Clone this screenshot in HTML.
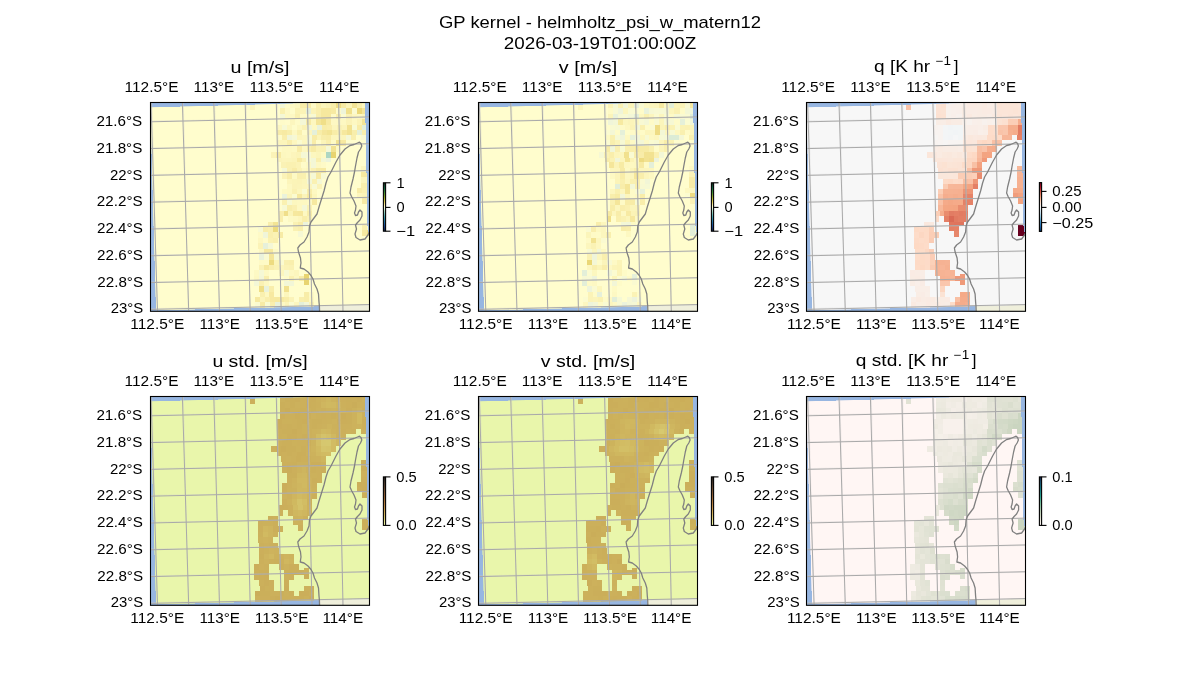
<!DOCTYPE html>
<html><head><meta charset="utf-8"><title>GP kernel - helmholtz_psi_w_matern12</title><style>html,body{margin:0;padding:0;background:#fff;}svg{display:block;will-change:transform;}</style></head><body>
<svg width="1200" height="700" viewBox="0 0 1200 700" font-family="'Liberation Sans', sans-serif" fill="#000">
<rect width="1200" height="700" fill="#fff"/>
<defs>
<clipPath id="axclip"><rect x="150.5" y="396.5" width="219" height="208.8"/></clipPath>
<clipPath id="dataclip"><polygon points="150.2,401.3 372,395.4 372,599 155.9,604.5"/></clipPath>
<path id="grid" d="M151 397L157.5 605M182.4 397L188.7 605M213.8 397L219.5 605M245.2 397L250.2 605M276.3 397L281.2 605M307.4 397L312 605M338.6 397L343 605M369.8 397L374 605M150.8 415.8L369.3 410.9M150.8 442.6L369.3 437.7M150.8 469.4L369.3 464.5M150.8 496.2L369.3 491.3M150.8 523L369.3 518.1M150.8 549.8L369.3 544.9M150.8 576.6L369.3 571.7M150.8 603.4L369.3 598.5" fill="none"/>
<path id="grid2" d="M151.9 397L157.2 605M183.3 397L188.4 605M214.7 397L219.2 605M246.1 397L249.9 605M277.2 397L280.9 605M308.3 397L311.7 605M339.5 397L342.7 605M370.7 397L373.7 605M150.8 415L369.3 411.5M150.8 441.8L369.3 438.3M150.8 468.6L369.3 465.1M150.8 495.4L369.3 491.9M150.8 522.2L369.3 518.7M150.8 549L369.3 545.5M150.8 575.8L369.3 572.3M150.8 602.6L369.3 599.1" fill="none"/>
<path id="coast" d="M319.6 606L319.4 600L319 596L318.5 588L317 583L314.5 578L313 573L311 569.5L308 566L304 563L300.3 562L300.6 559.5L301 557L300.5 552L298.5 546L297.8 542L300 539L304 536L307 531L309 526L309.5 520L311 516L314 512L317 508L319 501L321.5 493L324 485L326 477L328 471L331 466L336 456L340 449L345 443L350 439.5L354 438.5L357.5 437L359.5 436.2L361 437.5L361.8 440L360.5 443L358.5 446L357 452L355.5 460L354.5 466L353 473L351 481L350 487L351.5 490.5L354 495L356 500L355.5 504L354.5 507L355.5 509.5L357.5 509L358.5 506L360 504L362 506L362 510L360 514L357.5 516.5L355.5 519L356.5 523L355 528L356 531.5L360 534L365 533L368 529L370.5 523" fill="none"/>
</defs>
<g transform="translate(0 -294)">
<g clip-path="url(#axclip)">
<rect x="148" y="394" width="226" height="214" fill="#97b6e1"/>
<polygon points="319.6,594 374,594 374,608 319.6,608" fill="#efefdb"/>
<g clip-path="url(#dataclip)" shape-rendering="crispEdges">
<polygon points="150.2,401.3 372,395.4 372,599 155.9,604.5" fill="#fffdcd"/>
<rect x="280" y="396" width="5.16" height="5.8" fill="#f3f7d6"/><rect x="280" y="401.75" width="5.16" height="5.8" fill="#f9f0af"/><rect x="280" y="407.5" width="5.16" height="5.8" fill="#f4f7d5"/><rect x="280" y="413.25" width="5.16" height="5.8" fill="#fefbc9"/><rect x="285.11" y="396" width="5.16" height="5.8" fill="#fefbc8"/><rect x="285.11" y="401.75" width="5.16" height="5.8" fill="#fdf8c3"/><rect x="285.11" y="407.5" width="5.16" height="5.8" fill="#fdf8c1"/><rect x="285.11" y="413.25" width="5.16" height="5.8" fill="#fffccb"/><rect x="290.22" y="396" width="5.16" height="5.8" fill="#fdf9c4"/><rect x="290.22" y="401.75" width="5.16" height="5.8" fill="#fefcca"/><rect x="290.22" y="407.5" width="5.16" height="5.8" fill="#fdf8c3"/><rect x="290.22" y="413.25" width="5.16" height="5.8" fill="#fcf6be"/><rect x="295.33" y="396" width="5.16" height="5.8" fill="#fcf7bf"/><rect x="295.33" y="401.75" width="5.16" height="5.8" fill="#faf2b4"/><rect x="295.33" y="407.5" width="5.16" height="5.8" fill="#f9f0b0"/><rect x="295.33" y="413.25" width="5.16" height="5.8" fill="#fefbc8"/><rect x="300.44" y="396" width="5.16" height="5.8" fill="#f8eda9"/><rect x="300.44" y="401.75" width="5.16" height="5.8" fill="#fbf3b7"/><rect x="300.44" y="407.5" width="5.16" height="5.8" fill="#fefac6"/><rect x="300.44" y="413.25" width="5.16" height="5.8" fill="#f4f7d6"/><rect x="305.56" y="396" width="5.16" height="5.8" fill="#f8eca7"/><rect x="305.56" y="401.75" width="5.16" height="5.8" fill="#e4efd9"/><rect x="305.56" y="407.5" width="5.16" height="5.8" fill="#fefac7"/><rect x="305.56" y="413.25" width="5.16" height="5.8" fill="#f7eba5"/><rect x="310.67" y="396" width="5.16" height="5.8" fill="#fefac7"/><rect x="310.67" y="401.75" width="5.16" height="5.8" fill="#fbf3b7"/><rect x="310.67" y="407.5" width="5.16" height="5.8" fill="#f7f9d3"/><rect x="310.67" y="413.25" width="5.16" height="5.8" fill="#fdf7c0"/><rect x="315.78" y="396" width="5.16" height="5.8" fill="#f9efad"/><rect x="315.78" y="401.75" width="5.16" height="5.8" fill="#f9eeac"/><rect x="315.78" y="407.5" width="5.16" height="5.8" fill="#f8eeab"/><rect x="315.78" y="413.25" width="5.16" height="5.8" fill="#f4e597"/><rect x="320.89" y="396" width="5.16" height="5.8" fill="#fbf5bb"/><rect x="320.89" y="401.75" width="5.16" height="5.8" fill="#f6e89e"/><rect x="320.89" y="407.5" width="5.16" height="5.8" fill="#f6e89e"/><rect x="320.89" y="413.25" width="5.16" height="5.8" fill="#f0df89"/><rect x="326" y="396" width="5.16" height="5.8" fill="#faf2b5"/><rect x="326" y="401.75" width="5.16" height="5.8" fill="#f6e89e"/><rect x="326" y="407.5" width="5.16" height="5.8" fill="#f6e89e"/><rect x="326" y="413.25" width="5.16" height="5.8" fill="#f7eaa3"/><rect x="331.11" y="396" width="5.16" height="5.8" fill="#f8eeaa"/><rect x="331.11" y="401.75" width="5.16" height="5.8" fill="#f7eaa2"/><rect x="331.11" y="407.5" width="5.16" height="5.8" fill="#fefac6"/><rect x="331.11" y="413.25" width="5.16" height="5.8" fill="#fdf8c3"/><rect x="336.22" y="396" width="5.16" height="5.8" fill="#eedc84"/><rect x="336.22" y="401.75" width="5.16" height="5.8" fill="#fefbc9"/><rect x="336.22" y="407.5" width="5.16" height="5.8" fill="#f9eeac"/><rect x="336.22" y="413.25" width="5.16" height="5.8" fill="#fdf8c2"/><rect x="341.33" y="396" width="5.16" height="5.8" fill="#f7eba4"/><rect x="341.33" y="401.75" width="5.16" height="5.8" fill="#eef4da"/><rect x="341.33" y="407.5" width="5.16" height="5.8" fill="#fbfbd0"/><rect x="341.33" y="413.25" width="5.16" height="5.8" fill="#fdf8c2"/><rect x="346.44" y="396" width="5.16" height="5.8" fill="#fbf4b9"/><rect x="346.44" y="401.75" width="5.16" height="5.8" fill="#f0e08b"/><rect x="346.44" y="407.5" width="5.16" height="5.8" fill="#faf1b3"/><rect x="346.44" y="413.25" width="5.16" height="5.8" fill="#fbf3b8"/><rect x="351.56" y="396" width="5.16" height="5.8" fill="#f3e495"/><rect x="351.56" y="401.75" width="5.16" height="5.8" fill="#fafad1"/><rect x="351.56" y="407.5" width="5.16" height="5.8" fill="#fdf7c0"/><rect x="351.56" y="413.25" width="5.16" height="5.8" fill="#fdf8c2"/><rect x="356.67" y="396" width="5.16" height="5.8" fill="#f9efae"/><rect x="356.67" y="401.75" width="5.16" height="5.8" fill="#ebd879"/><rect x="356.67" y="407.5" width="5.16" height="5.8" fill="#fdf8c1"/><rect x="356.67" y="413.25" width="5.16" height="5.8" fill="#fbf3b7"/><rect x="361.78" y="396" width="5.16" height="5.8" fill="#fcf7bf"/><rect x="361.78" y="401.75" width="5.16" height="5.8" fill="#f4e597"/><rect x="361.78" y="407.5" width="5.16" height="5.8" fill="#fbf4ba"/><rect x="361.78" y="413.25" width="5.16" height="5.8" fill="#f3e496"/><rect x="366.89" y="396" width="5.16" height="5.8" fill="#fdf7c0"/><rect x="366.89" y="401.75" width="5.16" height="5.8" fill="#fcf6bd"/><rect x="366.89" y="407.5" width="5.16" height="5.8" fill="#f1e08d"/><rect x="366.89" y="413.25" width="5.16" height="5.8" fill="#f2e392"/><rect x="277" y="419" width="5.05" height="5.05" fill="#fcf7c0"/><rect x="277" y="424" width="5.05" height="5.05" fill="#f8eca7"/><rect x="282" y="419" width="5.05" height="5.05" fill="#f7f9d4"/><rect x="282" y="424" width="5.05" height="5.05" fill="#f7eaa3"/><rect x="287" y="419" width="5.05" height="5.05" fill="#fcf7c0"/><rect x="287" y="424" width="5.05" height="5.05" fill="#f8eeab"/><rect x="292" y="419" width="5.05" height="5.05" fill="#fefcca"/><rect x="292" y="424" width="5.05" height="5.05" fill="#fdf8c2"/><rect x="297" y="419" width="5.05" height="5.05" fill="#fcf7c0"/><rect x="297" y="424" width="5.05" height="5.05" fill="#f9f0af"/><rect x="302" y="419" width="5.05" height="5.05" fill="#faf2b5"/><rect x="302" y="424" width="5.05" height="5.05" fill="#fefbc9"/><rect x="307" y="419" width="5.05" height="5.05" fill="#f2f6d7"/><rect x="307" y="424" width="5.05" height="5.05" fill="#fcf5bc"/><rect x="312" y="419" width="5.05" height="5.05" fill="#fdf9c3"/><rect x="312" y="424" width="5.05" height="5.05" fill="#e5f0d9"/><rect x="317" y="419" width="5.05" height="5.05" fill="#eaf2db"/><rect x="317" y="424" width="5.05" height="5.05" fill="#f8eda9"/><rect x="322" y="419" width="5.05" height="5.05" fill="#f8eda8"/><rect x="322" y="424" width="5.05" height="5.05" fill="#f5e69b"/><rect x="327" y="419" width="5.05" height="5.05" fill="#f9eeac"/><rect x="327" y="424" width="5.05" height="5.05" fill="#f3e494"/><rect x="332" y="419" width="5.05" height="5.05" fill="#fcf6bd"/><rect x="332" y="424" width="5.05" height="5.05" fill="#f8eda8"/><rect x="337" y="419" width="5.05" height="5.05" fill="#faf2b4"/><rect x="337" y="424" width="5.05" height="5.05" fill="#f9f0af"/><rect x="342" y="419" width="5.05" height="5.05" fill="#fbf4ba"/><rect x="342" y="424" width="5.05" height="5.05" fill="#f6e89e"/><rect x="347" y="419" width="5.05" height="5.05" fill="#f2e291"/><rect x="347" y="424" width="5.05" height="5.05" fill="#f2e291"/><rect x="352" y="419" width="5.05" height="5.05" fill="#f8fad2"/><rect x="352" y="424" width="5.05" height="5.05" fill="#f8eeab"/><rect x="357" y="419" width="5.05" height="5.05" fill="#f8eca6"/><rect x="357" y="424" width="5.05" height="5.05" fill="#e4efd9"/><rect x="362" y="419" width="5.05" height="5.05" fill="#e2eed8"/><rect x="362" y="424" width="5.05" height="5.05" fill="#f9efad"/><rect x="367" y="419" width="5.05" height="5.05" fill="#fefac6"/><rect x="367" y="424" width="5.05" height="5.05" fill="#fbf5ba"/><rect x="277" y="429" width="4.99" height="5.05" fill="#fefbc9"/><rect x="281.94" y="429" width="4.99" height="5.05" fill="#f9eeac"/><rect x="286.88" y="429" width="4.99" height="5.05" fill="#f1f5d8"/><rect x="291.81" y="429" width="4.99" height="5.05" fill="#f6f8d4"/><rect x="296.75" y="429" width="4.99" height="5.05" fill="#fcf5bb"/><rect x="301.69" y="429" width="4.99" height="5.05" fill="#fcf6be"/><rect x="306.62" y="429" width="4.99" height="5.05" fill="#f7f9d3"/><rect x="311.56" y="429" width="4.99" height="5.05" fill="#f8eca6"/><rect x="316.5" y="429" width="4.99" height="5.05" fill="#fbf4b8"/><rect x="321.44" y="429" width="4.99" height="5.05" fill="#f8edaa"/><rect x="326.38" y="429" width="4.99" height="5.05" fill="#f8eca7"/><rect x="331.31" y="429" width="4.99" height="5.05" fill="#fcf6bc"/><rect x="336.25" y="429" width="4.99" height="5.05" fill="#fcf6be"/><rect x="341.19" y="429" width="4.99" height="5.05" fill="#fbf5bb"/><rect x="346.12" y="429" width="4.99" height="5.05" fill="#f4f7d6"/><rect x="351.06" y="429" width="4.99" height="5.05" fill="#f9efae"/><rect x="361" y="429" width="5.55" height="5.05" fill="#f8f9d3"/><rect x="366.5" y="429" width="5.55" height="5.05" fill="#e4efd9"/><rect x="277" y="434" width="4.98" height="5.55" fill="#fcf5bb"/><rect x="281.93" y="434" width="4.98" height="5.55" fill="#fcf5bb"/><rect x="286.86" y="434" width="4.98" height="5.55" fill="#f9eeac"/><rect x="291.79" y="434" width="4.98" height="5.55" fill="#fdf7c0"/><rect x="296.71" y="434" width="4.98" height="5.55" fill="#fbfbd0"/><rect x="301.64" y="434" width="4.98" height="5.55" fill="#fdf7c0"/><rect x="306.57" y="434" width="4.98" height="5.55" fill="#f4f7d6"/><rect x="311.5" y="434" width="4.98" height="5.55" fill="#f8eca8"/><rect x="316.43" y="434" width="4.98" height="5.55" fill="#fffcca"/><rect x="321.36" y="434" width="4.98" height="5.55" fill="#fbf4b9"/><rect x="326.29" y="434" width="4.98" height="5.55" fill="#f9eeac"/><rect x="331.21" y="434" width="4.98" height="5.55" fill="#fefac5"/><rect x="336.14" y="434" width="4.98" height="5.55" fill="#f1e18f"/><rect x="341.07" y="434" width="4.98" height="5.55" fill="#f7e9a1"/><rect x="277" y="439.5" width="4.97" height="6.05" fill="#fefac7"/><rect x="281.92" y="439.5" width="4.97" height="6.05" fill="#fdf8c1"/><rect x="286.85" y="439.5" width="4.97" height="6.05" fill="#fdf8c1"/><rect x="291.77" y="439.5" width="4.97" height="6.05" fill="#fdf9c3"/><rect x="296.69" y="439.5" width="4.97" height="6.05" fill="#f8eca8"/><rect x="301.62" y="439.5" width="4.97" height="6.05" fill="#fdf7c0"/><rect x="306.54" y="439.5" width="4.97" height="6.05" fill="#f9f0af"/><rect x="311.46" y="439.5" width="4.97" height="6.05" fill="#f7eba5"/><rect x="316.38" y="439.5" width="4.97" height="6.05" fill="#faf2b4"/><rect x="321.31" y="439.5" width="4.97" height="6.05" fill="#faf1b3"/><rect x="326.23" y="439.5" width="4.97" height="6.05" fill="#f4f7d6"/><rect x="331.15" y="439.5" width="4.97" height="6.05" fill="#f2e291"/><rect x="336.08" y="439.5" width="4.97" height="6.05" fill="#fdf9c5"/><rect x="271" y="445.5" width="5.05" height="6.05" fill="#fbf3b8"/><rect x="276" y="445.5" width="5.05" height="6.05" fill="#f7eaa3"/><rect x="281" y="445.5" width="5.05" height="6.05" fill="#fcf7bf"/><rect x="286" y="445.5" width="5.05" height="6.05" fill="#fdf8c1"/><rect x="291" y="445.5" width="5.05" height="6.05" fill="#fcf5bc"/><rect x="296" y="445.5" width="5.05" height="6.05" fill="#fbf4b8"/><rect x="301" y="445.5" width="5.05" height="6.05" fill="#f5f8d5"/><rect x="306" y="445.5" width="5.05" height="6.05" fill="#f7f9d3"/><rect x="311" y="445.5" width="5.05" height="6.05" fill="#fcf7bf"/><rect x="316" y="445.5" width="5.05" height="6.05" fill="#fbf5ba"/><rect x="321" y="445.5" width="5.05" height="6.05" fill="#fdf9c3"/><rect x="326" y="445.5" width="5.05" height="6.05" fill="#add6c3"/><rect x="331" y="445.5" width="5.05" height="6.05" fill="#e8d470"/><rect x="277" y="451.5" width="4.96" height="4.55" fill="#fbf4b9"/><rect x="281.91" y="451.5" width="4.96" height="4.55" fill="#fcf5bb"/><rect x="286.82" y="451.5" width="4.96" height="4.55" fill="#fbf5bb"/><rect x="291.73" y="451.5" width="4.96" height="4.55" fill="#fbf4b8"/><rect x="296.64" y="451.5" width="4.96" height="4.55" fill="#f7eaa2"/><rect x="301.55" y="451.5" width="4.96" height="4.55" fill="#faf2b5"/><rect x="306.45" y="451.5" width="4.96" height="4.55" fill="#fafad1"/><rect x="311.36" y="451.5" width="4.96" height="4.55" fill="#f3f7d6"/><rect x="316.27" y="451.5" width="4.96" height="4.55" fill="#f9efae"/><rect x="321.18" y="451.5" width="4.96" height="4.55" fill="#f3f7d6"/><rect x="326.09" y="451.5" width="4.96" height="4.55" fill="#ecf3dc"/><rect x="281" y="456" width="5.05" height="6.05" fill="#faf2b5"/><rect x="286" y="456" width="5.05" height="6.05" fill="#faf1b1"/><rect x="291" y="456" width="5.05" height="6.05" fill="#faf1b1"/><rect x="296" y="456" width="5.05" height="6.05" fill="#fbf3b6"/><rect x="301" y="456" width="5.05" height="6.05" fill="#fefbc9"/><rect x="306" y="456" width="5.05" height="6.05" fill="#fdf9c3"/><rect x="311" y="456" width="5.05" height="6.05" fill="#f4f7d6"/><rect x="316" y="456" width="5.05" height="6.05" fill="#fdf8c2"/><rect x="321" y="456" width="5.05" height="6.05" fill="#fefac7"/><rect x="282" y="462" width="4.94" height="5.3" fill="#f5f8d5"/><rect x="282" y="467.25" width="4.94" height="5.3" fill="#fbf3b8"/><rect x="286.89" y="462" width="4.94" height="5.3" fill="#faf1b2"/><rect x="286.89" y="467.25" width="4.94" height="5.3" fill="#f8eda9"/><rect x="291.78" y="462" width="4.94" height="5.3" fill="#f8eca7"/><rect x="291.78" y="467.25" width="4.94" height="5.3" fill="#fdf9c4"/><rect x="296.67" y="462" width="4.94" height="5.3" fill="#fbf3b6"/><rect x="296.67" y="467.25" width="4.94" height="5.3" fill="#f9efaf"/><rect x="301.56" y="462" width="4.94" height="5.3" fill="#fdf8c2"/><rect x="301.56" y="467.25" width="4.94" height="5.3" fill="#f9f0af"/><rect x="306.44" y="462" width="4.94" height="5.3" fill="#fcf6bd"/><rect x="306.44" y="467.25" width="4.94" height="5.3" fill="#fdf9c3"/><rect x="311.33" y="462" width="4.94" height="5.3" fill="#faf0b1"/><rect x="311.33" y="467.25" width="4.94" height="5.3" fill="#f5f8d5"/><rect x="316.22" y="462" width="4.94" height="5.3" fill="#f7eba4"/><rect x="316.22" y="467.25" width="4.94" height="5.3" fill="#f7eaa3"/><rect x="321.11" y="462" width="4.94" height="5.3" fill="#f7eaa2"/><rect x="321.11" y="467.25" width="4.94" height="5.3" fill="#f7f9d4"/><rect x="287" y="472.5" width="5.05" height="5.05" fill="#fcf5bb"/><rect x="287" y="477.5" width="5.05" height="5.05" fill="#fdf8c1"/><rect x="292" y="472.5" width="5.05" height="5.05" fill="#fbf4b8"/><rect x="292" y="477.5" width="5.05" height="5.05" fill="#fbf3b8"/><rect x="297" y="472.5" width="5.05" height="5.05" fill="#fbf3b7"/><rect x="297" y="477.5" width="5.05" height="5.05" fill="#fbf4b9"/><rect x="302" y="472.5" width="5.05" height="5.05" fill="#fbf5bb"/><rect x="302" y="477.5" width="5.05" height="5.05" fill="#fcf5bc"/><rect x="307" y="472.5" width="5.05" height="5.05" fill="#f4f7d6"/><rect x="307" y="477.5" width="5.05" height="5.05" fill="#fcf6bd"/><rect x="312" y="472.5" width="5.05" height="5.05" fill="#faf1b2"/><rect x="312" y="477.5" width="5.05" height="5.05" fill="#f8f9d3"/><rect x="317" y="472.5" width="5.05" height="5.05" fill="#f4f7d6"/><rect x="317" y="477.5" width="5.05" height="5.05" fill="#fbf3b8"/><rect x="282" y="482.5" width="5.05" height="5.38" fill="#fdf9c3"/><rect x="282" y="487.83" width="5.05" height="5.38" fill="#eaf2db"/><rect x="282" y="493.17" width="5.05" height="5.38" fill="#faf1b1"/><rect x="287" y="482.5" width="5.05" height="5.38" fill="#fdf8c1"/><rect x="287" y="487.83" width="5.05" height="5.38" fill="#fbf5bb"/><rect x="287" y="493.17" width="5.05" height="5.38" fill="#f7f9d3"/><rect x="292" y="482.5" width="5.05" height="5.38" fill="#faf1b2"/><rect x="292" y="487.83" width="5.05" height="5.38" fill="#fbfbd0"/><rect x="292" y="493.17" width="5.05" height="5.38" fill="#fcf7bf"/><rect x="297" y="482.5" width="5.05" height="5.38" fill="#fcf6bd"/><rect x="297" y="487.83" width="5.05" height="5.38" fill="#f6e89d"/><rect x="297" y="493.17" width="5.05" height="5.38" fill="#fdf8c1"/><rect x="302" y="482.5" width="5.05" height="5.38" fill="#f9fad2"/><rect x="302" y="487.83" width="5.05" height="5.38" fill="#fbf4b9"/><rect x="302" y="493.17" width="5.05" height="5.38" fill="#fdf8c1"/><rect x="307" y="482.5" width="5.05" height="5.38" fill="#f8edaa"/><rect x="307" y="487.83" width="5.05" height="5.38" fill="#f6e9a0"/><rect x="307" y="493.17" width="5.05" height="5.38" fill="#fdf9c4"/><rect x="312" y="482.5" width="5.05" height="5.38" fill="#fdf8c2"/><rect x="312" y="487.83" width="5.05" height="5.38" fill="#fcf6bc"/><rect x="312" y="493.17" width="5.05" height="5.38" fill="#f6e9a0"/><rect x="282" y="498.5" width="5.05" height="6.55" fill="#f7f9d3"/><rect x="287" y="498.5" width="5.05" height="6.55" fill="#f8eeab"/><rect x="292" y="498.5" width="5.05" height="6.55" fill="#faf0b1"/><rect x="297" y="498.5" width="5.05" height="6.55" fill="#fdf8c2"/><rect x="302" y="498.5" width="5.05" height="6.55" fill="#f4f7d6"/><rect x="307" y="498.5" width="5.05" height="6.55" fill="#faf2b4"/><rect x="279" y="505" width="4.76" height="5.05" fill="#f9eeac"/><rect x="283.71" y="505" width="4.76" height="5.05" fill="#f0df8a"/><rect x="288.43" y="505" width="4.76" height="5.05" fill="#fbf4b8"/><rect x="293.14" y="505" width="4.76" height="5.05" fill="#f6e89d"/><rect x="297.86" y="505" width="4.76" height="5.05" fill="#f6e79c"/><rect x="302.57" y="505" width="4.76" height="5.05" fill="#fdf8c2"/><rect x="307.29" y="505" width="4.76" height="5.05" fill="#f8eda9"/><rect x="279" y="510" width="4.05" height="5.55" fill="#f9eeac"/><rect x="288" y="510" width="4.85" height="5.55" fill="#fdf9c4"/><rect x="292.8" y="510" width="4.85" height="5.55" fill="#fdf8c1"/><rect x="297.6" y="510" width="4.85" height="5.55" fill="#fcf5bc"/><rect x="302.4" y="510" width="4.85" height="5.55" fill="#f9eeab"/><rect x="307.2" y="510" width="4.85" height="5.55" fill="#faf2b4"/><rect x="293" y="515.5" width="5.05" height="4.05" fill="#faf1b3"/><rect x="298" y="515.5" width="5.05" height="4.05" fill="#f8eca8"/><rect x="303" y="515.5" width="5.05" height="4.05" fill="#ecf3dc"/><rect x="293" y="519.5" width="5.05" height="5.55" fill="#faf1b2"/><rect x="298" y="519.5" width="5.05" height="5.55" fill="#f9efad"/><rect x="298" y="525" width="5.05" height="5.55" fill="#f6f8d4"/><rect x="361" y="460" width="5.55" height="5.55" fill="#fcf7bf"/><rect x="361" y="465.5" width="5.55" height="5.55" fill="#f6e9a0"/><rect x="361" y="471" width="5.55" height="5.55" fill="#fbf5bb"/><rect x="361" y="476.5" width="5.55" height="5.55" fill="#f9efad"/><rect x="366.5" y="460" width="5.55" height="5.55" fill="#faf2b4"/><rect x="366.5" y="465.5" width="5.55" height="5.55" fill="#f8eda9"/><rect x="366.5" y="471" width="5.55" height="5.55" fill="#fbf3b6"/><rect x="366.5" y="476.5" width="5.55" height="5.55" fill="#f9f0af"/><rect x="357" y="482" width="5.05" height="5.05" fill="#f8eca8"/><rect x="357" y="487" width="5.05" height="5.05" fill="#fcf5bc"/><rect x="362" y="482" width="5.05" height="5.05" fill="#faf0b0"/><rect x="362" y="487" width="5.05" height="5.05" fill="#fbf3b7"/><rect x="367" y="482" width="5.05" height="5.05" fill="#fafad1"/><rect x="367" y="487" width="5.05" height="5.05" fill="#ebd879"/><rect x="362" y="492" width="5.05" height="5.55" fill="#f7eaa4"/><rect x="367" y="492" width="5.05" height="5.55" fill="#fafad1"/><rect x="362" y="519" width="5.05" height="5.3" fill="#f9f0af"/><rect x="362" y="524.25" width="5.05" height="5.3" fill="#f6e9a0"/><rect x="367" y="519" width="5.05" height="5.3" fill="#fefac6"/><rect x="367" y="524.25" width="5.05" height="5.3" fill="#efde87"/><rect x="268" y="516" width="5.05" height="4.55" fill="#f9eeac"/><rect x="273" y="516" width="5.05" height="4.55" fill="#f3e494"/><rect x="258" y="520.5" width="5.05" height="5.55" fill="#f8f9d3"/><rect x="263" y="520.5" width="5.05" height="5.55" fill="#f8edaa"/><rect x="268" y="520.5" width="5.05" height="5.55" fill="#f9efae"/><rect x="273" y="520.5" width="5.05" height="5.55" fill="#ecda7d"/><rect x="258" y="526" width="5.05" height="5.55" fill="#fefac6"/><rect x="263" y="526" width="5.05" height="5.55" fill="#f0f5d9"/><rect x="268" y="526" width="5.05" height="5.55" fill="#f9efad"/><rect x="273" y="526" width="5.05" height="5.55" fill="#faf2b4"/><rect x="278" y="526" width="5.05" height="5.55" fill="#f7eba5"/><rect x="258" y="531.5" width="5.05" height="5.55" fill="#fdf7c0"/><rect x="263" y="531.5" width="5.05" height="5.55" fill="#fefbc9"/><rect x="268" y="531.5" width="5.05" height="5.55" fill="#faf1b1"/><rect x="273" y="531.5" width="5.05" height="5.55" fill="#f9efad"/><rect x="258" y="537" width="5.05" height="5.55" fill="#fbf3b7"/><rect x="263" y="537" width="5.05" height="5.55" fill="#e6f0da"/><rect x="268" y="537" width="5.05" height="5.55" fill="#f4f7d6"/><rect x="259" y="542.5" width="4.8" height="5.55" fill="#fdf8c2"/><rect x="263.75" y="542.5" width="4.8" height="5.55" fill="#f6e89f"/><rect x="268.5" y="542.5" width="4.8" height="5.55" fill="#f6e89e"/><rect x="273.25" y="542.5" width="4.8" height="5.55" fill="#fdf9c5"/><rect x="259" y="548" width="5.05" height="5.55" fill="#eaf2db"/><rect x="264" y="548" width="5.05" height="5.55" fill="#f9fad2"/><rect x="269" y="548" width="5.05" height="5.55" fill="#f4e598"/><rect x="274" y="548" width="5.05" height="5.55" fill="#f7f9d3"/><rect x="259" y="553.5" width="5.05" height="5.3" fill="#fefac5"/><rect x="259" y="558.75" width="5.05" height="5.3" fill="#faf2b5"/><rect x="264" y="553.5" width="5.05" height="5.3" fill="#fefac6"/><rect x="264" y="558.75" width="5.05" height="5.3" fill="#f6e89e"/><rect x="269" y="553.5" width="5.05" height="5.3" fill="#eddb80"/><rect x="269" y="558.75" width="5.05" height="5.3" fill="#f9eeac"/><rect x="274" y="553.5" width="5.05" height="5.3" fill="#fbf4b8"/><rect x="274" y="558.75" width="5.05" height="5.3" fill="#faf2b4"/><rect x="279" y="553.5" width="5.05" height="5.3" fill="#fbfbd0"/><rect x="279" y="558.75" width="5.05" height="5.3" fill="#fcf6bd"/><rect x="284" y="553.5" width="5.05" height="5.3" fill="#f9f0b0"/><rect x="284" y="558.75" width="5.05" height="5.3" fill="#fbf3b6"/><rect x="289" y="553.5" width="5.05" height="5.3" fill="#f9efad"/><rect x="289" y="558.75" width="5.05" height="5.3" fill="#faf2b4"/><rect x="254" y="564" width="5.05" height="5.55" fill="#fdf9c4"/><rect x="259" y="564" width="5.05" height="5.55" fill="#f5f8d5"/><rect x="264" y="564" width="5.05" height="5.55" fill="#fdf9c4"/><rect x="279" y="564" width="5.05" height="5.55" fill="#fcf6bd"/><rect x="284" y="564" width="5.05" height="5.55" fill="#f7f9d3"/><rect x="289" y="564" width="5.05" height="5.55" fill="#fdf8c2"/><rect x="294" y="564" width="5.05" height="5.55" fill="#fcf6bd"/><rect x="254" y="569.5" width="5.05" height="5.05" fill="#fdf8c1"/><rect x="259" y="569.5" width="5.05" height="5.05" fill="#f3f6d7"/><rect x="264" y="569.5" width="5.05" height="5.05" fill="#f9eeac"/><rect x="284" y="569.5" width="5.05" height="5.05" fill="#fefbc9"/><rect x="289" y="569.5" width="5.05" height="5.05" fill="#faf1b2"/><rect x="294" y="569.5" width="5.05" height="5.05" fill="#fdf8c1"/><rect x="299" y="569.5" width="5.05" height="5.05" fill="#f8eca6"/><rect x="304" y="568" width="5.05" height="5.55" fill="#e8d470"/><rect x="304" y="573.5" width="5.05" height="5.55" fill="#e8d470"/><rect x="254" y="574.5" width="5.05" height="5.55" fill="#f3f7d6"/><rect x="259" y="574.5" width="5.05" height="5.55" fill="#faf1b3"/><rect x="264" y="574.5" width="5.05" height="5.55" fill="#fdf8c1"/><rect x="284" y="574.5" width="5.05" height="5.55" fill="#f2f6d7"/><rect x="289" y="574.5" width="5.05" height="5.55" fill="#f2f6d7"/><rect x="259" y="580" width="5.05" height="5.55" fill="#efde86"/><rect x="264" y="580" width="5.05" height="5.55" fill="#eaf2db"/><rect x="269" y="580" width="5.05" height="5.55" fill="#f9eeab"/><rect x="284" y="580" width="5.05" height="5.55" fill="#f1e18f"/><rect x="260" y="585.5" width="4.72" height="5.05" fill="#f9f0b0"/><rect x="264.67" y="585.5" width="4.72" height="5.05" fill="#fdf8c2"/><rect x="269.33" y="585.5" width="4.72" height="5.05" fill="#f7e9a1"/><rect x="284" y="585.5" width="5.05" height="5.05" fill="#fcf6bd"/><rect x="304" y="585.5" width="5.05" height="5.05" fill="#f8eda8"/><rect x="309" y="585.5" width="5.05" height="5.05" fill="#fdf9c5"/><rect x="255" y="590.5" width="4.92" height="5.55" fill="#f6e9a0"/><rect x="259.88" y="590.5" width="4.92" height="5.55" fill="#fbf4ba"/><rect x="264.75" y="590.5" width="4.92" height="5.55" fill="#f9eeac"/><rect x="269.62" y="590.5" width="4.92" height="5.55" fill="#f7e9a1"/><rect x="274.5" y="590.5" width="4.92" height="5.55" fill="#f6e99f"/><rect x="279.38" y="590.5" width="4.92" height="5.55" fill="#f7eaa2"/><rect x="284.25" y="590.5" width="4.92" height="5.55" fill="#f8eda8"/><rect x="289.12" y="590.5" width="4.92" height="5.55" fill="#fbf3b8"/><rect x="299" y="590.5" width="5.05" height="5.55" fill="#f9efad"/><rect x="304" y="590.5" width="5.05" height="5.55" fill="#f8eda9"/><rect x="309" y="590.5" width="5.05" height="5.55" fill="#fdf8c1"/><rect x="255" y="596" width="4.97" height="7.05" fill="#fafad1"/><rect x="259.92" y="596" width="4.97" height="7.05" fill="#f7eba6"/><rect x="264.83" y="596" width="4.97" height="7.05" fill="#f8fad2"/><rect x="269.75" y="596" width="4.97" height="7.05" fill="#f9efae"/><rect x="274.67" y="596" width="4.97" height="7.05" fill="#e7f1da"/><rect x="279.58" y="596" width="4.97" height="7.05" fill="#fdf8c3"/><rect x="284.5" y="596" width="4.97" height="7.05" fill="#fbf4b9"/><rect x="289.42" y="596" width="4.97" height="7.05" fill="#fbfbd0"/><rect x="294.33" y="596" width="4.97" height="7.05" fill="#fcf6be"/><rect x="299.25" y="596" width="4.97" height="7.05" fill="#e4efd9"/><rect x="304.17" y="596" width="4.97" height="7.05" fill="#f1f5d8"/><rect x="309.08" y="596" width="4.97" height="7.05" fill="#fbf3b7"/><rect x="250" y="399.1" width="4.85" height="4.75" fill="#fcf5bb"/>
</g>
<path d="M365 396H372V526H368V520H367V467H366V417H365Z" fill="#97b6e1" shape-rendering="crispEdges"/>
<g transform="translate(0 0)">
<use href="#grid2" stroke="#d0d0d0" stroke-width="0.9" opacity="0.4"/>
<use href="#grid" stroke="#a9a9a9" stroke-width="1.0"/>
<use href="#coast" stroke="#808080" stroke-width="1.3" stroke-linejoin="round"/>
</g></g>
<rect x="150.5" y="396.5" width="219" height="208.8" fill="none" stroke="#000" stroke-width="1.1"/>
</g>
<g transform="translate(328 -294)">
<g clip-path="url(#axclip)">
<rect x="148" y="394" width="226" height="214" fill="#97b6e1"/>
<polygon points="319.6,594 374,594 374,608 319.6,608" fill="#efefdb"/>
<g clip-path="url(#dataclip)" shape-rendering="crispEdges">
<polygon points="150.2,401.3 372,395.4 372,599 155.9,604.5" fill="#fffdcd"/>
<rect x="280" y="396" width="5.16" height="5.8" fill="#fbf3b7"/><rect x="280" y="401.75" width="5.16" height="5.8" fill="#fefac6"/><rect x="280" y="407.5" width="5.16" height="5.8" fill="#fbf4ba"/><rect x="280" y="413.25" width="5.16" height="5.8" fill="#f0f5d9"/><rect x="285.11" y="396" width="5.16" height="5.8" fill="#f5f8d5"/><rect x="285.11" y="401.75" width="5.16" height="5.8" fill="#f8f9d3"/><rect x="285.11" y="407.5" width="5.16" height="5.8" fill="#e9f2db"/><rect x="285.11" y="413.25" width="5.16" height="5.8" fill="#f3f7d6"/><rect x="290.22" y="396" width="5.16" height="5.8" fill="#faf1b3"/><rect x="290.22" y="401.75" width="5.16" height="5.8" fill="#eff4da"/><rect x="290.22" y="407.5" width="5.16" height="5.8" fill="#f7f9d3"/><rect x="290.22" y="413.25" width="5.16" height="5.8" fill="#f7eaa1"/><rect x="295.33" y="396" width="5.16" height="5.8" fill="#f2f6d7"/><rect x="295.33" y="401.75" width="5.16" height="5.8" fill="#fcf6bd"/><rect x="295.33" y="407.5" width="5.16" height="5.8" fill="#f7f9d4"/><rect x="295.33" y="413.25" width="5.16" height="5.8" fill="#fcf6bd"/><rect x="300.44" y="396" width="5.16" height="5.8" fill="#fbf4b9"/><rect x="300.44" y="401.75" width="5.16" height="5.8" fill="#f9fad2"/><rect x="300.44" y="407.5" width="5.16" height="5.8" fill="#f3f7d7"/><rect x="300.44" y="413.25" width="5.16" height="5.8" fill="#fbf4ba"/><rect x="305.56" y="396" width="5.16" height="5.8" fill="#e8f1da"/><rect x="305.56" y="401.75" width="5.16" height="5.8" fill="#fbfbd0"/><rect x="305.56" y="407.5" width="5.16" height="5.8" fill="#e3efd9"/><rect x="305.56" y="413.25" width="5.16" height="5.8" fill="#fcf7c0"/><rect x="310.67" y="396" width="5.16" height="5.8" fill="#f9fad2"/><rect x="310.67" y="401.75" width="5.16" height="5.8" fill="#fefbc9"/><rect x="310.67" y="407.5" width="5.16" height="5.8" fill="#fcf7bf"/><rect x="310.67" y="413.25" width="5.16" height="5.8" fill="#f8f9d3"/><rect x="315.78" y="396" width="5.16" height="5.8" fill="#fdf8c2"/><rect x="315.78" y="401.75" width="5.16" height="5.8" fill="#e9f2db"/><rect x="315.78" y="407.5" width="5.16" height="5.8" fill="#f9f0af"/><rect x="315.78" y="413.25" width="5.16" height="5.8" fill="#f4f7d6"/><rect x="320.89" y="396" width="5.16" height="5.8" fill="#fcf6be"/><rect x="320.89" y="401.75" width="5.16" height="5.8" fill="#f6f8d4"/><rect x="320.89" y="407.5" width="5.16" height="5.8" fill="#fcf6be"/><rect x="320.89" y="413.25" width="5.16" height="5.8" fill="#fefbc8"/><rect x="326" y="396" width="5.16" height="5.8" fill="#fcf5bc"/><rect x="326" y="401.75" width="5.16" height="5.8" fill="#f8f9d3"/><rect x="326" y="407.5" width="5.16" height="5.8" fill="#fbfbd0"/><rect x="326" y="413.25" width="5.16" height="5.8" fill="#f8f9d2"/><rect x="331.11" y="396" width="5.16" height="5.8" fill="#f7eaa3"/><rect x="331.11" y="401.75" width="5.16" height="5.8" fill="#f7f9d3"/><rect x="331.11" y="407.5" width="5.16" height="5.8" fill="#fcf6be"/><rect x="331.11" y="413.25" width="5.16" height="5.8" fill="#fbf5bb"/><rect x="336.22" y="396" width="5.16" height="5.8" fill="#fdf9c4"/><rect x="336.22" y="401.75" width="5.16" height="5.8" fill="#f6f8d4"/><rect x="336.22" y="407.5" width="5.16" height="5.8" fill="#f8fad2"/><rect x="336.22" y="413.25" width="5.16" height="5.8" fill="#f6f8d4"/><rect x="341.33" y="396" width="5.16" height="5.8" fill="#e3efd8"/><rect x="341.33" y="401.75" width="5.16" height="5.8" fill="#fcf5bb"/><rect x="341.33" y="407.5" width="5.16" height="5.8" fill="#fefac6"/><rect x="341.33" y="413.25" width="5.16" height="5.8" fill="#f6f8d4"/><rect x="346.44" y="396" width="5.16" height="5.8" fill="#fbf3b7"/><rect x="346.44" y="401.75" width="5.16" height="5.8" fill="#faf0b1"/><rect x="346.44" y="407.5" width="5.16" height="5.8" fill="#f5f8d5"/><rect x="346.44" y="413.25" width="5.16" height="5.8" fill="#fefbc9"/><rect x="351.56" y="396" width="5.16" height="5.8" fill="#fbf4b9"/><rect x="351.56" y="401.75" width="5.16" height="5.8" fill="#fefbc8"/><rect x="351.56" y="407.5" width="5.16" height="5.8" fill="#f9fad2"/><rect x="351.56" y="413.25" width="5.16" height="5.8" fill="#e5f0d9"/><rect x="356.67" y="396" width="5.16" height="5.8" fill="#f8f9d3"/><rect x="356.67" y="401.75" width="5.16" height="5.8" fill="#f3f7d6"/><rect x="356.67" y="407.5" width="5.16" height="5.8" fill="#f9fad2"/><rect x="356.67" y="413.25" width="5.16" height="5.8" fill="#fafbd1"/><rect x="361.78" y="396" width="5.16" height="5.8" fill="#f7eba4"/><rect x="361.78" y="401.75" width="5.16" height="5.8" fill="#f1f6d8"/><rect x="361.78" y="407.5" width="5.16" height="5.8" fill="#e2efd8"/><rect x="361.78" y="413.25" width="5.16" height="5.8" fill="#f3f7d7"/><rect x="366.89" y="396" width="5.16" height="5.8" fill="#ebf3dc"/><rect x="366.89" y="401.75" width="5.16" height="5.8" fill="#f2f6d7"/><rect x="366.89" y="407.5" width="5.16" height="5.8" fill="#f5f8d5"/><rect x="366.89" y="413.25" width="5.16" height="5.8" fill="#f9fad1"/><rect x="277" y="419" width="5.05" height="5.05" fill="#fffccb"/><rect x="277" y="424" width="5.05" height="5.05" fill="#fbfbd0"/><rect x="282" y="419" width="5.05" height="5.05" fill="#f9fad1"/><rect x="282" y="424" width="5.05" height="5.05" fill="#f4f7d6"/><rect x="287" y="419" width="5.05" height="5.05" fill="#f7f9d3"/><rect x="287" y="424" width="5.05" height="5.05" fill="#fefbc8"/><rect x="292" y="419" width="5.05" height="5.05" fill="#fefac7"/><rect x="292" y="424" width="5.05" height="5.05" fill="#e5f0d9"/><rect x="297" y="419" width="5.05" height="5.05" fill="#fdf7c0"/><rect x="297" y="424" width="5.05" height="5.05" fill="#fefcca"/><rect x="302" y="419" width="5.05" height="5.05" fill="#fbf3b7"/><rect x="302" y="424" width="5.05" height="5.05" fill="#fefac7"/><rect x="307" y="419" width="5.05" height="5.05" fill="#f2f6d7"/><rect x="307" y="424" width="5.05" height="5.05" fill="#fdf9c5"/><rect x="312" y="419" width="5.05" height="5.05" fill="#faf0b0"/><rect x="312" y="424" width="5.05" height="5.05" fill="#fefbc7"/><rect x="317" y="419" width="5.05" height="5.05" fill="#fefbc9"/><rect x="317" y="424" width="5.05" height="5.05" fill="#fcf5bb"/><rect x="322" y="419" width="5.05" height="5.05" fill="#fafad1"/><rect x="322" y="424" width="5.05" height="5.05" fill="#fcf6bd"/><rect x="327" y="419" width="5.05" height="5.05" fill="#eedc84"/><rect x="327" y="424" width="5.05" height="5.05" fill="#eedc84"/><rect x="332" y="419" width="5.05" height="5.05" fill="#fbf4b8"/><rect x="332" y="424" width="5.05" height="5.05" fill="#f3f7d6"/><rect x="337" y="419" width="5.05" height="5.05" fill="#f9eeac"/><rect x="337" y="424" width="5.05" height="5.05" fill="#fcf5bc"/><rect x="342" y="419" width="5.05" height="5.05" fill="#faf2b4"/><rect x="342" y="424" width="5.05" height="5.05" fill="#f7f9d3"/><rect x="347" y="419" width="5.05" height="5.05" fill="#f9fad2"/><rect x="347" y="424" width="5.05" height="5.05" fill="#fdf7c0"/><rect x="352" y="419" width="5.05" height="5.05" fill="#faf2b4"/><rect x="352" y="424" width="5.05" height="5.05" fill="#f9f0b0"/><rect x="357" y="419" width="5.05" height="5.05" fill="#faf1b3"/><rect x="357" y="424" width="5.05" height="5.05" fill="#fefac6"/><rect x="362" y="419" width="5.05" height="5.05" fill="#fbf5bb"/><rect x="362" y="424" width="5.05" height="5.05" fill="#fcf5bb"/><rect x="367" y="419" width="5.05" height="5.05" fill="#f9efae"/><rect x="367" y="424" width="5.05" height="5.05" fill="#fefbc9"/><rect x="277" y="429" width="4.99" height="5.05" fill="#fdf9c3"/><rect x="281.94" y="429" width="4.99" height="5.05" fill="#f9f0b0"/><rect x="286.88" y="429" width="4.99" height="5.05" fill="#f5f8d5"/><rect x="291.81" y="429" width="4.99" height="5.05" fill="#f0f5d9"/><rect x="296.75" y="429" width="4.99" height="5.05" fill="#fdf8c2"/><rect x="301.69" y="429" width="4.99" height="5.05" fill="#e7f1da"/><rect x="306.62" y="429" width="4.99" height="5.05" fill="#f2f6d7"/><rect x="311.56" y="429" width="4.99" height="5.05" fill="#fcf7bf"/><rect x="316.5" y="429" width="4.99" height="5.05" fill="#f7f9d3"/><rect x="321.44" y="429" width="4.99" height="5.05" fill="#fdf8c1"/><rect x="326.38" y="429" width="4.99" height="5.05" fill="#fcf6be"/><rect x="331.31" y="429" width="4.99" height="5.05" fill="#f7f9d4"/><rect x="336.25" y="429" width="4.99" height="5.05" fill="#f5f8d5"/><rect x="341.19" y="429" width="4.99" height="5.05" fill="#dcecd6"/><rect x="346.12" y="429" width="4.99" height="5.05" fill="#dcecd6"/><rect x="351.06" y="429" width="4.99" height="5.05" fill="#f4f7d6"/><rect x="361" y="429" width="5.55" height="5.05" fill="#f9f0b0"/><rect x="366.5" y="429" width="5.55" height="5.05" fill="#fefac7"/><rect x="277" y="434" width="4.98" height="5.55" fill="#fbfbd0"/><rect x="281.93" y="434" width="4.98" height="5.55" fill="#f9efae"/><rect x="286.86" y="434" width="4.98" height="5.55" fill="#fbf4b9"/><rect x="291.79" y="434" width="4.98" height="5.55" fill="#f6f8d4"/><rect x="296.71" y="434" width="4.98" height="5.55" fill="#fbf3b6"/><rect x="301.64" y="434" width="4.98" height="5.55" fill="#fdf9c5"/><rect x="306.57" y="434" width="4.98" height="5.55" fill="#f4f7d6"/><rect x="311.5" y="434" width="4.98" height="5.55" fill="#f4f7d6"/><rect x="316.43" y="434" width="4.98" height="5.55" fill="#fdf9c5"/><rect x="321.36" y="434" width="4.98" height="5.55" fill="#fafbd1"/><rect x="326.29" y="434" width="4.98" height="5.55" fill="#f7f9d3"/><rect x="331.21" y="434" width="4.98" height="5.55" fill="#fcf5bb"/><rect x="336.14" y="434" width="4.98" height="5.55" fill="#f8eda9"/><rect x="341.07" y="434" width="4.98" height="5.55" fill="#faf2b3"/><rect x="277" y="439.5" width="4.97" height="6.05" fill="#f7eba5"/><rect x="281.92" y="439.5" width="4.97" height="6.05" fill="#f1f6d8"/><rect x="286.85" y="439.5" width="4.97" height="6.05" fill="#f9efaf"/><rect x="291.77" y="439.5" width="4.97" height="6.05" fill="#f8fad2"/><rect x="296.69" y="439.5" width="4.97" height="6.05" fill="#f9eead"/><rect x="301.62" y="439.5" width="4.97" height="6.05" fill="#f9eeab"/><rect x="306.54" y="439.5" width="4.97" height="6.05" fill="#f6e89e"/><rect x="311.46" y="439.5" width="4.97" height="6.05" fill="#f7eba4"/><rect x="316.38" y="439.5" width="4.97" height="6.05" fill="#f7eba4"/><rect x="321.31" y="439.5" width="4.97" height="6.05" fill="#f9f0af"/><rect x="326.23" y="439.5" width="4.97" height="6.05" fill="#fefbc8"/><rect x="331.15" y="439.5" width="4.97" height="6.05" fill="#fbf4b9"/><rect x="336.08" y="439.5" width="4.97" height="6.05" fill="#f9efae"/><rect x="271" y="445.5" width="5.05" height="6.05" fill="#f6f8d4"/><rect x="276" y="445.5" width="5.05" height="6.05" fill="#faf1b2"/><rect x="281" y="445.5" width="5.05" height="6.05" fill="#f9eeab"/><rect x="286" y="445.5" width="5.05" height="6.05" fill="#fcf5bb"/><rect x="291" y="445.5" width="5.05" height="6.05" fill="#fcf6be"/><rect x="296" y="445.5" width="5.05" height="6.05" fill="#f1e18e"/><rect x="301" y="445.5" width="5.05" height="6.05" fill="#f9fad2"/><rect x="306" y="445.5" width="5.05" height="6.05" fill="#f8edaa"/><rect x="311" y="445.5" width="5.05" height="6.05" fill="#f8eca8"/><rect x="316" y="445.5" width="5.05" height="6.05" fill="#f2e291"/><rect x="321" y="445.5" width="5.05" height="6.05" fill="#f2e291"/><rect x="326" y="445.5" width="5.05" height="6.05" fill="#faf0b1"/><rect x="331" y="445.5" width="5.05" height="6.05" fill="#f3f7d6"/><rect x="277" y="451.5" width="4.96" height="4.55" fill="#f8eda9"/><rect x="281.91" y="451.5" width="4.96" height="4.55" fill="#faf2b4"/><rect x="286.82" y="451.5" width="4.96" height="4.55" fill="#f1f5d8"/><rect x="291.73" y="451.5" width="4.96" height="4.55" fill="#fcf5bb"/><rect x="296.64" y="451.5" width="4.96" height="4.55" fill="#f2e392"/><rect x="301.55" y="451.5" width="4.96" height="4.55" fill="#fbf3b6"/><rect x="306.45" y="451.5" width="4.96" height="4.55" fill="#fdf7c0"/><rect x="311.36" y="451.5" width="4.96" height="4.55" fill="#eddb81"/><rect x="316.27" y="451.5" width="4.96" height="4.55" fill="#f2e291"/><rect x="321.18" y="451.5" width="4.96" height="4.55" fill="#f1e08c"/><rect x="326.09" y="451.5" width="4.96" height="4.55" fill="#edf3dc"/><rect x="281" y="456" width="5.05" height="6.05" fill="#f5e69a"/><rect x="286" y="456" width="5.05" height="6.05" fill="#fbf3b7"/><rect x="291" y="456" width="5.05" height="6.05" fill="#f7eba4"/><rect x="296" y="456" width="5.05" height="6.05" fill="#fdf7c0"/><rect x="301" y="456" width="5.05" height="6.05" fill="#fdf8c1"/><rect x="306" y="456" width="5.05" height="6.05" fill="#fcf7bf"/><rect x="311" y="456" width="5.05" height="6.05" fill="#f7eaa2"/><rect x="316" y="456" width="5.05" height="6.05" fill="#fefac6"/><rect x="321" y="456" width="5.05" height="6.05" fill="#e4efd9"/><rect x="282" y="462" width="4.94" height="5.3" fill="#fcf6bd"/><rect x="282" y="467.25" width="4.94" height="5.3" fill="#fdf9c3"/><rect x="286.89" y="462" width="4.94" height="5.3" fill="#fcf5bc"/><rect x="286.89" y="467.25" width="4.94" height="5.3" fill="#fbf4ba"/><rect x="291.78" y="462" width="4.94" height="5.3" fill="#f7eba5"/><rect x="291.78" y="467.25" width="4.94" height="5.3" fill="#f8eda9"/><rect x="296.67" y="462" width="4.94" height="5.3" fill="#fdf9c4"/><rect x="296.67" y="467.25" width="4.94" height="5.3" fill="#fcf7c0"/><rect x="301.56" y="462" width="4.94" height="5.3" fill="#fbf4b9"/><rect x="301.56" y="467.25" width="4.94" height="5.3" fill="#fcf5bc"/><rect x="306.44" y="462" width="4.94" height="5.3" fill="#f8eeaa"/><rect x="306.44" y="467.25" width="4.94" height="5.3" fill="#f5e69a"/><rect x="311.33" y="462" width="4.94" height="5.3" fill="#fcf5bb"/><rect x="311.33" y="467.25" width="4.94" height="5.3" fill="#f9eeab"/><rect x="316.22" y="462" width="4.94" height="5.3" fill="#fcf5bb"/><rect x="316.22" y="467.25" width="4.94" height="5.3" fill="#fcf5bc"/><rect x="321.11" y="462" width="4.94" height="5.3" fill="#fcf6bd"/><rect x="321.11" y="467.25" width="4.94" height="5.3" fill="#fdf8c2"/><rect x="287" y="472.5" width="5.05" height="5.05" fill="#fbf4b8"/><rect x="287" y="477.5" width="5.05" height="5.05" fill="#e2eed8"/><rect x="292" y="472.5" width="5.05" height="5.05" fill="#f9efae"/><rect x="292" y="477.5" width="5.05" height="5.05" fill="#f8edaa"/><rect x="297" y="472.5" width="5.05" height="5.05" fill="#fcf6bd"/><rect x="297" y="477.5" width="5.05" height="5.05" fill="#f4e598"/><rect x="302" y="472.5" width="5.05" height="5.05" fill="#f9f0b0"/><rect x="302" y="477.5" width="5.05" height="5.05" fill="#f3f7d7"/><rect x="307" y="472.5" width="5.05" height="5.05" fill="#f9eeac"/><rect x="307" y="477.5" width="5.05" height="5.05" fill="#f9efaf"/><rect x="312" y="472.5" width="5.05" height="5.05" fill="#fafad1"/><rect x="312" y="477.5" width="5.05" height="5.05" fill="#f8f9d2"/><rect x="317" y="472.5" width="5.05" height="5.05" fill="#f2f6d7"/><rect x="317" y="477.5" width="5.05" height="5.05" fill="#f6f9d4"/><rect x="282" y="482.5" width="5.05" height="5.38" fill="#fcf6be"/><rect x="282" y="487.83" width="5.05" height="5.38" fill="#f8eeab"/><rect x="282" y="493.17" width="5.05" height="5.38" fill="#faf1b2"/><rect x="287" y="482.5" width="5.05" height="5.38" fill="#f9f0af"/><rect x="287" y="487.83" width="5.05" height="5.38" fill="#f7eba4"/><rect x="287" y="493.17" width="5.05" height="5.38" fill="#f5e69a"/><rect x="292" y="482.5" width="5.05" height="5.38" fill="#fcf6bd"/><rect x="292" y="487.83" width="5.05" height="5.38" fill="#f2f6d7"/><rect x="292" y="493.17" width="5.05" height="5.38" fill="#fefac6"/><rect x="297" y="482.5" width="5.05" height="5.38" fill="#f4e699"/><rect x="297" y="487.83" width="5.05" height="5.38" fill="#fcf6bd"/><rect x="297" y="493.17" width="5.05" height="5.38" fill="#f8eca7"/><rect x="302" y="482.5" width="5.05" height="5.38" fill="#fefbc8"/><rect x="302" y="487.83" width="5.05" height="5.38" fill="#fefbc8"/><rect x="302" y="493.17" width="5.05" height="5.38" fill="#f8eca7"/><rect x="307" y="482.5" width="5.05" height="5.38" fill="#f9fad2"/><rect x="307" y="487.83" width="5.05" height="5.38" fill="#fdf8c2"/><rect x="307" y="493.17" width="5.05" height="5.38" fill="#f8fad2"/><rect x="312" y="482.5" width="5.05" height="5.38" fill="#e8f1da"/><rect x="312" y="487.83" width="5.05" height="5.38" fill="#f8eda9"/><rect x="312" y="493.17" width="5.05" height="5.38" fill="#f9eeab"/><rect x="282" y="498.5" width="5.05" height="6.55" fill="#f8eda9"/><rect x="287" y="498.5" width="5.05" height="6.55" fill="#fcf6bd"/><rect x="292" y="498.5" width="5.05" height="6.55" fill="#f9eeac"/><rect x="297" y="498.5" width="5.05" height="6.55" fill="#faf0b0"/><rect x="302" y="498.5" width="5.05" height="6.55" fill="#fbf5ba"/><rect x="307" y="498.5" width="5.05" height="6.55" fill="#fbf4ba"/><rect x="279" y="505" width="4.76" height="5.05" fill="#f7eba4"/><rect x="283.71" y="505" width="4.76" height="5.05" fill="#fcf6be"/><rect x="288.43" y="505" width="4.76" height="5.05" fill="#f8edaa"/><rect x="293.14" y="505" width="4.76" height="5.05" fill="#fdf8c3"/><rect x="297.86" y="505" width="4.76" height="5.05" fill="#f7eaa3"/><rect x="302.57" y="505" width="4.76" height="5.05" fill="#fbf3b6"/><rect x="307.29" y="505" width="4.76" height="5.05" fill="#faf2b5"/><rect x="279" y="510" width="4.05" height="5.55" fill="#f0df89"/><rect x="288" y="510" width="4.85" height="5.55" fill="#f9efad"/><rect x="292.8" y="510" width="4.85" height="5.55" fill="#faf1b2"/><rect x="297.6" y="510" width="4.85" height="5.55" fill="#fbf5ba"/><rect x="302.4" y="510" width="4.85" height="5.55" fill="#f6e89e"/><rect x="307.2" y="510" width="4.85" height="5.55" fill="#fdf8c2"/><rect x="293" y="515.5" width="5.05" height="4.05" fill="#f3f7d6"/><rect x="298" y="515.5" width="5.05" height="4.05" fill="#f2f6d7"/><rect x="303" y="515.5" width="5.05" height="4.05" fill="#fdf9c4"/><rect x="293" y="519.5" width="5.05" height="5.55" fill="#f8eda9"/><rect x="298" y="519.5" width="5.05" height="5.55" fill="#f9eeab"/><rect x="298" y="525" width="5.05" height="5.55" fill="#fdf8c1"/><rect x="361" y="460" width="5.55" height="5.55" fill="#fefac5"/><rect x="361" y="465.5" width="5.55" height="5.55" fill="#fbf3b8"/><rect x="361" y="471" width="5.55" height="5.55" fill="#f8eca7"/><rect x="361" y="476.5" width="5.55" height="5.55" fill="#f8eca7"/><rect x="366.5" y="460" width="5.55" height="5.55" fill="#fdf8c2"/><rect x="366.5" y="465.5" width="5.55" height="5.55" fill="#f3f7d6"/><rect x="366.5" y="471" width="5.55" height="5.55" fill="#f5f8d5"/><rect x="366.5" y="476.5" width="5.55" height="5.55" fill="#f7eba5"/><rect x="357" y="482" width="5.05" height="5.05" fill="#fdf8c1"/><rect x="357" y="487" width="5.05" height="5.05" fill="#fbfbd0"/><rect x="362" y="482" width="5.05" height="5.05" fill="#fcf6be"/><rect x="362" y="487" width="5.05" height="5.05" fill="#eedc83"/><rect x="367" y="482" width="5.05" height="5.05" fill="#fefac6"/><rect x="367" y="487" width="5.05" height="5.05" fill="#f7eba5"/><rect x="362" y="492" width="5.05" height="5.55" fill="#fbf3b7"/><rect x="367" y="492" width="5.05" height="5.55" fill="#f7f9d3"/><rect x="362" y="519" width="5.05" height="5.3" fill="#e2eed8"/><rect x="362" y="524.25" width="5.05" height="5.3" fill="#e2eed8"/><rect x="367" y="519" width="5.05" height="5.3" fill="#fbf4b9"/><rect x="367" y="524.25" width="5.05" height="5.3" fill="#f3f7d6"/><rect x="268" y="516" width="5.05" height="4.55" fill="#f9eeab"/><rect x="273" y="516" width="5.05" height="4.55" fill="#fcf6bc"/><rect x="258" y="520.5" width="5.05" height="5.55" fill="#fafad1"/><rect x="263" y="520.5" width="5.05" height="5.55" fill="#f9eead"/><rect x="268" y="520.5" width="5.05" height="5.55" fill="#fdf8c1"/><rect x="273" y="520.5" width="5.05" height="5.55" fill="#fcf6be"/><rect x="258" y="526" width="5.05" height="5.55" fill="#fbf5ba"/><rect x="263" y="526" width="5.05" height="5.55" fill="#fefac6"/><rect x="268" y="526" width="5.05" height="5.55" fill="#fefbc7"/><rect x="273" y="526" width="5.05" height="5.55" fill="#fcf6be"/><rect x="278" y="526" width="5.05" height="5.55" fill="#f9efae"/><rect x="258" y="531.5" width="5.05" height="5.55" fill="#fefac6"/><rect x="263" y="531.5" width="5.05" height="5.55" fill="#f2e392"/><rect x="268" y="531.5" width="5.05" height="5.55" fill="#fcf6be"/><rect x="273" y="531.5" width="5.05" height="5.55" fill="#fafad1"/><rect x="258" y="537" width="5.05" height="5.55" fill="#fcf6bd"/><rect x="263" y="537" width="5.05" height="5.55" fill="#faf2b5"/><rect x="268" y="537" width="5.05" height="5.55" fill="#fdf7c0"/><rect x="259" y="542.5" width="4.8" height="5.55" fill="#f7f9d4"/><rect x="263.75" y="542.5" width="4.8" height="5.55" fill="#fcf6bc"/><rect x="268.5" y="542.5" width="4.8" height="5.55" fill="#f2f6d7"/><rect x="273.25" y="542.5" width="4.8" height="5.55" fill="#fdf8c1"/><rect x="259" y="548" width="5.05" height="5.55" fill="#faf1b3"/><rect x="264" y="548" width="5.05" height="5.55" fill="#eff4da"/><rect x="269" y="548" width="5.05" height="5.55" fill="#fcf6bd"/><rect x="274" y="548" width="5.05" height="5.55" fill="#f9efae"/><rect x="259" y="553.5" width="5.05" height="5.3" fill="#ead776"/><rect x="259" y="558.75" width="5.05" height="5.3" fill="#fcf6be"/><rect x="264" y="553.5" width="5.05" height="5.3" fill="#f4f7d6"/><rect x="264" y="558.75" width="5.05" height="5.3" fill="#f9efae"/><rect x="269" y="553.5" width="5.05" height="5.3" fill="#fefbc8"/><rect x="269" y="558.75" width="5.05" height="5.3" fill="#fbf4b8"/><rect x="274" y="553.5" width="5.05" height="5.3" fill="#fbf4ba"/><rect x="274" y="558.75" width="5.05" height="5.3" fill="#f9eeac"/><rect x="279" y="553.5" width="5.05" height="5.3" fill="#f8f9d3"/><rect x="279" y="558.75" width="5.05" height="5.3" fill="#fdf8c3"/><rect x="284" y="553.5" width="5.05" height="5.3" fill="#fdf9c5"/><rect x="284" y="558.75" width="5.05" height="5.3" fill="#fbf4b9"/><rect x="289" y="553.5" width="5.05" height="5.3" fill="#fbf4b8"/><rect x="289" y="558.75" width="5.05" height="5.3" fill="#fbf3b6"/><rect x="254" y="564" width="5.05" height="5.55" fill="#e3efd8"/><rect x="259" y="564" width="5.05" height="5.55" fill="#fbfbd0"/><rect x="264" y="564" width="5.05" height="5.55" fill="#fcf7bf"/><rect x="279" y="564" width="5.05" height="5.55" fill="#f2f6d7"/><rect x="284" y="564" width="5.05" height="5.55" fill="#fbfbd0"/><rect x="289" y="564" width="5.05" height="5.55" fill="#fbf3b7"/><rect x="294" y="564" width="5.05" height="5.55" fill="#fefbc7"/><rect x="254" y="569.5" width="5.05" height="5.05" fill="#f6f8d4"/><rect x="259" y="569.5" width="5.05" height="5.05" fill="#f7f9d4"/><rect x="264" y="569.5" width="5.05" height="5.05" fill="#edf3db"/><rect x="284" y="569.5" width="5.05" height="5.05" fill="#fbf5ba"/><rect x="289" y="569.5" width="5.05" height="5.05" fill="#fbfbd0"/><rect x="294" y="569.5" width="5.05" height="5.05" fill="#f5f8d5"/><rect x="299" y="569.5" width="5.05" height="5.05" fill="#fefac6"/><rect x="304" y="568" width="5.05" height="5.55" fill="#e6f0da"/><rect x="304" y="573.5" width="5.05" height="5.55" fill="#fafad1"/><rect x="254" y="574.5" width="5.05" height="5.55" fill="#e3efd8"/><rect x="259" y="574.5" width="5.05" height="5.55" fill="#fefac5"/><rect x="264" y="574.5" width="5.05" height="5.55" fill="#fdf8c3"/><rect x="284" y="574.5" width="5.05" height="5.55" fill="#f2f6d7"/><rect x="289" y="574.5" width="5.05" height="5.55" fill="#fefbc8"/><rect x="259" y="580" width="5.05" height="5.55" fill="#eef4da"/><rect x="264" y="580" width="5.05" height="5.55" fill="#fafad1"/><rect x="269" y="580" width="5.05" height="5.55" fill="#fcf6bd"/><rect x="284" y="580" width="5.05" height="5.55" fill="#fefac5"/><rect x="260" y="585.5" width="4.72" height="5.05" fill="#fbf3b7"/><rect x="264.67" y="585.5" width="4.72" height="5.05" fill="#fefbc8"/><rect x="269.33" y="585.5" width="4.72" height="5.05" fill="#e6f0da"/><rect x="284" y="585.5" width="5.05" height="5.05" fill="#fdf8c3"/><rect x="304" y="585.5" width="5.05" height="5.05" fill="#fbf3b6"/><rect x="309" y="585.5" width="5.05" height="5.05" fill="#fefbc8"/><rect x="255" y="590.5" width="4.92" height="5.55" fill="#fbfbd0"/><rect x="259.88" y="590.5" width="4.92" height="5.55" fill="#fbf3b7"/><rect x="264.75" y="590.5" width="4.92" height="5.55" fill="#fbf4ba"/><rect x="269.62" y="590.5" width="4.92" height="5.55" fill="#faf2b4"/><rect x="274.5" y="590.5" width="4.92" height="5.55" fill="#fefbc8"/><rect x="279.38" y="590.5" width="4.92" height="5.55" fill="#fdf8c3"/><rect x="284.25" y="590.5" width="4.92" height="5.55" fill="#e2eed8"/><rect x="289.12" y="590.5" width="4.92" height="5.55" fill="#f5f8d5"/><rect x="299" y="590.5" width="5.05" height="5.55" fill="#f5f7d5"/><rect x="304" y="590.5" width="5.05" height="5.55" fill="#edf3db"/><rect x="309" y="590.5" width="5.05" height="5.55" fill="#f9fad2"/><rect x="255" y="596" width="4.97" height="7.05" fill="#fcf7c0"/><rect x="259.92" y="596" width="4.97" height="7.05" fill="#edf4db"/><rect x="264.83" y="596" width="4.97" height="7.05" fill="#f2f6d7"/><rect x="269.75" y="596" width="4.97" height="7.05" fill="#fefac6"/><rect x="274.67" y="596" width="4.97" height="7.05" fill="#f9fad2"/><rect x="279.58" y="596" width="4.97" height="7.05" fill="#fcf6be"/><rect x="284.5" y="596" width="4.97" height="7.05" fill="#fdf9c5"/><rect x="289.42" y="596" width="4.97" height="7.05" fill="#f7f9d3"/><rect x="294.33" y="596" width="4.97" height="7.05" fill="#ecf3dc"/><rect x="299.25" y="596" width="4.97" height="7.05" fill="#f3f7d6"/><rect x="304.17" y="596" width="4.97" height="7.05" fill="#f5f8d5"/><rect x="309.08" y="596" width="4.97" height="7.05" fill="#fdf7c0"/><rect x="250" y="399.1" width="4.85" height="4.75" fill="#fcf6bd"/>
</g>
<path d="M365 396H372V526H368V520H367V467H366V417H365Z" fill="#97b6e1" shape-rendering="crispEdges"/>
<g transform="translate(0.3 0)">
<use href="#grid2" stroke="#d0d0d0" stroke-width="0.9" opacity="0.4"/>
<use href="#grid" stroke="#a9a9a9" stroke-width="1.0"/>
<use href="#coast" stroke="#808080" stroke-width="1.3" stroke-linejoin="round"/>
</g></g>
<rect x="150.5" y="396.5" width="219" height="208.8" fill="none" stroke="#000" stroke-width="1.1"/>
</g>
<g transform="translate(656 -294)">
<g clip-path="url(#axclip)">
<rect x="148" y="394" width="226" height="214" fill="#97b6e1"/>
<polygon points="319.6,594 374,594 374,608 319.6,608" fill="#efefdb"/>
<g clip-path="url(#dataclip)" shape-rendering="crispEdges">
<polygon points="150.2,401.3 372,395.4 372,599 155.9,604.5" fill="#f7f7f7"/>
<rect x="280" y="396" width="5.16" height="5.8" fill="#fbe3d5"/><rect x="280" y="401.75" width="5.16" height="5.8" fill="#fce2d3"/><rect x="280" y="407.5" width="5.16" height="5.8" fill="#fce1d1"/><rect x="280" y="413.25" width="5.16" height="5.8" fill="#f9ede5"/><rect x="285.11" y="396" width="5.16" height="5.8" fill="#fce1d1"/><rect x="285.11" y="401.75" width="5.16" height="5.8" fill="#fbe3d4"/><rect x="285.11" y="407.5" width="5.16" height="5.8" fill="#fce2d2"/><rect x="285.11" y="413.25" width="5.16" height="5.8" fill="#f9ede6"/><rect x="290.22" y="396" width="5.16" height="5.8" fill="#f8f0ec"/><rect x="290.22" y="401.75" width="5.16" height="5.8" fill="#f8f1ec"/><rect x="290.22" y="407.5" width="5.16" height="5.8" fill="#f8f1ec"/><rect x="290.22" y="413.25" width="5.16" height="5.8" fill="#faeae1"/><rect x="295.33" y="396" width="5.16" height="5.8" fill="#f9efea"/><rect x="295.33" y="401.75" width="5.16" height="5.8" fill="#f9f0eb"/><rect x="295.33" y="407.5" width="5.16" height="5.8" fill="#f9efea"/><rect x="295.33" y="413.25" width="5.16" height="5.8" fill="#f9ece4"/><rect x="300.44" y="396" width="5.16" height="5.8" fill="#f9f0ea"/><rect x="300.44" y="401.75" width="5.16" height="5.8" fill="#f9efea"/><rect x="300.44" y="407.5" width="5.16" height="5.8" fill="#f8f1ed"/><rect x="300.44" y="413.25" width="5.16" height="5.8" fill="#f9ece4"/><rect x="305.56" y="396" width="5.16" height="5.8" fill="#f9eee7"/><rect x="305.56" y="401.75" width="5.16" height="5.8" fill="#f9ece3"/><rect x="305.56" y="407.5" width="5.16" height="5.8" fill="#f9ece4"/><rect x="305.56" y="413.25" width="5.16" height="5.8" fill="#f9f0ea"/><rect x="310.67" y="396" width="5.16" height="5.8" fill="#faebe3"/><rect x="310.67" y="401.75" width="5.16" height="5.8" fill="#f9ece5"/><rect x="310.67" y="407.5" width="5.16" height="5.8" fill="#faeae1"/><rect x="310.67" y="413.25" width="5.16" height="5.8" fill="#f8f2ee"/><rect x="315.78" y="396" width="5.16" height="5.8" fill="#faebe3"/><rect x="315.78" y="401.75" width="5.16" height="5.8" fill="#f9ece5"/><rect x="315.78" y="407.5" width="5.16" height="5.8" fill="#f9ede5"/><rect x="315.78" y="413.25" width="5.16" height="5.8" fill="#f9efea"/><rect x="320.89" y="396" width="5.16" height="5.8" fill="#f9ece4"/><rect x="320.89" y="401.75" width="5.16" height="5.8" fill="#f9ece4"/><rect x="320.89" y="407.5" width="5.16" height="5.8" fill="#f9ece4"/><rect x="320.89" y="413.25" width="5.16" height="5.8" fill="#f9efe9"/><rect x="326" y="396" width="5.16" height="5.8" fill="#faebe2"/><rect x="326" y="401.75" width="5.16" height="5.8" fill="#faebe3"/><rect x="326" y="407.5" width="5.16" height="5.8" fill="#f9ece4"/><rect x="326" y="413.25" width="5.16" height="5.8" fill="#f8f1ed"/><rect x="331.11" y="396" width="5.16" height="5.8" fill="#f9ede6"/><rect x="331.11" y="401.75" width="5.16" height="5.8" fill="#faebe3"/><rect x="331.11" y="407.5" width="5.16" height="5.8" fill="#f9ede6"/><rect x="331.11" y="413.25" width="5.16" height="5.8" fill="#f9f0ea"/><rect x="336.22" y="396" width="5.16" height="5.8" fill="#f9ede5"/><rect x="336.22" y="401.75" width="5.16" height="5.8" fill="#f9ece5"/><rect x="336.22" y="407.5" width="5.16" height="5.8" fill="#faeae1"/><rect x="336.22" y="413.25" width="5.16" height="5.8" fill="#f8f1ec"/><rect x="341.33" y="396" width="5.16" height="5.8" fill="#fbe4d6"/><rect x="341.33" y="401.75" width="5.16" height="5.8" fill="#fbe5d8"/><rect x="341.33" y="407.5" width="5.16" height="5.8" fill="#fbe4d7"/><rect x="341.33" y="413.25" width="5.16" height="5.8" fill="#fbe3d4"/><rect x="346.44" y="396" width="5.16" height="5.8" fill="#fbe5d8"/><rect x="346.44" y="401.75" width="5.16" height="5.8" fill="#fbe5d8"/><rect x="346.44" y="407.5" width="5.16" height="5.8" fill="#fbe6da"/><rect x="346.44" y="413.25" width="5.16" height="5.8" fill="#fce0d0"/><rect x="351.56" y="396" width="5.16" height="5.8" fill="#fbe5d7"/><rect x="351.56" y="401.75" width="5.16" height="5.8" fill="#fbe5d8"/><rect x="351.56" y="407.5" width="5.16" height="5.8" fill="#fbe4d7"/><rect x="351.56" y="413.25" width="5.16" height="5.8" fill="#fbceb6"/><rect x="356.67" y="396" width="5.16" height="5.8" fill="#fbe5d8"/><rect x="356.67" y="401.75" width="5.16" height="5.8" fill="#fbe4d6"/><rect x="356.67" y="407.5" width="5.16" height="5.8" fill="#fbe6da"/><rect x="356.67" y="413.25" width="5.16" height="5.8" fill="#fbceb7"/><rect x="361.78" y="396" width="5.16" height="5.8" fill="#fbe6da"/><rect x="361.78" y="401.75" width="5.16" height="5.8" fill="#fbe5d8"/><rect x="361.78" y="407.5" width="5.16" height="5.8" fill="#fbe5d7"/><rect x="361.78" y="413.25" width="5.16" height="5.8" fill="#f5ad8d"/><rect x="366.89" y="396" width="5.16" height="5.8" fill="#fbe4d7"/><rect x="366.89" y="401.75" width="5.16" height="5.8" fill="#fbe5d9"/><rect x="366.89" y="407.5" width="5.16" height="5.8" fill="#fbe3d5"/><rect x="366.89" y="413.25" width="5.16" height="5.8" fill="#f6af8f"/><rect x="277" y="419" width="5.05" height="5.05" fill="#f8f2ee"/><rect x="277" y="424" width="5.05" height="5.05" fill="#f8f3f0"/><rect x="282" y="419" width="5.05" height="5.05" fill="#f8f3f0"/><rect x="282" y="424" width="5.05" height="5.05" fill="#f8f3f0"/><rect x="287" y="419" width="5.05" height="5.05" fill="#f3f5f6"/><rect x="287" y="424" width="5.05" height="5.05" fill="#f3f5f6"/><rect x="292" y="419" width="5.05" height="5.05" fill="#f1f4f6"/><rect x="292" y="424" width="5.05" height="5.05" fill="#f2f5f6"/><rect x="297" y="419" width="5.05" height="5.05" fill="#f2f5f6"/><rect x="297" y="424" width="5.05" height="5.05" fill="#f1f4f6"/><rect x="302" y="419" width="5.05" height="5.05" fill="#f2f5f6"/><rect x="302" y="424" width="5.05" height="5.05" fill="#f2f5f6"/><rect x="307" y="419" width="5.05" height="5.05" fill="#f9eee7"/><rect x="307" y="424" width="5.05" height="5.05" fill="#f9ede6"/><rect x="312" y="419" width="5.05" height="5.05" fill="#f9ede7"/><rect x="312" y="424" width="5.05" height="5.05" fill="#f9ede6"/><rect x="317" y="419" width="5.05" height="5.05" fill="#f9ede7"/><rect x="317" y="424" width="5.05" height="5.05" fill="#f9ece5"/><rect x="322" y="419" width="5.05" height="5.05" fill="#f9eee8"/><rect x="322" y="424" width="5.05" height="5.05" fill="#f9efe9"/><rect x="327" y="419" width="5.05" height="5.05" fill="#f9ece4"/><rect x="327" y="424" width="5.05" height="5.05" fill="#f9eee7"/><rect x="332" y="419" width="5.05" height="5.05" fill="#fdddcb"/><rect x="332" y="424" width="5.05" height="5.05" fill="#fdddca"/><rect x="337" y="419" width="5.05" height="5.05" fill="#fcdecc"/><rect x="337" y="424" width="5.05" height="5.05" fill="#fcdecd"/><rect x="342" y="419" width="5.05" height="5.05" fill="#fac6ad"/><rect x="342" y="424" width="5.05" height="5.05" fill="#f9c3a8"/><rect x="347" y="419" width="5.05" height="5.05" fill="#fac6ad"/><rect x="347" y="424" width="5.05" height="5.05" fill="#f9c6ac"/><rect x="352" y="419" width="5.05" height="5.05" fill="#f5ad8c"/><rect x="352" y="424" width="5.05" height="5.05" fill="#f6b090"/><rect x="357" y="419" width="5.05" height="5.05" fill="#f5ad8c"/><rect x="357" y="424" width="5.05" height="5.05" fill="#f5ac8b"/><rect x="362" y="419" width="5.05" height="5.05" fill="#e27b62"/><rect x="362" y="424" width="5.05" height="5.05" fill="#e27d63"/><rect x="367" y="419" width="5.05" height="5.05" fill="#e37e64"/><rect x="367" y="424" width="5.05" height="5.05" fill="#e27c63"/><rect x="277" y="429" width="4.99" height="5.05" fill="#f7f5f3"/><rect x="281.94" y="429" width="4.99" height="5.05" fill="#f8f3f0"/><rect x="286.88" y="429" width="4.99" height="5.05" fill="#f3f5f6"/><rect x="291.81" y="429" width="4.99" height="5.05" fill="#f2f4f6"/><rect x="296.75" y="429" width="4.99" height="5.05" fill="#f5f6f7"/><rect x="301.69" y="429" width="4.99" height="5.05" fill="#f2f5f6"/><rect x="306.62" y="429" width="4.99" height="5.05" fill="#faeae1"/><rect x="311.56" y="429" width="4.99" height="5.05" fill="#fae8dd"/><rect x="316.5" y="429" width="4.99" height="5.05" fill="#fae9e0"/><rect x="321.44" y="429" width="4.99" height="5.05" fill="#fae8de"/><rect x="326.38" y="429" width="4.99" height="5.05" fill="#fae9de"/><rect x="331.31" y="429" width="4.99" height="5.05" fill="#fddcc9"/><rect x="336.25" y="429" width="4.99" height="5.05" fill="#fddbc7"/><rect x="341.19" y="429" width="4.99" height="5.05" fill="#fddbc7"/><rect x="346.12" y="429" width="4.99" height="5.05" fill="#f7b698"/><rect x="351.06" y="429" width="4.99" height="5.05" fill="#f7b698"/><rect x="361" y="429" width="5.55" height="5.05" fill="#e58267"/><rect x="366.5" y="429" width="5.55" height="5.05" fill="#e48166"/><rect x="277" y="434" width="4.98" height="5.55" fill="#f8f3f0"/><rect x="281.93" y="434" width="4.98" height="5.55" fill="#f8f4f2"/><rect x="286.86" y="434" width="4.98" height="5.55" fill="#f7f5f4"/><rect x="291.79" y="434" width="4.98" height="5.55" fill="#f8f4f2"/><rect x="296.71" y="434" width="4.98" height="5.55" fill="#f8f4f2"/><rect x="301.64" y="434" width="4.98" height="5.55" fill="#f8f4f1"/><rect x="306.57" y="434" width="4.98" height="5.55" fill="#fbe6da"/><rect x="311.5" y="434" width="4.98" height="5.55" fill="#fbe6db"/><rect x="316.43" y="434" width="4.98" height="5.55" fill="#fae7dc"/><rect x="321.36" y="434" width="4.98" height="5.55" fill="#fddbc8"/><rect x="326.29" y="434" width="4.98" height="5.55" fill="#fdd8c3"/><rect x="331.21" y="434" width="4.98" height="5.55" fill="#fddbc7"/><rect x="336.14" y="434" width="4.98" height="5.55" fill="#f9c0a5"/><rect x="341.07" y="434" width="4.98" height="5.55" fill="#f8c0a4"/><rect x="277" y="439.5" width="4.97" height="6.05" fill="#f9ece4"/><rect x="281.92" y="439.5" width="4.97" height="6.05" fill="#faebe2"/><rect x="286.85" y="439.5" width="4.97" height="6.05" fill="#f9ece4"/><rect x="291.77" y="439.5" width="4.97" height="6.05" fill="#f9ece4"/><rect x="296.69" y="439.5" width="4.97" height="6.05" fill="#f9ece4"/><rect x="301.62" y="439.5" width="4.97" height="6.05" fill="#f9ede6"/><rect x="306.54" y="439.5" width="4.97" height="6.05" fill="#fce1d0"/><rect x="311.46" y="439.5" width="4.97" height="6.05" fill="#fce2d2"/><rect x="316.38" y="439.5" width="4.97" height="6.05" fill="#fbe3d4"/><rect x="321.31" y="439.5" width="4.97" height="6.05" fill="#f8bfa3"/><rect x="326.23" y="439.5" width="4.97" height="6.05" fill="#f9c3a9"/><rect x="331.15" y="439.5" width="4.97" height="6.05" fill="#f5ad8d"/><rect x="336.08" y="439.5" width="4.97" height="6.05" fill="#f5ac8b"/><rect x="271" y="445.5" width="5.05" height="6.05" fill="#fbe6da"/><rect x="276" y="445.5" width="5.05" height="6.05" fill="#fae8de"/><rect x="281" y="445.5" width="5.05" height="6.05" fill="#faebe2"/><rect x="286" y="445.5" width="5.05" height="6.05" fill="#fae9de"/><rect x="291" y="445.5" width="5.05" height="6.05" fill="#fae8dd"/><rect x="296" y="445.5" width="5.05" height="6.05" fill="#faeae0"/><rect x="301" y="445.5" width="5.05" height="6.05" fill="#fae8dd"/><rect x="306" y="445.5" width="5.05" height="6.05" fill="#faeae1"/><rect x="311" y="445.5" width="5.05" height="6.05" fill="#fddcc9"/><rect x="316" y="445.5" width="5.05" height="6.05" fill="#fdd9c4"/><rect x="321" y="445.5" width="5.05" height="6.05" fill="#f8bca0"/><rect x="326" y="445.5" width="5.05" height="6.05" fill="#f3a481"/><rect x="331" y="445.5" width="5.05" height="6.05" fill="#f4a482"/><rect x="277" y="451.5" width="4.96" height="4.55" fill="#fbe7db"/><rect x="281.91" y="451.5" width="4.96" height="4.55" fill="#fbe6da"/><rect x="286.82" y="451.5" width="4.96" height="4.55" fill="#fbe6db"/><rect x="291.73" y="451.5" width="4.96" height="4.55" fill="#fae7dc"/><rect x="296.64" y="451.5" width="4.96" height="4.55" fill="#fbe6d9"/><rect x="301.55" y="451.5" width="4.96" height="4.55" fill="#fbe6d9"/><rect x="306.45" y="451.5" width="4.96" height="4.55" fill="#fbe6d9"/><rect x="311.36" y="451.5" width="4.96" height="4.55" fill="#fcd7c2"/><rect x="316.27" y="451.5" width="4.96" height="4.55" fill="#fcd6c1"/><rect x="321.18" y="451.5" width="4.96" height="4.55" fill="#f7b799"/><rect x="326.09" y="451.5" width="4.96" height="4.55" fill="#ef9979"/><rect x="281" y="456" width="5.05" height="6.05" fill="#fbe3d5"/><rect x="286" y="456" width="5.05" height="6.05" fill="#fce2d2"/><rect x="291" y="456" width="5.05" height="6.05" fill="#fbe5d7"/><rect x="296" y="456" width="5.05" height="6.05" fill="#fbe4d6"/><rect x="301" y="456" width="5.05" height="6.05" fill="#fbe3d5"/><rect x="306" y="456" width="5.05" height="6.05" fill="#fddcc9"/><rect x="311" y="456" width="5.05" height="6.05" fill="#fcd7c2"/><rect x="316" y="456" width="5.05" height="6.05" fill="#f8c0a4"/><rect x="321" y="456" width="5.05" height="6.05" fill="#f3a280"/><rect x="282" y="462" width="4.94" height="5.3" fill="#fce1d2"/><rect x="282" y="467.25" width="4.94" height="5.3" fill="#fae7db"/><rect x="286.89" y="462" width="4.94" height="5.3" fill="#fbe3d5"/><rect x="286.89" y="467.25" width="4.94" height="5.3" fill="#fae7db"/><rect x="291.78" y="462" width="4.94" height="5.3" fill="#fce1d2"/><rect x="291.78" y="467.25" width="4.94" height="5.3" fill="#fbe7db"/><rect x="296.67" y="462" width="4.94" height="5.3" fill="#fce1d1"/><rect x="296.67" y="467.25" width="4.94" height="5.3" fill="#fbe6da"/><rect x="301.56" y="462" width="4.94" height="5.3" fill="#fbe3d5"/><rect x="301.56" y="467.25" width="4.94" height="5.3" fill="#fbcdb5"/><rect x="306.44" y="462" width="4.94" height="5.3" fill="#fce2d3"/><rect x="306.44" y="467.25" width="4.94" height="5.3" fill="#fbcdb5"/><rect x="311.33" y="462" width="4.94" height="5.3" fill="#f9c1a6"/><rect x="311.33" y="467.25" width="4.94" height="5.3" fill="#fbcdb5"/><rect x="316.22" y="462" width="4.94" height="5.3" fill="#ef9979"/><rect x="316.22" y="467.25" width="4.94" height="5.3" fill="#fbd0ba"/><rect x="321.11" y="462" width="4.94" height="5.3" fill="#ee9777"/><rect x="321.11" y="467.25" width="4.94" height="5.3" fill="#e98c6f"/><rect x="287" y="472.5" width="5.05" height="5.05" fill="#fddbc7"/><rect x="287" y="477.5" width="5.05" height="5.05" fill="#facbb2"/><rect x="292" y="472.5" width="5.05" height="5.05" fill="#fdd9c5"/><rect x="292" y="477.5" width="5.05" height="5.05" fill="#f7b799"/><rect x="297" y="472.5" width="5.05" height="5.05" fill="#fdddca"/><rect x="297" y="477.5" width="5.05" height="5.05" fill="#f7b698"/><rect x="302" y="472.5" width="5.05" height="5.05" fill="#fddbc8"/><rect x="302" y="477.5" width="5.05" height="5.05" fill="#f7b698"/><rect x="307" y="472.5" width="5.05" height="5.05" fill="#f8bea2"/><rect x="307" y="477.5" width="5.05" height="5.05" fill="#f4a784"/><rect x="312" y="472.5" width="5.05" height="5.05" fill="#f9c1a6"/><rect x="312" y="477.5" width="5.05" height="5.05" fill="#f3a481"/><rect x="317" y="472.5" width="5.05" height="5.05" fill="#ee9777"/><rect x="317" y="477.5" width="5.05" height="5.05" fill="#e48066"/><rect x="282" y="482.5" width="5.05" height="5.38" fill="#fbceb6"/><rect x="282" y="487.83" width="5.05" height="5.38" fill="#f9c2a7"/><rect x="282" y="493.17" width="5.05" height="5.38" fill="#f9c1a6"/><rect x="287" y="482.5" width="5.05" height="5.38" fill="#f6b293"/><rect x="287" y="487.83" width="5.05" height="5.38" fill="#f5ad8d"/><rect x="287" y="493.17" width="5.05" height="5.38" fill="#f5aa89"/><rect x="292" y="482.5" width="5.05" height="5.38" fill="#f6b292"/><rect x="292" y="487.83" width="5.05" height="5.38" fill="#f6af8f"/><rect x="292" y="493.17" width="5.05" height="5.38" fill="#f4a886"/><rect x="297" y="482.5" width="5.05" height="5.38" fill="#f6b192"/><rect x="297" y="487.83" width="5.05" height="5.38" fill="#f5ad8c"/><rect x="297" y="493.17" width="5.05" height="5.38" fill="#f5aa89"/><rect x="302" y="482.5" width="5.05" height="5.38" fill="#f6b090"/><rect x="302" y="487.83" width="5.05" height="5.38" fill="#f6af8f"/><rect x="302" y="493.17" width="5.05" height="5.38" fill="#f5ab89"/><rect x="307" y="482.5" width="5.05" height="5.38" fill="#ed9475"/><rect x="307" y="487.83" width="5.05" height="5.38" fill="#e6856a"/><rect x="307" y="493.17" width="5.05" height="5.38" fill="#e58267"/><rect x="312" y="482.5" width="5.05" height="5.38" fill="#ed9576"/><rect x="312" y="487.83" width="5.05" height="5.38" fill="#e58368"/><rect x="312" y="493.17" width="5.05" height="5.38" fill="#e58267"/><rect x="282" y="498.5" width="5.05" height="6.55" fill="#f7b799"/><rect x="287" y="498.5" width="5.05" height="6.55" fill="#f4a683"/><rect x="292" y="498.5" width="5.05" height="6.55" fill="#f4a582"/><rect x="297" y="498.5" width="5.05" height="6.55" fill="#f3a481"/><rect x="302" y="498.5" width="5.05" height="6.55" fill="#e98d6f"/><rect x="307" y="498.5" width="5.05" height="6.55" fill="#e98b6e"/><rect x="279" y="505" width="4.76" height="5.05" fill="#fbceb6"/><rect x="283.71" y="505" width="4.76" height="5.05" fill="#f5ad8c"/><rect x="288.43" y="505" width="4.76" height="5.05" fill="#e98c6e"/><rect x="293.14" y="505" width="4.76" height="5.05" fill="#e27c63"/><rect x="297.86" y="505" width="4.76" height="5.05" fill="#e47f65"/><rect x="302.57" y="505" width="4.76" height="5.05" fill="#e27b62"/><rect x="307.29" y="505" width="4.76" height="5.05" fill="#e37d63"/><rect x="279" y="510" width="4.05" height="5.55" fill="#fdd9c5"/><rect x="288" y="510" width="4.85" height="5.55" fill="#e48066"/><rect x="292.8" y="510" width="4.85" height="5.55" fill="#da6a55"/><rect x="297.6" y="510" width="4.85" height="5.55" fill="#e17a61"/><rect x="302.4" y="510" width="4.85" height="5.55" fill="#e37e64"/><rect x="307.2" y="510" width="4.85" height="5.55" fill="#e37e64"/><rect x="293" y="515.5" width="5.05" height="4.05" fill="#e0765e"/><rect x="298" y="515.5" width="5.05" height="4.05" fill="#df745d"/><rect x="303" y="515.5" width="5.05" height="4.05" fill="#df745c"/><rect x="293" y="519.5" width="5.05" height="5.55" fill="#e48166"/><rect x="298" y="519.5" width="5.05" height="5.55" fill="#e58267"/><rect x="298" y="525" width="5.05" height="5.55" fill="#e7876b"/><rect x="361" y="460" width="5.55" height="5.55" fill="#f7b799"/><rect x="361" y="465.5" width="5.55" height="5.55" fill="#f7b495"/><rect x="361" y="471" width="5.55" height="5.55" fill="#f6b191"/><rect x="361" y="476.5" width="5.55" height="5.55" fill="#f6b191"/><rect x="366.5" y="460" width="5.55" height="5.55" fill="#f7b495"/><rect x="366.5" y="465.5" width="5.55" height="5.55" fill="#f7b597"/><rect x="366.5" y="471" width="5.55" height="5.55" fill="#f6b191"/><rect x="366.5" y="476.5" width="5.55" height="5.55" fill="#f6b293"/><rect x="357" y="482" width="5.05" height="5.05" fill="#f5ab8a"/><rect x="357" y="487" width="5.05" height="5.05" fill="#f19d7c"/><rect x="362" y="482" width="5.05" height="5.05" fill="#f5ac8a"/><rect x="362" y="487" width="5.05" height="5.05" fill="#f3a381"/><rect x="367" y="482" width="5.05" height="5.05" fill="#f5aa89"/><rect x="367" y="487" width="5.05" height="5.05" fill="#f3a481"/><rect x="362" y="492" width="5.05" height="5.55" fill="#f3a481"/><rect x="367" y="492" width="5.05" height="5.55" fill="#f29f7e"/><rect x="362" y="519" width="5.05" height="5.3" fill="#67001f"/><rect x="362" y="524.25" width="5.05" height="5.3" fill="#67001f"/><rect x="367" y="519" width="5.05" height="5.3" fill="#67001f"/><rect x="367" y="524.25" width="5.05" height="5.3" fill="#67001f"/><rect x="268" y="516" width="5.05" height="4.55" fill="#fae8de"/><rect x="273" y="516" width="5.05" height="4.55" fill="#fae9df"/><rect x="258" y="520.5" width="5.05" height="5.55" fill="#fddac5"/><rect x="263" y="520.5" width="5.05" height="5.55" fill="#fddbc8"/><rect x="268" y="520.5" width="5.05" height="5.55" fill="#fddbc6"/><rect x="273" y="520.5" width="5.05" height="5.55" fill="#fbd0b9"/><rect x="258" y="526" width="5.05" height="5.55" fill="#fddcc9"/><rect x="263" y="526" width="5.05" height="5.55" fill="#fcd7c2"/><rect x="268" y="526" width="5.05" height="5.55" fill="#fddbc7"/><rect x="273" y="526" width="5.05" height="5.55" fill="#fbceb6"/><rect x="278" y="526" width="5.05" height="5.55" fill="#fbcdb4"/><rect x="258" y="531.5" width="5.05" height="5.55" fill="#fddac6"/><rect x="263" y="531.5" width="5.05" height="5.55" fill="#fddcc9"/><rect x="268" y="531.5" width="5.05" height="5.55" fill="#fddbc7"/><rect x="273" y="531.5" width="5.05" height="5.55" fill="#faccb4"/><rect x="258" y="537" width="5.05" height="5.55" fill="#fdd9c4"/><rect x="263" y="537" width="5.05" height="5.55" fill="#fddac6"/><rect x="268" y="537" width="5.05" height="5.55" fill="#fddcc9"/><rect x="259" y="542.5" width="4.8" height="5.55" fill="#fddbc7"/><rect x="263.75" y="542.5" width="4.8" height="5.55" fill="#fddcc8"/><rect x="268.5" y="542.5" width="4.8" height="5.55" fill="#fcd7c2"/><rect x="273.25" y="542.5" width="4.8" height="5.55" fill="#fbceb7"/><rect x="259" y="548" width="5.05" height="5.55" fill="#fdddca"/><rect x="264" y="548" width="5.05" height="5.55" fill="#fddac6"/><rect x="269" y="548" width="5.05" height="5.55" fill="#fddbc8"/><rect x="274" y="548" width="5.05" height="5.55" fill="#fbcdb6"/><rect x="259" y="553.5" width="5.05" height="5.3" fill="#fddac6"/><rect x="259" y="558.75" width="5.05" height="5.3" fill="#fddbc7"/><rect x="264" y="553.5" width="5.05" height="5.3" fill="#fddbc6"/><rect x="264" y="558.75" width="5.05" height="5.3" fill="#fdd9c4"/><rect x="269" y="553.5" width="5.05" height="5.3" fill="#fddbc8"/><rect x="269" y="558.75" width="5.05" height="5.3" fill="#fddcc8"/><rect x="274" y="553.5" width="5.05" height="5.3" fill="#fbd0b8"/><rect x="274" y="558.75" width="5.05" height="5.3" fill="#facbb3"/><rect x="279" y="553.5" width="5.05" height="5.3" fill="#f6b293"/><rect x="279" y="558.75" width="5.05" height="5.3" fill="#f7b495"/><rect x="284" y="553.5" width="5.05" height="5.3" fill="#f6b293"/><rect x="284" y="558.75" width="5.05" height="5.3" fill="#f7b597"/><rect x="289" y="553.5" width="5.05" height="5.3" fill="#f6b394"/><rect x="289" y="558.75" width="5.05" height="5.3" fill="#f6b191"/><rect x="254" y="564" width="5.05" height="5.55" fill="#faebe3"/><rect x="259" y="564" width="5.05" height="5.55" fill="#f9ece4"/><rect x="264" y="564" width="5.05" height="5.55" fill="#f9ede6"/><rect x="279" y="564" width="5.05" height="5.55" fill="#f6b394"/><rect x="284" y="564" width="5.05" height="5.55" fill="#f6b394"/><rect x="289" y="564" width="5.05" height="5.55" fill="#f7b496"/><rect x="294" y="564" width="5.05" height="5.55" fill="#f6b495"/><rect x="254" y="569.5" width="5.05" height="5.05" fill="#f9ece3"/><rect x="259" y="569.5" width="5.05" height="5.05" fill="#faebe2"/><rect x="264" y="569.5" width="5.05" height="5.05" fill="#f9ece5"/><rect x="284" y="569.5" width="5.05" height="5.05" fill="#f6b192"/><rect x="289" y="569.5" width="5.05" height="5.05" fill="#f6b293"/><rect x="294" y="569.5" width="5.05" height="5.05" fill="#f7b596"/><rect x="299" y="569.5" width="5.05" height="5.05" fill="#ee9878"/><rect x="304" y="568" width="5.05" height="5.55" fill="#ef9a7a"/><rect x="304" y="573.5" width="5.05" height="5.55" fill="#ef9a79"/><rect x="254" y="574.5" width="5.05" height="5.55" fill="#f9ede5"/><rect x="259" y="574.5" width="5.05" height="5.55" fill="#f9efe9"/><rect x="264" y="574.5" width="5.05" height="5.55" fill="#f9ece5"/><rect x="284" y="574.5" width="5.05" height="5.55" fill="#fac6ac"/><rect x="289" y="574.5" width="5.05" height="5.55" fill="#fac7ad"/><rect x="259" y="580" width="5.05" height="5.55" fill="#f9eee7"/><rect x="264" y="580" width="5.05" height="5.55" fill="#f9eee7"/><rect x="269" y="580" width="5.05" height="5.55" fill="#f9eee7"/><rect x="284" y="580" width="5.05" height="5.55" fill="#fcd6c0"/><rect x="260" y="585.5" width="4.72" height="5.05" fill="#f9ede5"/><rect x="264.67" y="585.5" width="4.72" height="5.05" fill="#f9ece5"/><rect x="269.33" y="585.5" width="4.72" height="5.05" fill="#f9efe8"/><rect x="284" y="585.5" width="5.05" height="5.05" fill="#fbe3d4"/><rect x="304" y="585.5" width="5.05" height="5.05" fill="#f5a987"/><rect x="309" y="585.5" width="5.05" height="5.05" fill="#f5aa88"/><rect x="255" y="590.5" width="4.92" height="5.55" fill="#f9ede6"/><rect x="259.88" y="590.5" width="4.92" height="5.55" fill="#faeae1"/><rect x="264.75" y="590.5" width="4.92" height="5.55" fill="#f9ece4"/><rect x="269.62" y="590.5" width="4.92" height="5.55" fill="#f9ebe3"/><rect x="274.5" y="590.5" width="4.92" height="5.55" fill="#faebe2"/><rect x="279.38" y="590.5" width="4.92" height="5.55" fill="#f9eee7"/><rect x="284.25" y="590.5" width="4.92" height="5.55" fill="#f9ece3"/><rect x="289.12" y="590.5" width="4.92" height="5.55" fill="#faebe3"/><rect x="299" y="590.5" width="5.05" height="5.55" fill="#f8bfa3"/><rect x="304" y="590.5" width="5.05" height="5.55" fill="#f5ab8a"/><rect x="309" y="590.5" width="5.05" height="5.55" fill="#f5ab8a"/><rect x="255" y="596" width="4.97" height="7.05" fill="#faeae1"/><rect x="259.92" y="596" width="4.97" height="7.05" fill="#f9ede6"/><rect x="264.83" y="596" width="4.97" height="7.05" fill="#f9ede5"/><rect x="269.75" y="596" width="4.97" height="7.05" fill="#faebe3"/><rect x="274.67" y="596" width="4.97" height="7.05" fill="#f9ece4"/><rect x="279.58" y="596" width="4.97" height="7.05" fill="#faebe2"/><rect x="284.5" y="596" width="4.97" height="7.05" fill="#f9ece4"/><rect x="289.42" y="596" width="4.97" height="7.05" fill="#f9ede5"/><rect x="294.33" y="596" width="4.97" height="7.05" fill="#fddcc8"/><rect x="299.25" y="596" width="4.97" height="7.05" fill="#f5ad8d"/><rect x="304.17" y="596" width="4.97" height="7.05" fill="#f5ac8b"/><rect x="309.08" y="596" width="4.97" height="7.05" fill="#f6ae8e"/><rect x="250" y="399.1" width="4.85" height="4.75" fill="#f9c2a7"/>
</g>
<path d="M365 396H372V526H368V520H367V467H366V417H365Z" fill="#97b6e1" shape-rendering="crispEdges"/>
<g transform="translate(0.6 0)">
<use href="#grid2" stroke="#d0d0d0" stroke-width="0.9" opacity="0.4"/>
<use href="#grid" stroke="#a9a9a9" stroke-width="1.0"/>
<use href="#coast" stroke="#808080" stroke-width="1.3" stroke-linejoin="round"/>
</g></g>
<rect x="150.5" y="396.5" width="219" height="208.8" fill="none" stroke="#000" stroke-width="1.1"/>
</g>
<g transform="translate(0 0)">
<g clip-path="url(#axclip)">
<rect x="148" y="394" width="226" height="214" fill="#97b6e1"/>
<polygon points="319.6,594 374,594 374,608 319.6,608" fill="#efefdb"/>
<g clip-path="url(#dataclip)" shape-rendering="crispEdges">
<polygon points="150.2,401.3 372,395.4 372,599 155.9,604.5" fill="#e9f6ab"/>
<rect x="280" y="396" width="5.16" height="5.8" fill="#ccb15c"/><rect x="280" y="401.75" width="5.16" height="5.8" fill="#cbaf5a"/><rect x="280" y="407.5" width="5.16" height="5.8" fill="#cbaf5a"/><rect x="280" y="413.25" width="5.16" height="5.8" fill="#cbae5a"/><rect x="285.11" y="396" width="5.16" height="5.8" fill="#cbaf5a"/><rect x="285.11" y="401.75" width="5.16" height="5.8" fill="#ccb05b"/><rect x="285.11" y="407.5" width="5.16" height="5.8" fill="#caad59"/><rect x="285.11" y="413.25" width="5.16" height="5.8" fill="#ccb05b"/><rect x="290.22" y="396" width="5.16" height="5.8" fill="#cbaf5a"/><rect x="290.22" y="401.75" width="5.16" height="5.8" fill="#cbaf5a"/><rect x="290.22" y="407.5" width="5.16" height="5.8" fill="#ccb05b"/><rect x="290.22" y="413.25" width="5.16" height="5.8" fill="#ccb05b"/><rect x="295.33" y="396" width="5.16" height="5.8" fill="#cbae5a"/><rect x="295.33" y="401.75" width="5.16" height="5.8" fill="#ccb15c"/><rect x="295.33" y="407.5" width="5.16" height="5.8" fill="#ccb05b"/><rect x="295.33" y="413.25" width="5.16" height="5.8" fill="#cbae5a"/><rect x="300.44" y="396" width="5.16" height="5.8" fill="#ccb05b"/><rect x="300.44" y="401.75" width="5.16" height="5.8" fill="#ccb05b"/><rect x="300.44" y="407.5" width="5.16" height="5.8" fill="#cbaf5a"/><rect x="300.44" y="413.25" width="5.16" height="5.8" fill="#cbaf5a"/><rect x="305.56" y="396" width="5.16" height="5.8" fill="#cbaf5a"/><rect x="305.56" y="401.75" width="5.16" height="5.8" fill="#cbae5a"/><rect x="305.56" y="407.5" width="5.16" height="5.8" fill="#ccb05b"/><rect x="305.56" y="413.25" width="5.16" height="5.8" fill="#cbae5a"/><rect x="310.67" y="396" width="5.16" height="5.8" fill="#cbae5a"/><rect x="310.67" y="401.75" width="5.16" height="5.8" fill="#cbaf5a"/><rect x="310.67" y="407.5" width="5.16" height="5.8" fill="#cbaf5a"/><rect x="310.67" y="413.25" width="5.16" height="5.8" fill="#cdb15c"/><rect x="315.78" y="396" width="5.16" height="5.8" fill="#ccb15b"/><rect x="315.78" y="401.75" width="5.16" height="5.8" fill="#ccb05b"/><rect x="315.78" y="407.5" width="5.16" height="5.8" fill="#ccb15c"/><rect x="315.78" y="413.25" width="5.16" height="5.8" fill="#ccb05b"/><rect x="320.89" y="396" width="5.16" height="5.8" fill="#ceb35d"/><rect x="320.89" y="401.75" width="5.16" height="5.8" fill="#cfb65f"/><rect x="320.89" y="407.5" width="5.16" height="5.8" fill="#ccb05b"/><rect x="320.89" y="413.25" width="5.16" height="5.8" fill="#ccaf5b"/><rect x="326" y="396" width="5.16" height="5.8" fill="#cfb75f"/><rect x="326" y="401.75" width="5.16" height="5.8" fill="#d0b960"/><rect x="326" y="407.5" width="5.16" height="5.8" fill="#cdb25c"/><rect x="326" y="413.25" width="5.16" height="5.8" fill="#ccb05b"/><rect x="331.11" y="396" width="5.16" height="5.8" fill="#cdb35d"/><rect x="331.11" y="401.75" width="5.16" height="5.8" fill="#d0b860"/><rect x="331.11" y="407.5" width="5.16" height="5.8" fill="#cdb35d"/><rect x="331.11" y="413.25" width="5.16" height="5.8" fill="#cbaf5a"/><rect x="336.22" y="396" width="5.16" height="5.8" fill="#ccb05b"/><rect x="336.22" y="401.75" width="5.16" height="5.8" fill="#ceb45d"/><rect x="336.22" y="407.5" width="5.16" height="5.8" fill="#ccb15c"/><rect x="336.22" y="413.25" width="5.16" height="5.8" fill="#ccb05b"/><rect x="341.33" y="396" width="5.16" height="5.8" fill="#ccaf5b"/><rect x="341.33" y="401.75" width="5.16" height="5.8" fill="#ccb05b"/><rect x="341.33" y="407.5" width="5.16" height="5.8" fill="#ccb15c"/><rect x="341.33" y="413.25" width="5.16" height="5.8" fill="#caad59"/><rect x="346.44" y="396" width="5.16" height="5.8" fill="#cbaf5a"/><rect x="346.44" y="401.75" width="5.16" height="5.8" fill="#ccaf5a"/><rect x="346.44" y="407.5" width="5.16" height="5.8" fill="#cbae5a"/><rect x="346.44" y="413.25" width="5.16" height="5.8" fill="#cbaf5a"/><rect x="351.56" y="396" width="5.16" height="5.8" fill="#ccaf5b"/><rect x="351.56" y="401.75" width="5.16" height="5.8" fill="#caad59"/><rect x="351.56" y="407.5" width="5.16" height="5.8" fill="#ccb15b"/><rect x="351.56" y="413.25" width="5.16" height="5.8" fill="#cdb25c"/><rect x="356.67" y="396" width="5.16" height="5.8" fill="#cbae5a"/><rect x="356.67" y="401.75" width="5.16" height="5.8" fill="#ccb05b"/><rect x="356.67" y="407.5" width="5.16" height="5.8" fill="#ceb35d"/><rect x="356.67" y="413.25" width="5.16" height="5.8" fill="#d1ba61"/><rect x="361.78" y="396" width="5.16" height="5.8" fill="#cdb15c"/><rect x="361.78" y="401.75" width="5.16" height="5.8" fill="#ccb05b"/><rect x="361.78" y="407.5" width="5.16" height="5.8" fill="#cbaf5a"/><rect x="361.78" y="413.25" width="5.16" height="5.8" fill="#ccb05b"/><rect x="366.89" y="396" width="5.16" height="5.8" fill="#ccb05b"/><rect x="366.89" y="401.75" width="5.16" height="5.8" fill="#ccb05b"/><rect x="366.89" y="407.5" width="5.16" height="5.8" fill="#cbae5a"/><rect x="366.89" y="413.25" width="5.16" height="5.8" fill="#cbae59"/><rect x="277" y="419" width="5.05" height="5.05" fill="#cbae59"/><rect x="277" y="424" width="5.05" height="5.05" fill="#cbae5a"/><rect x="282" y="419" width="5.05" height="5.05" fill="#ccb15b"/><rect x="282" y="424" width="5.05" height="5.05" fill="#ccaf5b"/><rect x="287" y="419" width="5.05" height="5.05" fill="#ccb15b"/><rect x="287" y="424" width="5.05" height="5.05" fill="#cbaf5a"/><rect x="292" y="419" width="5.05" height="5.05" fill="#ccb05b"/><rect x="292" y="424" width="5.05" height="5.05" fill="#ccb05b"/><rect x="297" y="419" width="5.05" height="5.05" fill="#cbaf5a"/><rect x="297" y="424" width="5.05" height="5.05" fill="#cbaf5a"/><rect x="302" y="419" width="5.05" height="5.05" fill="#cbae59"/><rect x="302" y="424" width="5.05" height="5.05" fill="#ccb15b"/><rect x="307" y="419" width="5.05" height="5.05" fill="#ccb05b"/><rect x="307" y="424" width="5.05" height="5.05" fill="#ccb05b"/><rect x="312" y="419" width="5.05" height="5.05" fill="#cbaf5a"/><rect x="312" y="424" width="5.05" height="5.05" fill="#cbaf5a"/><rect x="317" y="419" width="5.05" height="5.05" fill="#cbaf5a"/><rect x="317" y="424" width="5.05" height="5.05" fill="#ccb05b"/><rect x="322" y="419" width="5.05" height="5.05" fill="#ccb05b"/><rect x="322" y="424" width="5.05" height="5.05" fill="#ccb15c"/><rect x="327" y="419" width="5.05" height="5.05" fill="#ccb15b"/><rect x="327" y="424" width="5.05" height="5.05" fill="#ceb45d"/><rect x="332" y="419" width="5.05" height="5.05" fill="#cdb25c"/><rect x="332" y="424" width="5.05" height="5.05" fill="#ccb15b"/><rect x="337" y="419" width="5.05" height="5.05" fill="#cbae5a"/><rect x="337" y="424" width="5.05" height="5.05" fill="#ccb05b"/><rect x="342" y="419" width="5.05" height="5.05" fill="#cbae5a"/><rect x="342" y="424" width="5.05" height="5.05" fill="#ccb05b"/><rect x="347" y="419" width="5.05" height="5.05" fill="#cbaf5a"/><rect x="347" y="424" width="5.05" height="5.05" fill="#ccb05b"/><rect x="352" y="419" width="5.05" height="5.05" fill="#cdb25c"/><rect x="352" y="424" width="5.05" height="5.05" fill="#cdb25c"/><rect x="357" y="419" width="5.05" height="5.05" fill="#d1ba61"/><rect x="357" y="424" width="5.05" height="5.05" fill="#cdb35d"/><rect x="362" y="419" width="5.05" height="5.05" fill="#cbae5a"/><rect x="362" y="424" width="5.05" height="5.05" fill="#cbaf5a"/><rect x="367" y="419" width="5.05" height="5.05" fill="#ccb15b"/><rect x="367" y="424" width="5.05" height="5.05" fill="#ccb05b"/><rect x="277" y="429" width="4.99" height="5.05" fill="#ccb05b"/><rect x="281.94" y="429" width="4.99" height="5.05" fill="#cbaf5a"/><rect x="286.88" y="429" width="4.99" height="5.05" fill="#cbaf5a"/><rect x="291.81" y="429" width="4.99" height="5.05" fill="#caad59"/><rect x="296.75" y="429" width="4.99" height="5.05" fill="#ccaf5b"/><rect x="301.69" y="429" width="4.99" height="5.05" fill="#ccb15b"/><rect x="306.62" y="429" width="4.99" height="5.05" fill="#ccb05b"/><rect x="311.56" y="429" width="4.99" height="5.05" fill="#cdb25c"/><rect x="316.5" y="429" width="4.99" height="5.05" fill="#cdb35d"/><rect x="321.44" y="429" width="4.99" height="5.05" fill="#d0b960"/><rect x="326.38" y="429" width="4.99" height="5.05" fill="#d0b75f"/><rect x="331.31" y="429" width="4.99" height="5.05" fill="#cdb25c"/><rect x="336.25" y="429" width="4.99" height="5.05" fill="#ccb05b"/><rect x="341.19" y="429" width="4.99" height="5.05" fill="#ccaf5b"/><rect x="346.12" y="429" width="4.99" height="5.05" fill="#cdb15c"/><rect x="351.06" y="429" width="4.99" height="5.05" fill="#ccb05b"/><rect x="361" y="429" width="5.55" height="5.05" fill="#ccb05b"/><rect x="366.5" y="429" width="5.55" height="5.05" fill="#cbaf5a"/><rect x="277" y="434" width="4.98" height="5.55" fill="#ccb05b"/><rect x="281.93" y="434" width="4.98" height="5.55" fill="#ccb15b"/><rect x="286.86" y="434" width="4.98" height="5.55" fill="#cbae5a"/><rect x="291.79" y="434" width="4.98" height="5.55" fill="#cbae5a"/><rect x="296.71" y="434" width="4.98" height="5.55" fill="#ccb05b"/><rect x="301.64" y="434" width="4.98" height="5.55" fill="#cbae5a"/><rect x="306.57" y="434" width="4.98" height="5.55" fill="#ccb05b"/><rect x="311.5" y="434" width="4.98" height="5.55" fill="#cdb15c"/><rect x="316.43" y="434" width="4.98" height="5.55" fill="#d1bb62"/><rect x="321.36" y="434" width="4.98" height="5.55" fill="#d4c26a"/><rect x="326.29" y="434" width="4.98" height="5.55" fill="#d3bf67"/><rect x="331.21" y="434" width="4.98" height="5.55" fill="#d0b860"/><rect x="336.14" y="434" width="4.98" height="5.55" fill="#ccb05b"/><rect x="341.07" y="434" width="4.98" height="5.55" fill="#ccb05b"/><rect x="277" y="439.5" width="4.97" height="6.05" fill="#ccb05b"/><rect x="281.92" y="439.5" width="4.97" height="6.05" fill="#cbaf5a"/><rect x="286.85" y="439.5" width="4.97" height="6.05" fill="#cbaf5a"/><rect x="291.77" y="439.5" width="4.97" height="6.05" fill="#ccb15b"/><rect x="296.69" y="439.5" width="4.97" height="6.05" fill="#ccb05b"/><rect x="301.62" y="439.5" width="4.97" height="6.05" fill="#ccb05b"/><rect x="306.54" y="439.5" width="4.97" height="6.05" fill="#cbae5a"/><rect x="311.46" y="439.5" width="4.97" height="6.05" fill="#cdb35d"/><rect x="316.38" y="439.5" width="4.97" height="6.05" fill="#d3be65"/><rect x="321.31" y="439.5" width="4.97" height="6.05" fill="#d6c76f"/><rect x="326.23" y="439.5" width="4.97" height="6.05" fill="#d6c86f"/><rect x="331.15" y="439.5" width="4.97" height="6.05" fill="#d2bc63"/><rect x="336.08" y="439.5" width="4.97" height="6.05" fill="#ceb55e"/><rect x="271" y="445.5" width="5.05" height="6.05" fill="#ccb15b"/><rect x="276" y="445.5" width="5.05" height="6.05" fill="#cbaf5a"/><rect x="281" y="445.5" width="5.05" height="6.05" fill="#caad59"/><rect x="286" y="445.5" width="5.05" height="6.05" fill="#cbaf5a"/><rect x="291" y="445.5" width="5.05" height="6.05" fill="#cbaf5a"/><rect x="296" y="445.5" width="5.05" height="6.05" fill="#ccb15b"/><rect x="301" y="445.5" width="5.05" height="6.05" fill="#cbaf5a"/><rect x="306" y="445.5" width="5.05" height="6.05" fill="#ccb05b"/><rect x="311" y="445.5" width="5.05" height="6.05" fill="#ceb45d"/><rect x="316" y="445.5" width="5.05" height="6.05" fill="#d1ba61"/><rect x="321" y="445.5" width="5.05" height="6.05" fill="#d5c46b"/><rect x="326" y="445.5" width="5.05" height="6.05" fill="#d4c36a"/><rect x="331" y="445.5" width="5.05" height="6.05" fill="#d2bb62"/><rect x="277" y="451.5" width="4.96" height="4.55" fill="#cbaf5a"/><rect x="281.91" y="451.5" width="4.96" height="4.55" fill="#ccb05b"/><rect x="286.82" y="451.5" width="4.96" height="4.55" fill="#cbaf5a"/><rect x="291.73" y="451.5" width="4.96" height="4.55" fill="#ccb05b"/><rect x="296.64" y="451.5" width="4.96" height="4.55" fill="#cbae59"/><rect x="301.55" y="451.5" width="4.96" height="4.55" fill="#cbae5a"/><rect x="306.45" y="451.5" width="4.96" height="4.55" fill="#ccb15c"/><rect x="311.36" y="451.5" width="4.96" height="4.55" fill="#cdb25c"/><rect x="316.27" y="451.5" width="4.96" height="4.55" fill="#d0b860"/><rect x="321.18" y="451.5" width="4.96" height="4.55" fill="#d1bb62"/><rect x="326.09" y="451.5" width="4.96" height="4.55" fill="#d2bc63"/><rect x="281" y="456" width="5.05" height="6.05" fill="#ccb05b"/><rect x="286" y="456" width="5.05" height="6.05" fill="#ccb15c"/><rect x="291" y="456" width="5.05" height="6.05" fill="#ccb05b"/><rect x="296" y="456" width="5.05" height="6.05" fill="#cbae59"/><rect x="301" y="456" width="5.05" height="6.05" fill="#ccaf5a"/><rect x="306" y="456" width="5.05" height="6.05" fill="#cbaf5a"/><rect x="311" y="456" width="5.05" height="6.05" fill="#ccb15b"/><rect x="316" y="456" width="5.05" height="6.05" fill="#cdb15c"/><rect x="321" y="456" width="5.05" height="6.05" fill="#ceb55e"/><rect x="282" y="462" width="4.94" height="5.3" fill="#ccb05b"/><rect x="282" y="467.25" width="4.94" height="5.3" fill="#cbaf5a"/><rect x="286.89" y="462" width="4.94" height="5.3" fill="#ccaf5b"/><rect x="286.89" y="467.25" width="4.94" height="5.3" fill="#caad59"/><rect x="291.78" y="462" width="4.94" height="5.3" fill="#cbaf5a"/><rect x="291.78" y="467.25" width="4.94" height="5.3" fill="#ccaf5b"/><rect x="296.67" y="462" width="4.94" height="5.3" fill="#ccb15c"/><rect x="296.67" y="467.25" width="4.94" height="5.3" fill="#cdb25c"/><rect x="301.56" y="462" width="4.94" height="5.3" fill="#ccb15b"/><rect x="301.56" y="467.25" width="4.94" height="5.3" fill="#ceb55e"/><rect x="306.44" y="462" width="4.94" height="5.3" fill="#ccb15b"/><rect x="306.44" y="467.25" width="4.94" height="5.3" fill="#ccb15c"/><rect x="311.33" y="462" width="4.94" height="5.3" fill="#cbae5a"/><rect x="311.33" y="467.25" width="4.94" height="5.3" fill="#cbaf5a"/><rect x="316.22" y="462" width="4.94" height="5.3" fill="#cbae5a"/><rect x="316.22" y="467.25" width="4.94" height="5.3" fill="#ccb05b"/><rect x="321.11" y="462" width="4.94" height="5.3" fill="#ccb15c"/><rect x="321.11" y="467.25" width="4.94" height="5.3" fill="#cbaf5a"/><rect x="287" y="472.5" width="5.05" height="5.05" fill="#cbaf5a"/><rect x="287" y="477.5" width="5.05" height="5.05" fill="#ccaf5b"/><rect x="292" y="472.5" width="5.05" height="5.05" fill="#cbaf5a"/><rect x="292" y="477.5" width="5.05" height="5.05" fill="#cdb25c"/><rect x="297" y="472.5" width="5.05" height="5.05" fill="#cfb65e"/><rect x="297" y="477.5" width="5.05" height="5.05" fill="#d0b860"/><rect x="302" y="472.5" width="5.05" height="5.05" fill="#cfb75f"/><rect x="302" y="477.5" width="5.05" height="5.05" fill="#d0b860"/><rect x="307" y="472.5" width="5.05" height="5.05" fill="#ccb15b"/><rect x="307" y="477.5" width="5.05" height="5.05" fill="#cdb25c"/><rect x="312" y="472.5" width="5.05" height="5.05" fill="#ccb15b"/><rect x="312" y="477.5" width="5.05" height="5.05" fill="#cbaf5a"/><rect x="317" y="472.5" width="5.05" height="5.05" fill="#ccb05b"/><rect x="317" y="477.5" width="5.05" height="5.05" fill="#ccb05b"/><rect x="282" y="482.5" width="5.05" height="5.38" fill="#cbae5a"/><rect x="282" y="487.83" width="5.05" height="5.38" fill="#cbae5a"/><rect x="282" y="493.17" width="5.05" height="5.38" fill="#cdb25c"/><rect x="287" y="482.5" width="5.05" height="5.38" fill="#ccb05b"/><rect x="287" y="487.83" width="5.05" height="5.38" fill="#ccb15b"/><rect x="287" y="493.17" width="5.05" height="5.38" fill="#ccb05b"/><rect x="292" y="482.5" width="5.05" height="5.38" fill="#cdb35d"/><rect x="292" y="487.83" width="5.05" height="5.38" fill="#ccb15c"/><rect x="292" y="493.17" width="5.05" height="5.38" fill="#cfb55e"/><rect x="297" y="482.5" width="5.05" height="5.38" fill="#cfb65f"/><rect x="297" y="487.83" width="5.05" height="5.38" fill="#cfb75f"/><rect x="297" y="493.17" width="5.05" height="5.38" fill="#d1ba61"/><rect x="302" y="482.5" width="5.05" height="5.38" fill="#d0b960"/><rect x="302" y="487.83" width="5.05" height="5.38" fill="#cfb65f"/><rect x="302" y="493.17" width="5.05" height="5.38" fill="#d0b75f"/><rect x="307" y="482.5" width="5.05" height="5.38" fill="#cdb25c"/><rect x="307" y="487.83" width="5.05" height="5.38" fill="#cdb35c"/><rect x="307" y="493.17" width="5.05" height="5.38" fill="#cdb25c"/><rect x="312" y="482.5" width="5.05" height="5.38" fill="#ccb05b"/><rect x="312" y="487.83" width="5.05" height="5.38" fill="#ccb15b"/><rect x="312" y="493.17" width="5.05" height="5.38" fill="#cbaf5a"/><rect x="282" y="498.5" width="5.05" height="6.55" fill="#ccaf5b"/><rect x="287" y="498.5" width="5.05" height="6.55" fill="#cdb25c"/><rect x="292" y="498.5" width="5.05" height="6.55" fill="#d0b960"/><rect x="297" y="498.5" width="5.05" height="6.55" fill="#d4c269"/><rect x="302" y="498.5" width="5.05" height="6.55" fill="#d2bd64"/><rect x="307" y="498.5" width="5.05" height="6.55" fill="#ccb15b"/><rect x="279" y="505" width="4.76" height="5.05" fill="#cbae5a"/><rect x="283.71" y="505" width="4.76" height="5.05" fill="#cbaf5a"/><rect x="288.43" y="505" width="4.76" height="5.05" fill="#ccb05b"/><rect x="293.14" y="505" width="4.76" height="5.05" fill="#d1bb62"/><rect x="297.86" y="505" width="4.76" height="5.05" fill="#d4c269"/><rect x="302.57" y="505" width="4.76" height="5.05" fill="#d1ba61"/><rect x="307.29" y="505" width="4.76" height="5.05" fill="#cdb25c"/><rect x="279" y="510" width="4.05" height="5.55" fill="#ccb15b"/><rect x="288" y="510" width="4.85" height="5.55" fill="#ccb05b"/><rect x="292.8" y="510" width="4.85" height="5.55" fill="#cfb75f"/><rect x="297.6" y="510" width="4.85" height="5.55" fill="#d1b961"/><rect x="302.4" y="510" width="4.85" height="5.55" fill="#cfb65f"/><rect x="307.2" y="510" width="4.85" height="5.55" fill="#ccb15b"/><rect x="293" y="515.5" width="5.05" height="4.05" fill="#cdb35d"/><rect x="298" y="515.5" width="5.05" height="4.05" fill="#ceb45d"/><rect x="303" y="515.5" width="5.05" height="4.05" fill="#ccb05b"/><rect x="293" y="519.5" width="5.05" height="5.55" fill="#cdb25c"/><rect x="298" y="519.5" width="5.05" height="5.55" fill="#cdb15c"/><rect x="298" y="525" width="5.05" height="5.55" fill="#cbaf5a"/><rect x="361" y="460" width="5.55" height="5.55" fill="#cbaf5a"/><rect x="361" y="465.5" width="5.55" height="5.55" fill="#cbae5a"/><rect x="361" y="471" width="5.55" height="5.55" fill="#cdb15c"/><rect x="361" y="476.5" width="5.55" height="5.55" fill="#ccb05b"/><rect x="366.5" y="460" width="5.55" height="5.55" fill="#ccb05b"/><rect x="366.5" y="465.5" width="5.55" height="5.55" fill="#ccb05b"/><rect x="366.5" y="471" width="5.55" height="5.55" fill="#cbae5a"/><rect x="366.5" y="476.5" width="5.55" height="5.55" fill="#ccb05b"/><rect x="357" y="482" width="5.05" height="5.05" fill="#cbae5a"/><rect x="357" y="487" width="5.05" height="5.05" fill="#ccaf5b"/><rect x="362" y="482" width="5.05" height="5.05" fill="#cbaf5a"/><rect x="362" y="487" width="5.05" height="5.05" fill="#cbae5a"/><rect x="367" y="482" width="5.05" height="5.05" fill="#cbae5a"/><rect x="367" y="487" width="5.05" height="5.05" fill="#cbae59"/><rect x="362" y="492" width="5.05" height="5.55" fill="#cbaf5a"/><rect x="367" y="492" width="5.05" height="5.55" fill="#ccb15b"/><rect x="362" y="519" width="5.05" height="5.3" fill="#cbae59"/><rect x="362" y="524.25" width="5.05" height="5.3" fill="#cbae5a"/><rect x="367" y="519" width="5.05" height="5.3" fill="#ccb05b"/><rect x="367" y="524.25" width="5.05" height="5.3" fill="#cbaf5a"/><rect x="268" y="516" width="5.05" height="4.55" fill="#cbaf5a"/><rect x="273" y="516" width="5.05" height="4.55" fill="#ccb05b"/><rect x="258" y="520.5" width="5.05" height="5.55" fill="#ccb05b"/><rect x="263" y="520.5" width="5.05" height="5.55" fill="#ccb15b"/><rect x="268" y="520.5" width="5.05" height="5.55" fill="#ccb15b"/><rect x="273" y="520.5" width="5.05" height="5.55" fill="#cbaf5a"/><rect x="258" y="526" width="5.05" height="5.55" fill="#ccb05b"/><rect x="263" y="526" width="5.05" height="5.55" fill="#d0b75f"/><rect x="268" y="526" width="5.05" height="5.55" fill="#ceb55e"/><rect x="273" y="526" width="5.05" height="5.55" fill="#cbae5a"/><rect x="278" y="526" width="5.05" height="5.55" fill="#ccb05b"/><rect x="258" y="531.5" width="5.05" height="5.55" fill="#ccb15b"/><rect x="263" y="531.5" width="5.05" height="5.55" fill="#d1ba61"/><rect x="268" y="531.5" width="5.05" height="5.55" fill="#ceb55e"/><rect x="273" y="531.5" width="5.05" height="5.55" fill="#ccb15b"/><rect x="258" y="537" width="5.05" height="5.55" fill="#cdb25c"/><rect x="263" y="537" width="5.05" height="5.55" fill="#ceb35d"/><rect x="268" y="537" width="5.05" height="5.55" fill="#cdb25c"/><rect x="259" y="542.5" width="4.8" height="5.55" fill="#ccb05b"/><rect x="263.75" y="542.5" width="4.8" height="5.55" fill="#cdb15c"/><rect x="268.5" y="542.5" width="4.8" height="5.55" fill="#ccb05b"/><rect x="273.25" y="542.5" width="4.8" height="5.55" fill="#ccb05b"/><rect x="259" y="548" width="5.05" height="5.55" fill="#ccaf5b"/><rect x="264" y="548" width="5.05" height="5.55" fill="#ccb15b"/><rect x="269" y="548" width="5.05" height="5.55" fill="#ceb35d"/><rect x="274" y="548" width="5.05" height="5.55" fill="#cdb25c"/><rect x="259" y="553.5" width="5.05" height="5.3" fill="#cbaf5a"/><rect x="259" y="558.75" width="5.05" height="5.3" fill="#ccb05b"/><rect x="264" y="553.5" width="5.05" height="5.3" fill="#ceb45e"/><rect x="264" y="558.75" width="5.05" height="5.3" fill="#cdb25c"/><rect x="269" y="553.5" width="5.05" height="5.3" fill="#d0b860"/><rect x="269" y="558.75" width="5.05" height="5.3" fill="#ccb05b"/><rect x="274" y="553.5" width="5.05" height="5.3" fill="#ccb15b"/><rect x="274" y="558.75" width="5.05" height="5.3" fill="#cbaf5a"/><rect x="279" y="553.5" width="5.05" height="5.3" fill="#cdb15c"/><rect x="279" y="558.75" width="5.05" height="5.3" fill="#ccb05b"/><rect x="284" y="553.5" width="5.05" height="5.3" fill="#ceb45d"/><rect x="284" y="558.75" width="5.05" height="5.3" fill="#d0b75f"/><rect x="289" y="553.5" width="5.05" height="5.3" fill="#cdb35c"/><rect x="289" y="558.75" width="5.05" height="5.3" fill="#ceb45d"/><rect x="254" y="564" width="5.05" height="5.55" fill="#cbae5a"/><rect x="259" y="564" width="5.05" height="5.55" fill="#cdb15c"/><rect x="264" y="564" width="5.05" height="5.55" fill="#ccb05b"/><rect x="279" y="564" width="5.05" height="5.55" fill="#cbaf5a"/><rect x="284" y="564" width="5.05" height="5.55" fill="#ccb15c"/><rect x="289" y="564" width="5.05" height="5.55" fill="#cbae5a"/><rect x="294" y="564" width="5.05" height="5.55" fill="#cbaf5a"/><rect x="254" y="569.5" width="5.05" height="5.05" fill="#ccb05b"/><rect x="259" y="569.5" width="5.05" height="5.05" fill="#cbaf5a"/><rect x="264" y="569.5" width="5.05" height="5.05" fill="#cbaf5a"/><rect x="284" y="569.5" width="5.05" height="5.05" fill="#cbaf5a"/><rect x="289" y="569.5" width="5.05" height="5.05" fill="#cbaf5a"/><rect x="294" y="569.5" width="5.05" height="5.05" fill="#cbae5a"/><rect x="299" y="569.5" width="5.05" height="5.05" fill="#cbaf5a"/><rect x="304" y="568" width="5.05" height="5.55" fill="#ccb15b"/><rect x="304" y="573.5" width="5.05" height="5.55" fill="#cbae59"/><rect x="254" y="574.5" width="5.05" height="5.55" fill="#ccb05b"/><rect x="259" y="574.5" width="5.05" height="5.55" fill="#cbaf5a"/><rect x="264" y="574.5" width="5.05" height="5.55" fill="#cbae5a"/><rect x="284" y="574.5" width="5.05" height="5.55" fill="#ccb05b"/><rect x="289" y="574.5" width="5.05" height="5.55" fill="#ccaf5b"/><rect x="259" y="580" width="5.05" height="5.55" fill="#ccb05b"/><rect x="264" y="580" width="5.05" height="5.55" fill="#cbae5a"/><rect x="269" y="580" width="5.05" height="5.55" fill="#ccb05b"/><rect x="284" y="580" width="5.05" height="5.55" fill="#cbae5a"/><rect x="260" y="585.5" width="4.72" height="5.05" fill="#cbae5a"/><rect x="264.67" y="585.5" width="4.72" height="5.05" fill="#ccb15b"/><rect x="269.33" y="585.5" width="4.72" height="5.05" fill="#ccb05b"/><rect x="284" y="585.5" width="5.05" height="5.05" fill="#cbad59"/><rect x="304" y="585.5" width="5.05" height="5.05" fill="#ccb05b"/><rect x="309" y="585.5" width="5.05" height="5.05" fill="#ccb05b"/><rect x="255" y="590.5" width="4.92" height="5.55" fill="#caad59"/><rect x="259.88" y="590.5" width="4.92" height="5.55" fill="#cbaf5a"/><rect x="264.75" y="590.5" width="4.92" height="5.55" fill="#cbaf5a"/><rect x="269.62" y="590.5" width="4.92" height="5.55" fill="#ccb05b"/><rect x="274.5" y="590.5" width="4.92" height="5.55" fill="#ccb05b"/><rect x="279.38" y="590.5" width="4.92" height="5.55" fill="#cbaf5a"/><rect x="284.25" y="590.5" width="4.92" height="5.55" fill="#ccb15b"/><rect x="289.12" y="590.5" width="4.92" height="5.55" fill="#ccaf5b"/><rect x="299" y="590.5" width="5.05" height="5.55" fill="#cbae5a"/><rect x="304" y="590.5" width="5.05" height="5.55" fill="#cbae5a"/><rect x="309" y="590.5" width="5.05" height="5.55" fill="#ccb15b"/><rect x="255" y="596" width="4.97" height="7.05" fill="#ccb05b"/><rect x="259.92" y="596" width="4.97" height="7.05" fill="#ccaf5b"/><rect x="264.83" y="596" width="4.97" height="7.05" fill="#ccaf5b"/><rect x="269.75" y="596" width="4.97" height="7.05" fill="#cbae5a"/><rect x="274.67" y="596" width="4.97" height="7.05" fill="#caad59"/><rect x="279.58" y="596" width="4.97" height="7.05" fill="#ccb05b"/><rect x="284.5" y="596" width="4.97" height="7.05" fill="#ccb05b"/><rect x="289.42" y="596" width="4.97" height="7.05" fill="#ccb05b"/><rect x="294.33" y="596" width="4.97" height="7.05" fill="#ccaf5a"/><rect x="299.25" y="596" width="4.97" height="7.05" fill="#cbaf5a"/><rect x="304.17" y="596" width="4.97" height="7.05" fill="#ccb15b"/><rect x="309.08" y="596" width="4.97" height="7.05" fill="#cbae5a"/><rect x="250" y="399.1" width="4.85" height="4.75" fill="#ccb05b"/>
</g>
<path d="M365 396H372V526H368V520H367V467H366V417H365Z" fill="#97b6e1" shape-rendering="crispEdges"/>
<g transform="translate(0 0)">
<use href="#grid2" stroke="#d0d0d0" stroke-width="0.9" opacity="0.4"/>
<use href="#grid" stroke="#a9a9a9" stroke-width="1.0"/>
<use href="#coast" stroke="#808080" stroke-width="1.3" stroke-linejoin="round"/>
</g></g>
<rect x="150.5" y="396.5" width="219" height="208.8" fill="none" stroke="#000" stroke-width="1.1"/>
</g>
<g transform="translate(328 0)">
<g clip-path="url(#axclip)">
<rect x="148" y="394" width="226" height="214" fill="#97b6e1"/>
<polygon points="319.6,594 374,594 374,608 319.6,608" fill="#efefdb"/>
<g clip-path="url(#dataclip)" shape-rendering="crispEdges">
<polygon points="150.2,401.3 372,395.4 372,599 155.9,604.5" fill="#e9f6ab"/>
<rect x="280" y="396" width="5.16" height="5.8" fill="#cbae59"/><rect x="280" y="401.75" width="5.16" height="5.8" fill="#cbae5a"/><rect x="280" y="407.5" width="5.16" height="5.8" fill="#cbaf5a"/><rect x="280" y="413.25" width="5.16" height="5.8" fill="#ccb05b"/><rect x="285.11" y="396" width="5.16" height="5.8" fill="#ccb05b"/><rect x="285.11" y="401.75" width="5.16" height="5.8" fill="#cbae5a"/><rect x="285.11" y="407.5" width="5.16" height="5.8" fill="#ccb05b"/><rect x="285.11" y="413.25" width="5.16" height="5.8" fill="#cdb25c"/><rect x="290.22" y="396" width="5.16" height="5.8" fill="#ccb05b"/><rect x="290.22" y="401.75" width="5.16" height="5.8" fill="#ccb05b"/><rect x="290.22" y="407.5" width="5.16" height="5.8" fill="#ccb05b"/><rect x="290.22" y="413.25" width="5.16" height="5.8" fill="#ccb15b"/><rect x="295.33" y="396" width="5.16" height="5.8" fill="#ccb15b"/><rect x="295.33" y="401.75" width="5.16" height="5.8" fill="#ccb05b"/><rect x="295.33" y="407.5" width="5.16" height="5.8" fill="#cbae5a"/><rect x="295.33" y="413.25" width="5.16" height="5.8" fill="#cdb35d"/><rect x="300.44" y="396" width="5.16" height="5.8" fill="#cbaf5a"/><rect x="300.44" y="401.75" width="5.16" height="5.8" fill="#cbaf5a"/><rect x="300.44" y="407.5" width="5.16" height="5.8" fill="#ccb05b"/><rect x="300.44" y="413.25" width="5.16" height="5.8" fill="#cdb25c"/><rect x="305.56" y="396" width="5.16" height="5.8" fill="#cbae59"/><rect x="305.56" y="401.75" width="5.16" height="5.8" fill="#ccb15b"/><rect x="305.56" y="407.5" width="5.16" height="5.8" fill="#ccb05b"/><rect x="305.56" y="413.25" width="5.16" height="5.8" fill="#cdb25c"/><rect x="310.67" y="396" width="5.16" height="5.8" fill="#ccaf5b"/><rect x="310.67" y="401.75" width="5.16" height="5.8" fill="#ccb05b"/><rect x="310.67" y="407.5" width="5.16" height="5.8" fill="#ccb15c"/><rect x="310.67" y="413.25" width="5.16" height="5.8" fill="#cbaf5a"/><rect x="315.78" y="396" width="5.16" height="5.8" fill="#cbaf5a"/><rect x="315.78" y="401.75" width="5.16" height="5.8" fill="#ccb05b"/><rect x="315.78" y="407.5" width="5.16" height="5.8" fill="#ccaf5b"/><rect x="315.78" y="413.25" width="5.16" height="5.8" fill="#cbae5a"/><rect x="320.89" y="396" width="5.16" height="5.8" fill="#ccb05b"/><rect x="320.89" y="401.75" width="5.16" height="5.8" fill="#cbae59"/><rect x="320.89" y="407.5" width="5.16" height="5.8" fill="#cbaf5a"/><rect x="320.89" y="413.25" width="5.16" height="5.8" fill="#ccb15b"/><rect x="326" y="396" width="5.16" height="5.8" fill="#cbae5a"/><rect x="326" y="401.75" width="5.16" height="5.8" fill="#cbae5a"/><rect x="326" y="407.5" width="5.16" height="5.8" fill="#ccb05b"/><rect x="326" y="413.25" width="5.16" height="5.8" fill="#ccb05b"/><rect x="331.11" y="396" width="5.16" height="5.8" fill="#ccb05b"/><rect x="331.11" y="401.75" width="5.16" height="5.8" fill="#ccb05b"/><rect x="331.11" y="407.5" width="5.16" height="5.8" fill="#cbaf5a"/><rect x="331.11" y="413.25" width="5.16" height="5.8" fill="#ccb15c"/><rect x="336.22" y="396" width="5.16" height="5.8" fill="#ccb15c"/><rect x="336.22" y="401.75" width="5.16" height="5.8" fill="#cbaf5a"/><rect x="336.22" y="407.5" width="5.16" height="5.8" fill="#cbaf5a"/><rect x="336.22" y="413.25" width="5.16" height="5.8" fill="#cbaf5a"/><rect x="341.33" y="396" width="5.16" height="5.8" fill="#cbaf5a"/><rect x="341.33" y="401.75" width="5.16" height="5.8" fill="#ccb05b"/><rect x="341.33" y="407.5" width="5.16" height="5.8" fill="#caad59"/><rect x="341.33" y="413.25" width="5.16" height="5.8" fill="#cbaf5a"/><rect x="346.44" y="396" width="5.16" height="5.8" fill="#cbaf5a"/><rect x="346.44" y="401.75" width="5.16" height="5.8" fill="#cbaf5a"/><rect x="346.44" y="407.5" width="5.16" height="5.8" fill="#ccb05b"/><rect x="346.44" y="413.25" width="5.16" height="5.8" fill="#ccb05b"/><rect x="351.56" y="396" width="5.16" height="5.8" fill="#cbae59"/><rect x="351.56" y="401.75" width="5.16" height="5.8" fill="#ccb15b"/><rect x="351.56" y="407.5" width="5.16" height="5.8" fill="#ccb15b"/><rect x="351.56" y="413.25" width="5.16" height="5.8" fill="#cbae5a"/><rect x="356.67" y="396" width="5.16" height="5.8" fill="#ccb05b"/><rect x="356.67" y="401.75" width="5.16" height="5.8" fill="#ccb05b"/><rect x="356.67" y="407.5" width="5.16" height="5.8" fill="#ccaf5b"/><rect x="356.67" y="413.25" width="5.16" height="5.8" fill="#cbaf5a"/><rect x="361.78" y="396" width="5.16" height="5.8" fill="#cbaf5a"/><rect x="361.78" y="401.75" width="5.16" height="5.8" fill="#cbae59"/><rect x="361.78" y="407.5" width="5.16" height="5.8" fill="#ccb05b"/><rect x="361.78" y="413.25" width="5.16" height="5.8" fill="#cbaf5a"/><rect x="366.89" y="396" width="5.16" height="5.8" fill="#cbaf5a"/><rect x="366.89" y="401.75" width="5.16" height="5.8" fill="#cbae5a"/><rect x="366.89" y="407.5" width="5.16" height="5.8" fill="#cbaf5a"/><rect x="366.89" y="413.25" width="5.16" height="5.8" fill="#cdb15c"/><rect x="277" y="419" width="5.05" height="5.05" fill="#ccb05b"/><rect x="277" y="424" width="5.05" height="5.05" fill="#ccb15b"/><rect x="282" y="419" width="5.05" height="5.05" fill="#ccb05b"/><rect x="282" y="424" width="5.05" height="5.05" fill="#cbaf5a"/><rect x="287" y="419" width="5.05" height="5.05" fill="#ccb15b"/><rect x="287" y="424" width="5.05" height="5.05" fill="#ccb15c"/><rect x="292" y="419" width="5.05" height="5.05" fill="#ceb55e"/><rect x="292" y="424" width="5.05" height="5.05" fill="#ceb35d"/><rect x="297" y="419" width="5.05" height="5.05" fill="#cfb75f"/><rect x="297" y="424" width="5.05" height="5.05" fill="#d0b860"/><rect x="302" y="419" width="5.05" height="5.05" fill="#d0b75f"/><rect x="302" y="424" width="5.05" height="5.05" fill="#cfb65f"/><rect x="307" y="419" width="5.05" height="5.05" fill="#cdb25c"/><rect x="307" y="424" width="5.05" height="5.05" fill="#cdb25c"/><rect x="312" y="419" width="5.05" height="5.05" fill="#cbaf5a"/><rect x="312" y="424" width="5.05" height="5.05" fill="#cdb25c"/><rect x="317" y="419" width="5.05" height="5.05" fill="#ccb05b"/><rect x="317" y="424" width="5.05" height="5.05" fill="#cdb25c"/><rect x="322" y="419" width="5.05" height="5.05" fill="#ccb15c"/><rect x="322" y="424" width="5.05" height="5.05" fill="#d0b960"/><rect x="327" y="419" width="5.05" height="5.05" fill="#ceb55e"/><rect x="327" y="424" width="5.05" height="5.05" fill="#d3bf66"/><rect x="332" y="419" width="5.05" height="5.05" fill="#ceb45e"/><rect x="332" y="424" width="5.05" height="5.05" fill="#d4c26a"/><rect x="337" y="419" width="5.05" height="5.05" fill="#ceb45e"/><rect x="337" y="424" width="5.05" height="5.05" fill="#d3bf66"/><rect x="342" y="419" width="5.05" height="5.05" fill="#cdb35d"/><rect x="342" y="424" width="5.05" height="5.05" fill="#cfb65f"/><rect x="347" y="419" width="5.05" height="5.05" fill="#ccb05b"/><rect x="347" y="424" width="5.05" height="5.05" fill="#cdb25c"/><rect x="352" y="419" width="5.05" height="5.05" fill="#cbaf5a"/><rect x="352" y="424" width="5.05" height="5.05" fill="#cbaf5a"/><rect x="357" y="419" width="5.05" height="5.05" fill="#caad59"/><rect x="357" y="424" width="5.05" height="5.05" fill="#ccb05b"/><rect x="362" y="419" width="5.05" height="5.05" fill="#ccaf5b"/><rect x="362" y="424" width="5.05" height="5.05" fill="#ccb05b"/><rect x="367" y="419" width="5.05" height="5.05" fill="#ccb05b"/><rect x="367" y="424" width="5.05" height="5.05" fill="#cbae5a"/><rect x="277" y="429" width="4.99" height="5.05" fill="#ccb05b"/><rect x="281.94" y="429" width="4.99" height="5.05" fill="#ccb15b"/><rect x="286.88" y="429" width="4.99" height="5.05" fill="#ccb05b"/><rect x="291.81" y="429" width="4.99" height="5.05" fill="#ceb45d"/><rect x="296.75" y="429" width="4.99" height="5.05" fill="#cfb55e"/><rect x="301.69" y="429" width="4.99" height="5.05" fill="#cdb25c"/><rect x="306.62" y="429" width="4.99" height="5.05" fill="#cdb15c"/><rect x="311.56" y="429" width="4.99" height="5.05" fill="#ccb05b"/><rect x="316.5" y="429" width="4.99" height="5.05" fill="#ceb45d"/><rect x="321.44" y="429" width="4.99" height="5.05" fill="#d1ba61"/><rect x="326.38" y="429" width="4.99" height="5.05" fill="#d4c269"/><rect x="331.31" y="429" width="4.99" height="5.05" fill="#d7c970"/><rect x="336.25" y="429" width="4.99" height="5.05" fill="#d5c36a"/><rect x="341.19" y="429" width="4.99" height="5.05" fill="#d1b961"/><rect x="346.12" y="429" width="4.99" height="5.05" fill="#ccb15c"/><rect x="351.06" y="429" width="4.99" height="5.05" fill="#cbaf5a"/><rect x="361" y="429" width="5.55" height="5.05" fill="#ccb05b"/><rect x="366.5" y="429" width="5.55" height="5.05" fill="#ccb05b"/><rect x="277" y="434" width="4.98" height="5.55" fill="#ccb05b"/><rect x="281.93" y="434" width="4.98" height="5.55" fill="#ccb05b"/><rect x="286.86" y="434" width="4.98" height="5.55" fill="#cdb35d"/><rect x="291.79" y="434" width="4.98" height="5.55" fill="#cfb65f"/><rect x="296.71" y="434" width="4.98" height="5.55" fill="#ceb45e"/><rect x="301.64" y="434" width="4.98" height="5.55" fill="#ceb35d"/><rect x="306.57" y="434" width="4.98" height="5.55" fill="#ccb05b"/><rect x="311.5" y="434" width="4.98" height="5.55" fill="#ccb05b"/><rect x="316.43" y="434" width="4.98" height="5.55" fill="#ccb15b"/><rect x="321.36" y="434" width="4.98" height="5.55" fill="#cdb25c"/><rect x="326.29" y="434" width="4.98" height="5.55" fill="#d0b860"/><rect x="331.21" y="434" width="4.98" height="5.55" fill="#d1bb62"/><rect x="336.14" y="434" width="4.98" height="5.55" fill="#d1b960"/><rect x="341.07" y="434" width="4.98" height="5.55" fill="#ceb45d"/><rect x="277" y="439.5" width="4.97" height="6.05" fill="#cbaf5a"/><rect x="281.92" y="439.5" width="4.97" height="6.05" fill="#cdb35c"/><rect x="286.85" y="439.5" width="4.97" height="6.05" fill="#d1b961"/><rect x="291.77" y="439.5" width="4.97" height="6.05" fill="#d2bc63"/><rect x="296.69" y="439.5" width="4.97" height="6.05" fill="#d2bd65"/><rect x="301.62" y="439.5" width="4.97" height="6.05" fill="#d1b960"/><rect x="306.54" y="439.5" width="4.97" height="6.05" fill="#cfb55e"/><rect x="311.46" y="439.5" width="4.97" height="6.05" fill="#cdb35c"/><rect x="316.38" y="439.5" width="4.97" height="6.05" fill="#cbae5a"/><rect x="321.31" y="439.5" width="4.97" height="6.05" fill="#cbaf5a"/><rect x="326.23" y="439.5" width="4.97" height="6.05" fill="#cbaf5a"/><rect x="331.15" y="439.5" width="4.97" height="6.05" fill="#ccb15c"/><rect x="336.08" y="439.5" width="4.97" height="6.05" fill="#ccb15c"/><rect x="271" y="445.5" width="5.05" height="6.05" fill="#ccb05b"/><rect x="276" y="445.5" width="5.05" height="6.05" fill="#ccb05b"/><rect x="281" y="445.5" width="5.05" height="6.05" fill="#cfb65f"/><rect x="286" y="445.5" width="5.05" height="6.05" fill="#d1ba61"/><rect x="291" y="445.5" width="5.05" height="6.05" fill="#d3bf66"/><rect x="296" y="445.5" width="5.05" height="6.05" fill="#d3bf66"/><rect x="301" y="445.5" width="5.05" height="6.05" fill="#d2bc63"/><rect x="306" y="445.5" width="5.05" height="6.05" fill="#d0b860"/><rect x="311" y="445.5" width="5.05" height="6.05" fill="#cdb25c"/><rect x="316" y="445.5" width="5.05" height="6.05" fill="#ccb15b"/><rect x="321" y="445.5" width="5.05" height="6.05" fill="#cbaf5a"/><rect x="326" y="445.5" width="5.05" height="6.05" fill="#ccb05b"/><rect x="331" y="445.5" width="5.05" height="6.05" fill="#ccaf5a"/><rect x="277" y="451.5" width="4.96" height="4.55" fill="#cdb25c"/><rect x="281.91" y="451.5" width="4.96" height="4.55" fill="#cdb35d"/><rect x="286.82" y="451.5" width="4.96" height="4.55" fill="#cfb75f"/><rect x="291.73" y="451.5" width="4.96" height="4.55" fill="#d0b75f"/><rect x="296.64" y="451.5" width="4.96" height="4.55" fill="#d0b85f"/><rect x="301.55" y="451.5" width="4.96" height="4.55" fill="#cfb75f"/><rect x="306.45" y="451.5" width="4.96" height="4.55" fill="#cdb25c"/><rect x="311.36" y="451.5" width="4.96" height="4.55" fill="#ccb05b"/><rect x="316.27" y="451.5" width="4.96" height="4.55" fill="#cbaf5a"/><rect x="321.18" y="451.5" width="4.96" height="4.55" fill="#ccb15b"/><rect x="326.09" y="451.5" width="4.96" height="4.55" fill="#cdb25c"/><rect x="281" y="456" width="5.05" height="6.05" fill="#ccb05b"/><rect x="286" y="456" width="5.05" height="6.05" fill="#ccb05b"/><rect x="291" y="456" width="5.05" height="6.05" fill="#ccb05b"/><rect x="296" y="456" width="5.05" height="6.05" fill="#ceb35d"/><rect x="301" y="456" width="5.05" height="6.05" fill="#cdb25c"/><rect x="306" y="456" width="5.05" height="6.05" fill="#ccb15b"/><rect x="311" y="456" width="5.05" height="6.05" fill="#ccb05b"/><rect x="316" y="456" width="5.05" height="6.05" fill="#ccb15b"/><rect x="321" y="456" width="5.05" height="6.05" fill="#cdb35c"/><rect x="282" y="462" width="4.94" height="5.3" fill="#cbae5a"/><rect x="282" y="467.25" width="4.94" height="5.3" fill="#cbae5a"/><rect x="286.89" y="462" width="4.94" height="5.3" fill="#caad59"/><rect x="286.89" y="467.25" width="4.94" height="5.3" fill="#ccb05b"/><rect x="291.78" y="462" width="4.94" height="5.3" fill="#ccb05b"/><rect x="291.78" y="467.25" width="4.94" height="5.3" fill="#cbaf5a"/><rect x="296.67" y="462" width="4.94" height="5.3" fill="#ccb05b"/><rect x="296.67" y="467.25" width="4.94" height="5.3" fill="#cbaf5a"/><rect x="301.56" y="462" width="4.94" height="5.3" fill="#ccb15c"/><rect x="301.56" y="467.25" width="4.94" height="5.3" fill="#ccaf5b"/><rect x="306.44" y="462" width="4.94" height="5.3" fill="#cdb35d"/><rect x="306.44" y="467.25" width="4.94" height="5.3" fill="#cdb35d"/><rect x="311.33" y="462" width="4.94" height="5.3" fill="#cfb75f"/><rect x="311.33" y="467.25" width="4.94" height="5.3" fill="#d1bb62"/><rect x="316.22" y="462" width="4.94" height="5.3" fill="#d1bb62"/><rect x="316.22" y="467.25" width="4.94" height="5.3" fill="#d2bd64"/><rect x="321.11" y="462" width="4.94" height="5.3" fill="#cfb65f"/><rect x="321.11" y="467.25" width="4.94" height="5.3" fill="#d1bb62"/><rect x="287" y="472.5" width="5.05" height="5.05" fill="#ccb05b"/><rect x="287" y="477.5" width="5.05" height="5.05" fill="#ccb05b"/><rect x="292" y="472.5" width="5.05" height="5.05" fill="#ccb15b"/><rect x="292" y="477.5" width="5.05" height="5.05" fill="#ccb05b"/><rect x="297" y="472.5" width="5.05" height="5.05" fill="#ccaf5a"/><rect x="297" y="477.5" width="5.05" height="5.05" fill="#cbae5a"/><rect x="302" y="472.5" width="5.05" height="5.05" fill="#cbae5a"/><rect x="302" y="477.5" width="5.05" height="5.05" fill="#ccb15b"/><rect x="307" y="472.5" width="5.05" height="5.05" fill="#cdb35d"/><rect x="307" y="477.5" width="5.05" height="5.05" fill="#ccb15b"/><rect x="312" y="472.5" width="5.05" height="5.05" fill="#ceb55e"/><rect x="312" y="477.5" width="5.05" height="5.05" fill="#ccb15b"/><rect x="317" y="472.5" width="5.05" height="5.05" fill="#cfb75f"/><rect x="317" y="477.5" width="5.05" height="5.05" fill="#ccb05b"/><rect x="282" y="482.5" width="5.05" height="5.38" fill="#cbaf5a"/><rect x="282" y="487.83" width="5.05" height="5.38" fill="#cdb15c"/><rect x="282" y="493.17" width="5.05" height="5.38" fill="#cbaf5a"/><rect x="287" y="482.5" width="5.05" height="5.38" fill="#ccb05b"/><rect x="287" y="487.83" width="5.05" height="5.38" fill="#cbae5a"/><rect x="287" y="493.17" width="5.05" height="5.38" fill="#ccaf5a"/><rect x="292" y="482.5" width="5.05" height="5.38" fill="#caad59"/><rect x="292" y="487.83" width="5.05" height="5.38" fill="#cbaf5a"/><rect x="292" y="493.17" width="5.05" height="5.38" fill="#ccb05b"/><rect x="297" y="482.5" width="5.05" height="5.38" fill="#cbaf5a"/><rect x="297" y="487.83" width="5.05" height="5.38" fill="#ccb05b"/><rect x="297" y="493.17" width="5.05" height="5.38" fill="#cdb35c"/><rect x="302" y="482.5" width="5.05" height="5.38" fill="#ccb05b"/><rect x="302" y="487.83" width="5.05" height="5.38" fill="#ccb15b"/><rect x="302" y="493.17" width="5.05" height="5.38" fill="#cfb65f"/><rect x="307" y="482.5" width="5.05" height="5.38" fill="#ccb15b"/><rect x="307" y="487.83" width="5.05" height="5.38" fill="#ccb15b"/><rect x="307" y="493.17" width="5.05" height="5.38" fill="#ccb15b"/><rect x="312" y="482.5" width="5.05" height="5.38" fill="#ccb05b"/><rect x="312" y="487.83" width="5.05" height="5.38" fill="#cbae5a"/><rect x="312" y="493.17" width="5.05" height="5.38" fill="#cbaf5a"/><rect x="282" y="498.5" width="5.05" height="6.55" fill="#cbae5a"/><rect x="287" y="498.5" width="5.05" height="6.55" fill="#cbae5a"/><rect x="292" y="498.5" width="5.05" height="6.55" fill="#ccb05b"/><rect x="297" y="498.5" width="5.05" height="6.55" fill="#ceb45e"/><rect x="302" y="498.5" width="5.05" height="6.55" fill="#cfb65f"/><rect x="307" y="498.5" width="5.05" height="6.55" fill="#ceb45d"/><rect x="279" y="505" width="4.76" height="5.05" fill="#ccb05b"/><rect x="283.71" y="505" width="4.76" height="5.05" fill="#cbaf5a"/><rect x="288.43" y="505" width="4.76" height="5.05" fill="#cbaf5a"/><rect x="293.14" y="505" width="4.76" height="5.05" fill="#ccb05b"/><rect x="297.86" y="505" width="4.76" height="5.05" fill="#cbaf5a"/><rect x="302.57" y="505" width="4.76" height="5.05" fill="#cdb25c"/><rect x="307.29" y="505" width="4.76" height="5.05" fill="#cdb15c"/><rect x="279" y="510" width="4.05" height="5.55" fill="#cbaf5a"/><rect x="288" y="510" width="4.85" height="5.55" fill="#cdb25c"/><rect x="292.8" y="510" width="4.85" height="5.55" fill="#cbaf5a"/><rect x="297.6" y="510" width="4.85" height="5.55" fill="#cbaf5a"/><rect x="302.4" y="510" width="4.85" height="5.55" fill="#cbaf5a"/><rect x="307.2" y="510" width="4.85" height="5.55" fill="#cbaf5a"/><rect x="293" y="515.5" width="5.05" height="4.05" fill="#ccb05b"/><rect x="298" y="515.5" width="5.05" height="4.05" fill="#ccb05b"/><rect x="303" y="515.5" width="5.05" height="4.05" fill="#ccb05b"/><rect x="293" y="519.5" width="5.05" height="5.55" fill="#cbaf5a"/><rect x="298" y="519.5" width="5.05" height="5.55" fill="#cbaf5a"/><rect x="298" y="525" width="5.05" height="5.55" fill="#ccb05b"/><rect x="361" y="460" width="5.55" height="5.55" fill="#cbaf5a"/><rect x="361" y="465.5" width="5.55" height="5.55" fill="#ccb15b"/><rect x="361" y="471" width="5.55" height="5.55" fill="#cbaf5a"/><rect x="361" y="476.5" width="5.55" height="5.55" fill="#cbae5a"/><rect x="366.5" y="460" width="5.55" height="5.55" fill="#cbaf5a"/><rect x="366.5" y="465.5" width="5.55" height="5.55" fill="#cbae59"/><rect x="366.5" y="471" width="5.55" height="5.55" fill="#ccb05b"/><rect x="366.5" y="476.5" width="5.55" height="5.55" fill="#cbaf5a"/><rect x="357" y="482" width="5.05" height="5.05" fill="#cbaf5a"/><rect x="357" y="487" width="5.05" height="5.05" fill="#ccb05b"/><rect x="362" y="482" width="5.05" height="5.05" fill="#cbaf5a"/><rect x="362" y="487" width="5.05" height="5.05" fill="#ccb05b"/><rect x="367" y="482" width="5.05" height="5.05" fill="#cbaf5a"/><rect x="367" y="487" width="5.05" height="5.05" fill="#ccb15c"/><rect x="362" y="492" width="5.05" height="5.55" fill="#ccb15b"/><rect x="367" y="492" width="5.05" height="5.55" fill="#ccb05b"/><rect x="362" y="519" width="5.05" height="5.3" fill="#cbaf5a"/><rect x="362" y="524.25" width="5.05" height="5.3" fill="#ccb15b"/><rect x="367" y="519" width="5.05" height="5.3" fill="#ccb05b"/><rect x="367" y="524.25" width="5.05" height="5.3" fill="#cbaf5a"/><rect x="268" y="516" width="5.05" height="4.55" fill="#cbaf5a"/><rect x="273" y="516" width="5.05" height="4.55" fill="#cbae5a"/><rect x="258" y="520.5" width="5.05" height="5.55" fill="#ccb05b"/><rect x="263" y="520.5" width="5.05" height="5.55" fill="#ccb05b"/><rect x="268" y="520.5" width="5.05" height="5.55" fill="#ccb05b"/><rect x="273" y="520.5" width="5.05" height="5.55" fill="#cbae5a"/><rect x="258" y="526" width="5.05" height="5.55" fill="#cbaf5a"/><rect x="263" y="526" width="5.05" height="5.55" fill="#cbaf5a"/><rect x="268" y="526" width="5.05" height="5.55" fill="#cbae59"/><rect x="273" y="526" width="5.05" height="5.55" fill="#ccb15b"/><rect x="278" y="526" width="5.05" height="5.55" fill="#ccb05b"/><rect x="258" y="531.5" width="5.05" height="5.55" fill="#ccb05b"/><rect x="263" y="531.5" width="5.05" height="5.55" fill="#caad59"/><rect x="268" y="531.5" width="5.05" height="5.55" fill="#cbaf5a"/><rect x="273" y="531.5" width="5.05" height="5.55" fill="#cbaf5a"/><rect x="258" y="537" width="5.05" height="5.55" fill="#cbaf5a"/><rect x="263" y="537" width="5.05" height="5.55" fill="#ccb05b"/><rect x="268" y="537" width="5.05" height="5.55" fill="#ccb05b"/><rect x="259" y="542.5" width="4.8" height="5.55" fill="#ccaf5a"/><rect x="263.75" y="542.5" width="4.8" height="5.55" fill="#ccb05b"/><rect x="268.5" y="542.5" width="4.8" height="5.55" fill="#ccb15b"/><rect x="273.25" y="542.5" width="4.8" height="5.55" fill="#ccb15b"/><rect x="259" y="548" width="5.05" height="5.55" fill="#ccb15c"/><rect x="264" y="548" width="5.05" height="5.55" fill="#cdb35d"/><rect x="269" y="548" width="5.05" height="5.55" fill="#ccb05b"/><rect x="274" y="548" width="5.05" height="5.55" fill="#cbae59"/><rect x="259" y="553.5" width="5.05" height="5.3" fill="#d0b75f"/><rect x="259" y="558.75" width="5.05" height="5.3" fill="#d1bb62"/><rect x="264" y="553.5" width="5.05" height="5.3" fill="#d2bb62"/><rect x="264" y="558.75" width="5.05" height="5.3" fill="#d2be65"/><rect x="269" y="553.5" width="5.05" height="5.3" fill="#ccaf5b"/><rect x="269" y="558.75" width="5.05" height="5.3" fill="#cdb35c"/><rect x="274" y="553.5" width="5.05" height="5.3" fill="#cbaf5a"/><rect x="274" y="558.75" width="5.05" height="5.3" fill="#ccb05b"/><rect x="279" y="553.5" width="5.05" height="5.3" fill="#cbaf5a"/><rect x="279" y="558.75" width="5.05" height="5.3" fill="#cbaf5a"/><rect x="284" y="553.5" width="5.05" height="5.3" fill="#ccb05b"/><rect x="284" y="558.75" width="5.05" height="5.3" fill="#ccb05b"/><rect x="289" y="553.5" width="5.05" height="5.3" fill="#ccb05b"/><rect x="289" y="558.75" width="5.05" height="5.3" fill="#caad59"/><rect x="254" y="564" width="5.05" height="5.55" fill="#ccb15b"/><rect x="259" y="564" width="5.05" height="5.55" fill="#ceb55e"/><rect x="264" y="564" width="5.05" height="5.55" fill="#d0b860"/><rect x="279" y="564" width="5.05" height="5.55" fill="#cdb25c"/><rect x="284" y="564" width="5.05" height="5.55" fill="#ccb15c"/><rect x="289" y="564" width="5.05" height="5.55" fill="#ccb15c"/><rect x="294" y="564" width="5.05" height="5.55" fill="#cbaf5a"/><rect x="254" y="569.5" width="5.05" height="5.05" fill="#ccb05b"/><rect x="259" y="569.5" width="5.05" height="5.05" fill="#ccb15b"/><rect x="264" y="569.5" width="5.05" height="5.05" fill="#cdb25c"/><rect x="284" y="569.5" width="5.05" height="5.05" fill="#cfb65f"/><rect x="289" y="569.5" width="5.05" height="5.05" fill="#ceb55e"/><rect x="294" y="569.5" width="5.05" height="5.05" fill="#ccb05b"/><rect x="299" y="569.5" width="5.05" height="5.05" fill="#ccb05b"/><rect x="304" y="568" width="5.05" height="5.55" fill="#caad59"/><rect x="304" y="573.5" width="5.05" height="5.55" fill="#cbaf5a"/><rect x="254" y="574.5" width="5.05" height="5.55" fill="#ccaf5b"/><rect x="259" y="574.5" width="5.05" height="5.55" fill="#ccb05b"/><rect x="264" y="574.5" width="5.05" height="5.55" fill="#ccb05b"/><rect x="284" y="574.5" width="5.05" height="5.55" fill="#cfb55e"/><rect x="289" y="574.5" width="5.05" height="5.55" fill="#ceb45d"/><rect x="259" y="580" width="5.05" height="5.55" fill="#cbae5a"/><rect x="264" y="580" width="5.05" height="5.55" fill="#cdb15c"/><rect x="269" y="580" width="5.05" height="5.55" fill="#ccb05b"/><rect x="284" y="580" width="5.05" height="5.55" fill="#ccb15b"/><rect x="260" y="585.5" width="4.72" height="5.05" fill="#ccb05b"/><rect x="264.67" y="585.5" width="4.72" height="5.05" fill="#cbaf5a"/><rect x="269.33" y="585.5" width="4.72" height="5.05" fill="#cbaf5a"/><rect x="284" y="585.5" width="5.05" height="5.05" fill="#cdb25c"/><rect x="304" y="585.5" width="5.05" height="5.05" fill="#cbaf5a"/><rect x="309" y="585.5" width="5.05" height="5.05" fill="#ccb05b"/><rect x="255" y="590.5" width="4.92" height="5.55" fill="#ccb15b"/><rect x="259.88" y="590.5" width="4.92" height="5.55" fill="#ccb05b"/><rect x="264.75" y="590.5" width="4.92" height="5.55" fill="#cbae5a"/><rect x="269.62" y="590.5" width="4.92" height="5.55" fill="#cbae5a"/><rect x="274.5" y="590.5" width="4.92" height="5.55" fill="#cbae59"/><rect x="279.38" y="590.5" width="4.92" height="5.55" fill="#ccb15b"/><rect x="284.25" y="590.5" width="4.92" height="5.55" fill="#ccb05b"/><rect x="289.12" y="590.5" width="4.92" height="5.55" fill="#cbaf5a"/><rect x="299" y="590.5" width="5.05" height="5.55" fill="#cbaf5a"/><rect x="304" y="590.5" width="5.05" height="5.55" fill="#ccb05b"/><rect x="309" y="590.5" width="5.05" height="5.55" fill="#cbae59"/><rect x="255" y="596" width="4.97" height="7.05" fill="#ccb05b"/><rect x="259.92" y="596" width="4.97" height="7.05" fill="#ccb05b"/><rect x="264.83" y="596" width="4.97" height="7.05" fill="#ccb05b"/><rect x="269.75" y="596" width="4.97" height="7.05" fill="#cbaf5a"/><rect x="274.67" y="596" width="4.97" height="7.05" fill="#ccb15b"/><rect x="279.58" y="596" width="4.97" height="7.05" fill="#cbaf5a"/><rect x="284.5" y="596" width="4.97" height="7.05" fill="#cbae5a"/><rect x="289.42" y="596" width="4.97" height="7.05" fill="#cbaf5a"/><rect x="294.33" y="596" width="4.97" height="7.05" fill="#cbaf5a"/><rect x="299.25" y="596" width="4.97" height="7.05" fill="#cdb15c"/><rect x="304.17" y="596" width="4.97" height="7.05" fill="#cbaf5a"/><rect x="309.08" y="596" width="4.97" height="7.05" fill="#cbaf5a"/><rect x="250" y="399.1" width="4.85" height="4.75" fill="#ccb15b"/>
</g>
<path d="M365 396H372V526H368V520H367V467H366V417H365Z" fill="#97b6e1" shape-rendering="crispEdges"/>
<g transform="translate(0.3 0)">
<use href="#grid2" stroke="#d0d0d0" stroke-width="0.9" opacity="0.4"/>
<use href="#grid" stroke="#a9a9a9" stroke-width="1.0"/>
<use href="#coast" stroke="#808080" stroke-width="1.3" stroke-linejoin="round"/>
</g></g>
<rect x="150.5" y="396.5" width="219" height="208.8" fill="none" stroke="#000" stroke-width="1.1"/>
</g>
<g transform="translate(656 0)">
<g clip-path="url(#axclip)">
<rect x="148" y="394" width="226" height="214" fill="#97b6e1"/>
<polygon points="319.6,594 374,594 374,608 319.6,608" fill="#efefdb"/>
<g clip-path="url(#dataclip)" shape-rendering="crispEdges">
<polygon points="150.2,401.3 372,395.4 372,599 155.9,604.5" fill="#fff6f4"/>
<rect x="280" y="396" width="5.16" height="5.8" fill="#eeebe1"/><rect x="280" y="401.75" width="5.16" height="5.8" fill="#eceae0"/><rect x="280" y="407.5" width="5.16" height="5.8" fill="#e9e8dc"/><rect x="280" y="413.25" width="5.16" height="5.8" fill="#f1ede5"/><rect x="285.11" y="396" width="5.16" height="5.8" fill="#edeae0"/><rect x="285.11" y="401.75" width="5.16" height="5.8" fill="#ece9df"/><rect x="285.11" y="407.5" width="5.16" height="5.8" fill="#eae8dd"/><rect x="285.11" y="413.25" width="5.16" height="5.8" fill="#edeae0"/><rect x="290.22" y="396" width="5.16" height="5.8" fill="#f0ece3"/><rect x="290.22" y="401.75" width="5.16" height="5.8" fill="#f2ede6"/><rect x="290.22" y="407.5" width="5.16" height="5.8" fill="#eeebe2"/><rect x="290.22" y="413.25" width="5.16" height="5.8" fill="#f0ece3"/><rect x="295.33" y="396" width="5.16" height="5.8" fill="#efebe2"/><rect x="295.33" y="401.75" width="5.16" height="5.8" fill="#f0ece4"/><rect x="295.33" y="407.5" width="5.16" height="5.8" fill="#f4eee8"/><rect x="295.33" y="413.25" width="5.16" height="5.8" fill="#eeeae1"/><rect x="300.44" y="396" width="5.16" height="5.8" fill="#efebe2"/><rect x="300.44" y="401.75" width="5.16" height="5.8" fill="#f3eee7"/><rect x="300.44" y="407.5" width="5.16" height="5.8" fill="#f2ede6"/><rect x="300.44" y="413.25" width="5.16" height="5.8" fill="#eeebe2"/><rect x="305.56" y="396" width="5.16" height="5.8" fill="#f2ede6"/><rect x="305.56" y="401.75" width="5.16" height="5.8" fill="#eceae0"/><rect x="305.56" y="407.5" width="5.16" height="5.8" fill="#f0ece4"/><rect x="305.56" y="413.25" width="5.16" height="5.8" fill="#efebe2"/><rect x="310.67" y="396" width="5.16" height="5.8" fill="#eeeae1"/><rect x="310.67" y="401.75" width="5.16" height="5.8" fill="#eeebe1"/><rect x="310.67" y="407.5" width="5.16" height="5.8" fill="#edeae1"/><rect x="310.67" y="413.25" width="5.16" height="5.8" fill="#f4efe8"/><rect x="315.78" y="396" width="5.16" height="5.8" fill="#f0ece4"/><rect x="315.78" y="401.75" width="5.16" height="5.8" fill="#eeeae1"/><rect x="315.78" y="407.5" width="5.16" height="5.8" fill="#f1ece4"/><rect x="315.78" y="413.25" width="5.16" height="5.8" fill="#f3eee7"/><rect x="320.89" y="396" width="5.16" height="5.8" fill="#f0ece3"/><rect x="320.89" y="401.75" width="5.16" height="5.8" fill="#f2ede6"/><rect x="320.89" y="407.5" width="5.16" height="5.8" fill="#eeebe1"/><rect x="320.89" y="413.25" width="5.16" height="5.8" fill="#efece3"/><rect x="326" y="396" width="5.16" height="5.8" fill="#f1ede5"/><rect x="326" y="401.75" width="5.16" height="5.8" fill="#efece3"/><rect x="326" y="407.5" width="5.16" height="5.8" fill="#eceae0"/><rect x="326" y="413.25" width="5.16" height="5.8" fill="#f1ece4"/><rect x="331.11" y="396" width="5.16" height="5.8" fill="#e0e2d4"/><rect x="331.11" y="401.75" width="5.16" height="5.8" fill="#e2e3d6"/><rect x="331.11" y="407.5" width="5.16" height="5.8" fill="#e4e4d7"/><rect x="331.11" y="413.25" width="5.16" height="5.8" fill="#e3e4d6"/><rect x="336.22" y="396" width="5.16" height="5.8" fill="#e0e2d4"/><rect x="336.22" y="401.75" width="5.16" height="5.8" fill="#e5e5d8"/><rect x="336.22" y="407.5" width="5.16" height="5.8" fill="#e4e4d7"/><rect x="336.22" y="413.25" width="5.16" height="5.8" fill="#e7e6da"/><rect x="341.33" y="396" width="5.16" height="5.8" fill="#dfe1d3"/><rect x="341.33" y="401.75" width="5.16" height="5.8" fill="#dfe1d3"/><rect x="341.33" y="407.5" width="5.16" height="5.8" fill="#e3e4d6"/><rect x="341.33" y="413.25" width="5.16" height="5.8" fill="#dadece"/><rect x="346.44" y="396" width="5.16" height="5.8" fill="#e0e2d4"/><rect x="346.44" y="401.75" width="5.16" height="5.8" fill="#dee1d2"/><rect x="346.44" y="407.5" width="5.16" height="5.8" fill="#dde0d1"/><rect x="346.44" y="413.25" width="5.16" height="5.8" fill="#dfe1d2"/><rect x="351.56" y="396" width="5.16" height="5.8" fill="#e1e2d4"/><rect x="351.56" y="401.75" width="5.16" height="5.8" fill="#dadece"/><rect x="351.56" y="407.5" width="5.16" height="5.8" fill="#e0e2d4"/><rect x="351.56" y="413.25" width="5.16" height="5.8" fill="#d8ddcd"/><rect x="356.67" y="396" width="5.16" height="5.8" fill="#dee1d2"/><rect x="356.67" y="401.75" width="5.16" height="5.8" fill="#e1e3d5"/><rect x="356.67" y="407.5" width="5.16" height="5.8" fill="#dee1d2"/><rect x="356.67" y="413.25" width="5.16" height="5.8" fill="#dadece"/><rect x="361.78" y="396" width="5.16" height="5.8" fill="#e4e4d7"/><rect x="361.78" y="401.75" width="5.16" height="5.8" fill="#e0e2d4"/><rect x="361.78" y="407.5" width="5.16" height="5.8" fill="#dfe1d2"/><rect x="361.78" y="413.25" width="5.16" height="5.8" fill="#ccd6c1"/><rect x="366.89" y="396" width="5.16" height="5.8" fill="#dde0d1"/><rect x="366.89" y="401.75" width="5.16" height="5.8" fill="#e2e3d6"/><rect x="366.89" y="407.5" width="5.16" height="5.8" fill="#dbdfcf"/><rect x="366.89" y="413.25" width="5.16" height="5.8" fill="#ccd6c2"/><rect x="277" y="419" width="5.05" height="5.05" fill="#f1ece4"/><rect x="277" y="424" width="5.05" height="5.05" fill="#eeebe1"/><rect x="282" y="419" width="5.05" height="5.05" fill="#f1ece4"/><rect x="282" y="424" width="5.05" height="5.05" fill="#f2ede6"/><rect x="287" y="419" width="5.05" height="5.05" fill="#f8f1ec"/><rect x="287" y="424" width="5.05" height="5.05" fill="#f8f1ec"/><rect x="292" y="419" width="5.05" height="5.05" fill="#f8f1ec"/><rect x="292" y="424" width="5.05" height="5.05" fill="#f8f1ec"/><rect x="297" y="419" width="5.05" height="5.05" fill="#f8f1ec"/><rect x="297" y="424" width="5.05" height="5.05" fill="#f8f1ec"/><rect x="302" y="419" width="5.05" height="5.05" fill="#f8f1ec"/><rect x="302" y="424" width="5.05" height="5.05" fill="#f8f1ec"/><rect x="307" y="419" width="5.05" height="5.05" fill="#f0ece4"/><rect x="307" y="424" width="5.05" height="5.05" fill="#f1ede5"/><rect x="312" y="419" width="5.05" height="5.05" fill="#efece3"/><rect x="312" y="424" width="5.05" height="5.05" fill="#eeebe1"/><rect x="317" y="419" width="5.05" height="5.05" fill="#efebe2"/><rect x="317" y="424" width="5.05" height="5.05" fill="#eeeae1"/><rect x="322" y="419" width="5.05" height="5.05" fill="#f0ece4"/><rect x="322" y="424" width="5.05" height="5.05" fill="#eeebe1"/><rect x="327" y="419" width="5.05" height="5.05" fill="#f0ece4"/><rect x="327" y="424" width="5.05" height="5.05" fill="#f3eee6"/><rect x="332" y="419" width="5.05" height="5.05" fill="#dfe2d3"/><rect x="332" y="424" width="5.05" height="5.05" fill="#dbdfcf"/><rect x="337" y="419" width="5.05" height="5.05" fill="#d8ddcc"/><rect x="337" y="424" width="5.05" height="5.05" fill="#dde0d1"/><rect x="342" y="419" width="5.05" height="5.05" fill="#d3dac8"/><rect x="342" y="424" width="5.05" height="5.05" fill="#d4dbc9"/><rect x="347" y="419" width="5.05" height="5.05" fill="#d2dac7"/><rect x="347" y="424" width="5.05" height="5.05" fill="#d6dcca"/><rect x="352" y="419" width="5.05" height="5.05" fill="#cfd8c4"/><rect x="352" y="424" width="5.05" height="5.05" fill="#cdd7c2"/><rect x="357" y="419" width="5.05" height="5.05" fill="#cdd7c2"/><rect x="357" y="424" width="5.05" height="5.05" fill="#cad5c0"/><rect x="362" y="419" width="5.05" height="5.05" fill="#cad5c0"/><rect x="362" y="424" width="5.05" height="5.05" fill="#cad5c0"/><rect x="367" y="419" width="5.05" height="5.05" fill="#cad5c0"/><rect x="367" y="424" width="5.05" height="5.05" fill="#cad5c0"/><rect x="277" y="429" width="4.99" height="5.05" fill="#f4efe8"/><rect x="281.94" y="429" width="4.99" height="5.05" fill="#f1ede5"/><rect x="286.88" y="429" width="4.99" height="5.05" fill="#f8f1ec"/><rect x="291.81" y="429" width="4.99" height="5.05" fill="#f8f1ec"/><rect x="296.75" y="429" width="4.99" height="5.05" fill="#f8f1ec"/><rect x="301.69" y="429" width="4.99" height="5.05" fill="#f8f1ec"/><rect x="306.62" y="429" width="4.99" height="5.05" fill="#efece3"/><rect x="311.56" y="429" width="4.99" height="5.05" fill="#efebe3"/><rect x="316.5" y="429" width="4.99" height="5.05" fill="#eceae0"/><rect x="321.44" y="429" width="4.99" height="5.05" fill="#efebe2"/><rect x="326.38" y="429" width="4.99" height="5.05" fill="#edeae0"/><rect x="331.31" y="429" width="4.99" height="5.05" fill="#d8ddcc"/><rect x="336.25" y="429" width="4.99" height="5.05" fill="#d9decd"/><rect x="341.19" y="429" width="4.99" height="5.05" fill="#dbdfcf"/><rect x="346.12" y="429" width="4.99" height="5.05" fill="#d5dbca"/><rect x="351.06" y="429" width="4.99" height="5.05" fill="#cfd7c3"/><rect x="361" y="429" width="5.55" height="5.05" fill="#cad5c0"/><rect x="366.5" y="429" width="5.55" height="5.05" fill="#cad5c0"/><rect x="277" y="434" width="4.98" height="5.55" fill="#f3eee7"/><rect x="281.93" y="434" width="4.98" height="5.55" fill="#f5f0e9"/><rect x="286.86" y="434" width="4.98" height="5.55" fill="#f4eee8"/><rect x="291.79" y="434" width="4.98" height="5.55" fill="#f0ece4"/><rect x="296.71" y="434" width="4.98" height="5.55" fill="#f3eee7"/><rect x="301.64" y="434" width="4.98" height="5.55" fill="#f1ece4"/><rect x="306.57" y="434" width="4.98" height="5.55" fill="#edeae0"/><rect x="311.5" y="434" width="4.98" height="5.55" fill="#ebe9de"/><rect x="316.43" y="434" width="4.98" height="5.55" fill="#efece3"/><rect x="321.36" y="434" width="4.98" height="5.55" fill="#ebe9de"/><rect x="326.29" y="434" width="4.98" height="5.55" fill="#e7e6da"/><rect x="331.21" y="434" width="4.98" height="5.55" fill="#d9decd"/><rect x="336.14" y="434" width="4.98" height="5.55" fill="#d0d8c5"/><rect x="341.07" y="434" width="4.98" height="5.55" fill="#d5dbc9"/><rect x="277" y="439.5" width="4.97" height="6.05" fill="#efece3"/><rect x="281.92" y="439.5" width="4.97" height="6.05" fill="#efebe2"/><rect x="286.85" y="439.5" width="4.97" height="6.05" fill="#edeae1"/><rect x="291.77" y="439.5" width="4.97" height="6.05" fill="#f2ede5"/><rect x="296.69" y="439.5" width="4.97" height="6.05" fill="#f0ece4"/><rect x="301.62" y="439.5" width="4.97" height="6.05" fill="#f1ede5"/><rect x="306.54" y="439.5" width="4.97" height="6.05" fill="#e7e6da"/><rect x="311.46" y="439.5" width="4.97" height="6.05" fill="#eae8dd"/><rect x="316.38" y="439.5" width="4.97" height="6.05" fill="#ece9df"/><rect x="321.31" y="439.5" width="4.97" height="6.05" fill="#e0e2d3"/><rect x="326.23" y="439.5" width="4.97" height="6.05" fill="#e2e3d6"/><rect x="331.15" y="439.5" width="4.97" height="6.05" fill="#dbdfcf"/><rect x="336.08" y="439.5" width="4.97" height="6.05" fill="#e0e2d4"/><rect x="271" y="445.5" width="5.05" height="6.05" fill="#efebe2"/><rect x="276" y="445.5" width="5.05" height="6.05" fill="#f0ece4"/><rect x="281" y="445.5" width="5.05" height="6.05" fill="#ece9df"/><rect x="286" y="445.5" width="5.05" height="6.05" fill="#edeae0"/><rect x="291" y="445.5" width="5.05" height="6.05" fill="#ece9df"/><rect x="296" y="445.5" width="5.05" height="6.05" fill="#f0ece4"/><rect x="301" y="445.5" width="5.05" height="6.05" fill="#edeae0"/><rect x="306" y="445.5" width="5.05" height="6.05" fill="#efebe3"/><rect x="311" y="445.5" width="5.05" height="6.05" fill="#ebe9de"/><rect x="316" y="445.5" width="5.05" height="6.05" fill="#e8e6db"/><rect x="321" y="445.5" width="5.05" height="6.05" fill="#dee1d2"/><rect x="326" y="445.5" width="5.05" height="6.05" fill="#d4dbc9"/><rect x="331" y="445.5" width="5.05" height="6.05" fill="#dcdfd0"/><rect x="277" y="451.5" width="4.96" height="4.55" fill="#eceae0"/><rect x="281.91" y="451.5" width="4.96" height="4.55" fill="#eeebe2"/><rect x="286.82" y="451.5" width="4.96" height="4.55" fill="#edeae0"/><rect x="291.73" y="451.5" width="4.96" height="4.55" fill="#efebe2"/><rect x="296.64" y="451.5" width="4.96" height="4.55" fill="#eae8dd"/><rect x="301.55" y="451.5" width="4.96" height="4.55" fill="#eae8dd"/><rect x="306.45" y="451.5" width="4.96" height="4.55" fill="#edeae1"/><rect x="311.36" y="451.5" width="4.96" height="4.55" fill="#e8e7dc"/><rect x="316.27" y="451.5" width="4.96" height="4.55" fill="#eae8dd"/><rect x="321.18" y="451.5" width="4.96" height="4.55" fill="#dce0d0"/><rect x="326.09" y="451.5" width="4.96" height="4.55" fill="#d9dece"/><rect x="281" y="456" width="5.05" height="6.05" fill="#ebe8de"/><rect x="286" y="456" width="5.05" height="6.05" fill="#eeebe1"/><rect x="291" y="456" width="5.05" height="6.05" fill="#eeebe2"/><rect x="296" y="456" width="5.05" height="6.05" fill="#ebe8de"/><rect x="301" y="456" width="5.05" height="6.05" fill="#ece9df"/><rect x="306" y="456" width="5.05" height="6.05" fill="#e7e6da"/><rect x="311" y="456" width="5.05" height="6.05" fill="#e8e7db"/><rect x="316" y="456" width="5.05" height="6.05" fill="#dce0d0"/><rect x="321" y="456" width="5.05" height="6.05" fill="#dadfcf"/><rect x="282" y="462" width="4.94" height="5.3" fill="#ece9df"/><rect x="282" y="467.25" width="4.94" height="5.3" fill="#efebe2"/><rect x="286.89" y="462" width="4.94" height="5.3" fill="#ebe9de"/><rect x="286.89" y="467.25" width="4.94" height="5.3" fill="#ebe9de"/><rect x="291.78" y="462" width="4.94" height="5.3" fill="#e9e7dc"/><rect x="291.78" y="467.25" width="4.94" height="5.3" fill="#ece9df"/><rect x="296.67" y="462" width="4.94" height="5.3" fill="#ece9df"/><rect x="296.67" y="467.25" width="4.94" height="5.3" fill="#ebe9de"/><rect x="301.56" y="462" width="4.94" height="5.3" fill="#edeae0"/><rect x="301.56" y="467.25" width="4.94" height="5.3" fill="#e7e6da"/><rect x="306.44" y="462" width="4.94" height="5.3" fill="#eeebe2"/><rect x="306.44" y="467.25" width="4.94" height="5.3" fill="#e3e4d6"/><rect x="311.33" y="462" width="4.94" height="5.3" fill="#dee1d2"/><rect x="311.33" y="467.25" width="4.94" height="5.3" fill="#e5e5d9"/><rect x="316.22" y="462" width="4.94" height="5.3" fill="#d6dcca"/><rect x="316.22" y="467.25" width="4.94" height="5.3" fill="#e7e6db"/><rect x="321.11" y="462" width="4.94" height="5.3" fill="#d5dcca"/><rect x="321.11" y="467.25" width="4.94" height="5.3" fill="#d6dcca"/><rect x="287" y="472.5" width="5.05" height="5.05" fill="#eae8dd"/><rect x="287" y="477.5" width="5.05" height="5.05" fill="#e1e3d5"/><rect x="292" y="472.5" width="5.05" height="5.05" fill="#e7e6da"/><rect x="292" y="477.5" width="5.05" height="5.05" fill="#e3e4d6"/><rect x="297" y="472.5" width="5.05" height="5.05" fill="#ebe9de"/><rect x="297" y="477.5" width="5.05" height="5.05" fill="#e0e2d4"/><rect x="302" y="472.5" width="5.05" height="5.05" fill="#e5e5d8"/><rect x="302" y="477.5" width="5.05" height="5.05" fill="#dee0d1"/><rect x="307" y="472.5" width="5.05" height="5.05" fill="#dee0d1"/><rect x="307" y="477.5" width="5.05" height="5.05" fill="#d9decd"/><rect x="312" y="472.5" width="5.05" height="5.05" fill="#e0e2d4"/><rect x="312" y="477.5" width="5.05" height="5.05" fill="#d8ddcc"/><rect x="317" y="472.5" width="5.05" height="5.05" fill="#d9decd"/><rect x="317" y="477.5" width="5.05" height="5.05" fill="#d3dac7"/><rect x="282" y="482.5" width="5.05" height="5.38" fill="#e0e2d4"/><rect x="282" y="487.83" width="5.05" height="5.38" fill="#e3e4d6"/><rect x="282" y="493.17" width="5.05" height="5.38" fill="#e4e4d7"/><rect x="287" y="482.5" width="5.05" height="5.38" fill="#dde0d1"/><rect x="287" y="487.83" width="5.05" height="5.38" fill="#dfe1d3"/><rect x="287" y="493.17" width="5.05" height="5.38" fill="#dcdfd0"/><rect x="292" y="482.5" width="5.05" height="5.38" fill="#dde0d1"/><rect x="292" y="487.83" width="5.05" height="5.38" fill="#dadfcf"/><rect x="292" y="493.17" width="5.05" height="5.38" fill="#dce0d0"/><rect x="297" y="482.5" width="5.05" height="5.38" fill="#dbdfcf"/><rect x="297" y="487.83" width="5.05" height="5.38" fill="#dadece"/><rect x="297" y="493.17" width="5.05" height="5.38" fill="#d9decd"/><rect x="302" y="482.5" width="5.05" height="5.38" fill="#dde0d1"/><rect x="302" y="487.83" width="5.05" height="5.38" fill="#d9ddcd"/><rect x="302" y="493.17" width="5.05" height="5.38" fill="#dee1d2"/><rect x="307" y="482.5" width="5.05" height="5.38" fill="#d7dccb"/><rect x="307" y="487.83" width="5.05" height="5.38" fill="#d6dcca"/><rect x="307" y="493.17" width="5.05" height="5.38" fill="#d0d8c5"/><rect x="312" y="482.5" width="5.05" height="5.38" fill="#dbdfcf"/><rect x="312" y="487.83" width="5.05" height="5.38" fill="#d2d9c7"/><rect x="312" y="493.17" width="5.05" height="5.38" fill="#cfd8c4"/><rect x="282" y="498.5" width="5.05" height="6.55" fill="#dde0d1"/><rect x="287" y="498.5" width="5.05" height="6.55" fill="#d9decd"/><rect x="292" y="498.5" width="5.05" height="6.55" fill="#d5dcca"/><rect x="297" y="498.5" width="5.05" height="6.55" fill="#dde0d1"/><rect x="302" y="498.5" width="5.05" height="6.55" fill="#d7dccb"/><rect x="307" y="498.5" width="5.05" height="6.55" fill="#d5dbca"/><rect x="279" y="505" width="4.76" height="5.05" fill="#e8e7db"/><rect x="283.71" y="505" width="4.76" height="5.05" fill="#dde0d1"/><rect x="288.43" y="505" width="4.76" height="5.05" fill="#d0d8c5"/><rect x="293.14" y="505" width="4.76" height="5.05" fill="#d2d9c7"/><rect x="297.86" y="505" width="4.76" height="5.05" fill="#d0d8c5"/><rect x="302.57" y="505" width="4.76" height="5.05" fill="#d0d8c5"/><rect x="307.29" y="505" width="4.76" height="5.05" fill="#d0d8c5"/><rect x="279" y="510" width="4.05" height="5.55" fill="#e9e7dc"/><rect x="288" y="510" width="4.85" height="5.55" fill="#d5dbc9"/><rect x="292.8" y="510" width="4.85" height="5.55" fill="#cfd8c4"/><rect x="297.6" y="510" width="4.85" height="5.55" fill="#d1d9c6"/><rect x="302.4" y="510" width="4.85" height="5.55" fill="#cfd7c4"/><rect x="307.2" y="510" width="4.85" height="5.55" fill="#cdd7c3"/><rect x="293" y="515.5" width="5.05" height="4.05" fill="#d2d9c7"/><rect x="298" y="515.5" width="5.05" height="4.05" fill="#d1d9c5"/><rect x="303" y="515.5" width="5.05" height="4.05" fill="#ced7c3"/><rect x="293" y="519.5" width="5.05" height="5.55" fill="#d2d9c6"/><rect x="298" y="519.5" width="5.05" height="5.55" fill="#ced7c3"/><rect x="298" y="525" width="5.05" height="5.55" fill="#d2dac7"/><rect x="361" y="460" width="5.55" height="5.55" fill="#dee1d2"/><rect x="361" y="465.5" width="5.55" height="5.55" fill="#e0e2d3"/><rect x="361" y="471" width="5.55" height="5.55" fill="#dde0d1"/><rect x="361" y="476.5" width="5.55" height="5.55" fill="#dde0d1"/><rect x="366.5" y="460" width="5.55" height="5.55" fill="#e0e2d4"/><rect x="366.5" y="465.5" width="5.55" height="5.55" fill="#dadece"/><rect x="366.5" y="471" width="5.55" height="5.55" fill="#dde0d1"/><rect x="366.5" y="476.5" width="5.55" height="5.55" fill="#dcdfd0"/><rect x="357" y="482" width="5.05" height="5.05" fill="#dbdfcf"/><rect x="357" y="487" width="5.05" height="5.05" fill="#d7dccb"/><rect x="362" y="482" width="5.05" height="5.05" fill="#d6dccb"/><rect x="362" y="487" width="5.05" height="5.05" fill="#d9decd"/><rect x="367" y="482" width="5.05" height="5.05" fill="#dbdfcf"/><rect x="367" y="487" width="5.05" height="5.05" fill="#dbdfcf"/><rect x="362" y="492" width="5.05" height="5.55" fill="#dde0d1"/><rect x="367" y="492" width="5.05" height="5.55" fill="#dadece"/><rect x="362" y="519" width="5.05" height="5.3" fill="#cad5c0"/><rect x="362" y="524.25" width="5.05" height="5.3" fill="#cad5c0"/><rect x="367" y="519" width="5.05" height="5.3" fill="#cad5c0"/><rect x="367" y="524.25" width="5.05" height="5.3" fill="#cad5c0"/><rect x="268" y="516" width="5.05" height="4.55" fill="#e4e4d7"/><rect x="273" y="516" width="5.05" height="4.55" fill="#e3e4d7"/><rect x="258" y="520.5" width="5.05" height="5.55" fill="#e4e5d8"/><rect x="263" y="520.5" width="5.05" height="5.55" fill="#e3e4d7"/><rect x="268" y="520.5" width="5.05" height="5.55" fill="#e8e7db"/><rect x="273" y="520.5" width="5.05" height="5.55" fill="#e1e2d5"/><rect x="258" y="526" width="5.05" height="5.55" fill="#e3e4d6"/><rect x="263" y="526" width="5.05" height="5.55" fill="#e6e6d9"/><rect x="268" y="526" width="5.05" height="5.55" fill="#e0e2d4"/><rect x="273" y="526" width="5.05" height="5.55" fill="#dfe2d3"/><rect x="278" y="526" width="5.05" height="5.55" fill="#e0e2d4"/><rect x="258" y="531.5" width="5.05" height="5.55" fill="#eae8dd"/><rect x="263" y="531.5" width="5.05" height="5.55" fill="#e6e6d9"/><rect x="268" y="531.5" width="5.05" height="5.55" fill="#e1e3d5"/><rect x="273" y="531.5" width="5.05" height="5.55" fill="#dfe1d3"/><rect x="258" y="537" width="5.05" height="5.55" fill="#e7e6da"/><rect x="263" y="537" width="5.05" height="5.55" fill="#e5e5d8"/><rect x="268" y="537" width="5.05" height="5.55" fill="#e4e4d7"/><rect x="259" y="542.5" width="4.8" height="5.55" fill="#e4e4d7"/><rect x="263.75" y="542.5" width="4.8" height="5.55" fill="#e2e3d5"/><rect x="268.5" y="542.5" width="4.8" height="5.55" fill="#e1e2d4"/><rect x="273.25" y="542.5" width="4.8" height="5.55" fill="#e6e5d9"/><rect x="259" y="548" width="5.05" height="5.55" fill="#e6e5d9"/><rect x="264" y="548" width="5.05" height="5.55" fill="#e2e3d6"/><rect x="269" y="548" width="5.05" height="5.55" fill="#e4e5d8"/><rect x="274" y="548" width="5.05" height="5.55" fill="#dee0d1"/><rect x="259" y="553.5" width="5.05" height="5.3" fill="#e4e4d7"/><rect x="259" y="558.75" width="5.05" height="5.3" fill="#e6e6da"/><rect x="264" y="553.5" width="5.05" height="5.3" fill="#e9e8dc"/><rect x="264" y="558.75" width="5.05" height="5.3" fill="#e4e4d7"/><rect x="269" y="553.5" width="5.05" height="5.3" fill="#e3e4d7"/><rect x="269" y="558.75" width="5.05" height="5.3" fill="#e4e4d8"/><rect x="274" y="553.5" width="5.05" height="5.3" fill="#e1e3d5"/><rect x="274" y="558.75" width="5.05" height="5.3" fill="#e0e2d4"/><rect x="279" y="553.5" width="5.05" height="5.3" fill="#dbdfcf"/><rect x="279" y="558.75" width="5.05" height="5.3" fill="#e1e2d5"/><rect x="284" y="553.5" width="5.05" height="5.3" fill="#dde0d1"/><rect x="284" y="558.75" width="5.05" height="5.3" fill="#e0e2d4"/><rect x="289" y="553.5" width="5.05" height="5.3" fill="#dcdfd0"/><rect x="289" y="558.75" width="5.05" height="5.3" fill="#d9ddcd"/><rect x="254" y="564" width="5.05" height="5.55" fill="#efebe2"/><rect x="259" y="564" width="5.05" height="5.55" fill="#edeae1"/><rect x="264" y="564" width="5.05" height="5.55" fill="#e4e4d7"/><rect x="279" y="564" width="5.05" height="5.55" fill="#e2e3d6"/><rect x="284" y="564" width="5.05" height="5.55" fill="#dee1d2"/><rect x="289" y="564" width="5.05" height="5.55" fill="#dde0d1"/><rect x="294" y="564" width="5.05" height="5.55" fill="#d8ddcc"/><rect x="254" y="569.5" width="5.05" height="5.05" fill="#eeebe2"/><rect x="259" y="569.5" width="5.05" height="5.05" fill="#f0ece3"/><rect x="264" y="569.5" width="5.05" height="5.05" fill="#e5e5d8"/><rect x="284" y="569.5" width="5.05" height="5.05" fill="#dde0d1"/><rect x="289" y="569.5" width="5.05" height="5.05" fill="#d9decd"/><rect x="294" y="569.5" width="5.05" height="5.05" fill="#dee0d1"/><rect x="299" y="569.5" width="5.05" height="5.05" fill="#dbdfcf"/><rect x="304" y="568" width="5.05" height="5.55" fill="#d6dcca"/><rect x="304" y="573.5" width="5.05" height="5.55" fill="#d9dece"/><rect x="254" y="574.5" width="5.05" height="5.55" fill="#edeae0"/><rect x="259" y="574.5" width="5.05" height="5.55" fill="#edeae1"/><rect x="264" y="574.5" width="5.05" height="5.55" fill="#e2e3d5"/><rect x="284" y="574.5" width="5.05" height="5.55" fill="#d9decd"/><rect x="289" y="574.5" width="5.05" height="5.55" fill="#dbdfcf"/><rect x="259" y="580" width="5.05" height="5.55" fill="#e9e8dc"/><rect x="264" y="580" width="5.05" height="5.55" fill="#e4e4d7"/><rect x="269" y="580" width="5.05" height="5.55" fill="#e1e3d5"/><rect x="284" y="580" width="5.05" height="5.55" fill="#dfe1d2"/><rect x="260" y="585.5" width="4.72" height="5.05" fill="#e8e7db"/><rect x="264.67" y="585.5" width="4.72" height="5.05" fill="#e4e4d7"/><rect x="269.33" y="585.5" width="4.72" height="5.05" fill="#e4e4d7"/><rect x="284" y="585.5" width="5.05" height="5.05" fill="#e0e2d3"/><rect x="304" y="585.5" width="5.05" height="5.05" fill="#dadece"/><rect x="309" y="585.5" width="5.05" height="5.05" fill="#d6dccb"/><rect x="255" y="590.5" width="4.92" height="5.55" fill="#edeae0"/><rect x="259.88" y="590.5" width="4.92" height="5.55" fill="#e6e5d9"/><rect x="264.75" y="590.5" width="4.92" height="5.55" fill="#e9e7dc"/><rect x="269.62" y="590.5" width="4.92" height="5.55" fill="#e3e4d7"/><rect x="274.5" y="590.5" width="4.92" height="5.55" fill="#dfe1d2"/><rect x="279.38" y="590.5" width="4.92" height="5.55" fill="#e0e2d3"/><rect x="284.25" y="590.5" width="4.92" height="5.55" fill="#dbdfcf"/><rect x="289.12" y="590.5" width="4.92" height="5.55" fill="#dbdfd0"/><rect x="299" y="590.5" width="5.05" height="5.55" fill="#dbdfcf"/><rect x="304" y="590.5" width="5.05" height="5.55" fill="#dbdfcf"/><rect x="309" y="590.5" width="5.05" height="5.55" fill="#d9decd"/><rect x="255" y="596" width="4.97" height="7.05" fill="#ebe9de"/><rect x="259.92" y="596" width="4.97" height="7.05" fill="#e7e6da"/><rect x="264.83" y="596" width="4.97" height="7.05" fill="#e2e3d5"/><rect x="269.75" y="596" width="4.97" height="7.05" fill="#e0e2d4"/><rect x="274.67" y="596" width="4.97" height="7.05" fill="#e3e4d6"/><rect x="279.58" y="596" width="4.97" height="7.05" fill="#e1e3d5"/><rect x="284.5" y="596" width="4.97" height="7.05" fill="#e0e2d4"/><rect x="289.42" y="596" width="4.97" height="7.05" fill="#d7ddcc"/><rect x="294.33" y="596" width="4.97" height="7.05" fill="#dadece"/><rect x="299.25" y="596" width="4.97" height="7.05" fill="#d7dccb"/><rect x="304.17" y="596" width="4.97" height="7.05" fill="#d7ddcc"/><rect x="309.08" y="596" width="4.97" height="7.05" fill="#d7dccb"/><rect x="250" y="399.1" width="4.85" height="4.75" fill="#e1e2d4"/>
</g>
<path d="M365 396H372V526H368V520H367V467H366V417H365Z" fill="#97b6e1" shape-rendering="crispEdges"/>
<g transform="translate(0.6 0)">
<use href="#grid2" stroke="#d0d0d0" stroke-width="0.9" opacity="0.4"/>
<use href="#grid" stroke="#a9a9a9" stroke-width="1.0"/>
<use href="#coast" stroke="#808080" stroke-width="1.3" stroke-linejoin="round"/>
</g></g>
<rect x="150.5" y="396.5" width="219" height="208.8" fill="none" stroke="#000" stroke-width="1.1"/>
</g>
<text x="600" y="27.6" font-size="17" text-anchor="middle" textLength="322" lengthAdjust="spacingAndGlyphs">GP kernel - helmholtz_psi_w_matern12</text>
<text x="600" y="48.9" font-size="17" text-anchor="middle" textLength="192.5" lengthAdjust="spacingAndGlyphs">2026-03-19T01:00:00Z</text>
<text x="260" y="72.8" font-size="17" text-anchor="middle" textLength="59" lengthAdjust="spacingAndGlyphs">u [m/s]</text>
<text x="588" y="72.8" font-size="17" text-anchor="middle" textLength="58.3" lengthAdjust="spacingAndGlyphs">v [m/s]</text>
<text x="260" y="366.8" font-size="17" text-anchor="middle" textLength="95.2" lengthAdjust="spacingAndGlyphs">u std. [m/s]</text>
<text x="588" y="366.8" font-size="17" text-anchor="middle" textLength="94.6" lengthAdjust="spacingAndGlyphs">v std. [m/s]</text>
<text x="874.05" y="71.6" font-size="17" text-anchor="start" textLength="56" lengthAdjust="spacingAndGlyphs">q [K hr</text>
<text x="935.65" y="64.9" font-size="11.9" text-anchor="start" textLength="15.4" lengthAdjust="spacingAndGlyphs">−1</text>
<text x="953.65" y="71.6" font-size="17" text-anchor="start">]</text>
<text x="855.85" y="365.6" font-size="17" text-anchor="start" textLength="92.4" lengthAdjust="spacingAndGlyphs">q std. [K hr</text>
<text x="953.85" y="358.9" font-size="11.9" text-anchor="start" textLength="15.4" lengthAdjust="spacingAndGlyphs">−1</text>
<text x="971.85" y="365.6" font-size="17" text-anchor="start">]</text>
<text x="151.5" y="91.7" font-size="14.1" text-anchor="middle" textLength="53.9" lengthAdjust="spacingAndGlyphs">112.5°E</text>
<text x="157.3" y="328.7" font-size="14.1" text-anchor="middle" textLength="53.9" lengthAdjust="spacingAndGlyphs">112.5°E</text>
<text x="213.85" y="91.7" font-size="14.1" text-anchor="middle" textLength="40.6" lengthAdjust="spacingAndGlyphs">113°E</text>
<text x="219.7" y="328.7" font-size="14.1" text-anchor="middle" textLength="40.6" lengthAdjust="spacingAndGlyphs">113°E</text>
<text x="276.5" y="91.7" font-size="14.1" text-anchor="middle" textLength="53.9" lengthAdjust="spacingAndGlyphs">113.5°E</text>
<text x="281.7" y="328.7" font-size="14.1" text-anchor="middle" textLength="53.9" lengthAdjust="spacingAndGlyphs">113.5°E</text>
<text x="339.2" y="91.7" font-size="14.1" text-anchor="middle" textLength="40.6" lengthAdjust="spacingAndGlyphs">114°E</text>
<text x="342.8" y="328.7" font-size="14.1" text-anchor="middle" textLength="40.6" lengthAdjust="spacingAndGlyphs">114°E</text>
<text x="142.2" y="125.9" font-size="14.1" text-anchor="end" textLength="45.8" lengthAdjust="spacingAndGlyphs">21.6°S</text>
<text x="142.34" y="152.72" font-size="14.1" text-anchor="end" textLength="45.8" lengthAdjust="spacingAndGlyphs">21.8°S</text>
<text x="142.49" y="179.54" font-size="14.1" text-anchor="end" textLength="32.5" lengthAdjust="spacingAndGlyphs">22°S</text>
<text x="142.63" y="206.36" font-size="14.1" text-anchor="end" textLength="45.8" lengthAdjust="spacingAndGlyphs">22.2°S</text>
<text x="142.77" y="233.18" font-size="14.1" text-anchor="end" textLength="45.8" lengthAdjust="spacingAndGlyphs">22.4°S</text>
<text x="142.91" y="260" font-size="14.1" text-anchor="end" textLength="45.8" lengthAdjust="spacingAndGlyphs">22.6°S</text>
<text x="143.06" y="286.82" font-size="14.1" text-anchor="end" textLength="45.8" lengthAdjust="spacingAndGlyphs">22.8°S</text>
<text x="143.2" y="312.8" font-size="14.1" text-anchor="end" textLength="32.5" lengthAdjust="spacingAndGlyphs">23°S</text>
<text x="479.8" y="91.7" font-size="14.1" text-anchor="middle" textLength="53.9" lengthAdjust="spacingAndGlyphs">112.5°E</text>
<text x="485.6" y="328.7" font-size="14.1" text-anchor="middle" textLength="53.9" lengthAdjust="spacingAndGlyphs">112.5°E</text>
<text x="542.15" y="91.7" font-size="14.1" text-anchor="middle" textLength="40.6" lengthAdjust="spacingAndGlyphs">113°E</text>
<text x="548" y="328.7" font-size="14.1" text-anchor="middle" textLength="40.6" lengthAdjust="spacingAndGlyphs">113°E</text>
<text x="604.8" y="91.7" font-size="14.1" text-anchor="middle" textLength="53.9" lengthAdjust="spacingAndGlyphs">113.5°E</text>
<text x="610" y="328.7" font-size="14.1" text-anchor="middle" textLength="53.9" lengthAdjust="spacingAndGlyphs">113.5°E</text>
<text x="667.5" y="91.7" font-size="14.1" text-anchor="middle" textLength="40.6" lengthAdjust="spacingAndGlyphs">114°E</text>
<text x="671.1" y="328.7" font-size="14.1" text-anchor="middle" textLength="40.6" lengthAdjust="spacingAndGlyphs">114°E</text>
<text x="470.5" y="125.9" font-size="14.1" text-anchor="end" textLength="45.8" lengthAdjust="spacingAndGlyphs">21.6°S</text>
<text x="470.64" y="152.72" font-size="14.1" text-anchor="end" textLength="45.8" lengthAdjust="spacingAndGlyphs">21.8°S</text>
<text x="470.79" y="179.54" font-size="14.1" text-anchor="end" textLength="32.5" lengthAdjust="spacingAndGlyphs">22°S</text>
<text x="470.93" y="206.36" font-size="14.1" text-anchor="end" textLength="45.8" lengthAdjust="spacingAndGlyphs">22.2°S</text>
<text x="471.07" y="233.18" font-size="14.1" text-anchor="end" textLength="45.8" lengthAdjust="spacingAndGlyphs">22.4°S</text>
<text x="471.21" y="260" font-size="14.1" text-anchor="end" textLength="45.8" lengthAdjust="spacingAndGlyphs">22.6°S</text>
<text x="471.36" y="286.82" font-size="14.1" text-anchor="end" textLength="45.8" lengthAdjust="spacingAndGlyphs">22.8°S</text>
<text x="471.5" y="312.8" font-size="14.1" text-anchor="end" textLength="32.5" lengthAdjust="spacingAndGlyphs">23°S</text>
<text x="808.1" y="91.7" font-size="14.1" text-anchor="middle" textLength="53.9" lengthAdjust="spacingAndGlyphs">112.5°E</text>
<text x="813.9" y="328.7" font-size="14.1" text-anchor="middle" textLength="53.9" lengthAdjust="spacingAndGlyphs">112.5°E</text>
<text x="870.45" y="91.7" font-size="14.1" text-anchor="middle" textLength="40.6" lengthAdjust="spacingAndGlyphs">113°E</text>
<text x="876.3" y="328.7" font-size="14.1" text-anchor="middle" textLength="40.6" lengthAdjust="spacingAndGlyphs">113°E</text>
<text x="933.1" y="91.7" font-size="14.1" text-anchor="middle" textLength="53.9" lengthAdjust="spacingAndGlyphs">113.5°E</text>
<text x="938.3" y="328.7" font-size="14.1" text-anchor="middle" textLength="53.9" lengthAdjust="spacingAndGlyphs">113.5°E</text>
<text x="995.8" y="91.7" font-size="14.1" text-anchor="middle" textLength="40.6" lengthAdjust="spacingAndGlyphs">114°E</text>
<text x="999.4" y="328.7" font-size="14.1" text-anchor="middle" textLength="40.6" lengthAdjust="spacingAndGlyphs">114°E</text>
<text x="798.8" y="125.9" font-size="14.1" text-anchor="end" textLength="45.8" lengthAdjust="spacingAndGlyphs">21.6°S</text>
<text x="798.94" y="152.72" font-size="14.1" text-anchor="end" textLength="45.8" lengthAdjust="spacingAndGlyphs">21.8°S</text>
<text x="799.09" y="179.54" font-size="14.1" text-anchor="end" textLength="32.5" lengthAdjust="spacingAndGlyphs">22°S</text>
<text x="799.23" y="206.36" font-size="14.1" text-anchor="end" textLength="45.8" lengthAdjust="spacingAndGlyphs">22.2°S</text>
<text x="799.37" y="233.18" font-size="14.1" text-anchor="end" textLength="45.8" lengthAdjust="spacingAndGlyphs">22.4°S</text>
<text x="799.51" y="260" font-size="14.1" text-anchor="end" textLength="45.8" lengthAdjust="spacingAndGlyphs">22.6°S</text>
<text x="799.66" y="286.82" font-size="14.1" text-anchor="end" textLength="45.8" lengthAdjust="spacingAndGlyphs">22.8°S</text>
<text x="799.8" y="312.8" font-size="14.1" text-anchor="end" textLength="32.5" lengthAdjust="spacingAndGlyphs">23°S</text>
<text x="151.5" y="385.7" font-size="14.1" text-anchor="middle" textLength="53.9" lengthAdjust="spacingAndGlyphs">112.5°E</text>
<text x="157.3" y="622.7" font-size="14.1" text-anchor="middle" textLength="53.9" lengthAdjust="spacingAndGlyphs">112.5°E</text>
<text x="213.85" y="385.7" font-size="14.1" text-anchor="middle" textLength="40.6" lengthAdjust="spacingAndGlyphs">113°E</text>
<text x="219.7" y="622.7" font-size="14.1" text-anchor="middle" textLength="40.6" lengthAdjust="spacingAndGlyphs">113°E</text>
<text x="276.5" y="385.7" font-size="14.1" text-anchor="middle" textLength="53.9" lengthAdjust="spacingAndGlyphs">113.5°E</text>
<text x="281.7" y="622.7" font-size="14.1" text-anchor="middle" textLength="53.9" lengthAdjust="spacingAndGlyphs">113.5°E</text>
<text x="339.2" y="385.7" font-size="14.1" text-anchor="middle" textLength="40.6" lengthAdjust="spacingAndGlyphs">114°E</text>
<text x="342.8" y="622.7" font-size="14.1" text-anchor="middle" textLength="40.6" lengthAdjust="spacingAndGlyphs">114°E</text>
<text x="142.2" y="419.9" font-size="14.1" text-anchor="end" textLength="45.8" lengthAdjust="spacingAndGlyphs">21.6°S</text>
<text x="142.34" y="446.72" font-size="14.1" text-anchor="end" textLength="45.8" lengthAdjust="spacingAndGlyphs">21.8°S</text>
<text x="142.49" y="473.54" font-size="14.1" text-anchor="end" textLength="32.5" lengthAdjust="spacingAndGlyphs">22°S</text>
<text x="142.63" y="500.36" font-size="14.1" text-anchor="end" textLength="45.8" lengthAdjust="spacingAndGlyphs">22.2°S</text>
<text x="142.77" y="527.18" font-size="14.1" text-anchor="end" textLength="45.8" lengthAdjust="spacingAndGlyphs">22.4°S</text>
<text x="142.91" y="554" font-size="14.1" text-anchor="end" textLength="45.8" lengthAdjust="spacingAndGlyphs">22.6°S</text>
<text x="143.06" y="580.82" font-size="14.1" text-anchor="end" textLength="45.8" lengthAdjust="spacingAndGlyphs">22.8°S</text>
<text x="143.2" y="606.8" font-size="14.1" text-anchor="end" textLength="32.5" lengthAdjust="spacingAndGlyphs">23°S</text>
<text x="479.8" y="385.7" font-size="14.1" text-anchor="middle" textLength="53.9" lengthAdjust="spacingAndGlyphs">112.5°E</text>
<text x="485.6" y="622.7" font-size="14.1" text-anchor="middle" textLength="53.9" lengthAdjust="spacingAndGlyphs">112.5°E</text>
<text x="542.15" y="385.7" font-size="14.1" text-anchor="middle" textLength="40.6" lengthAdjust="spacingAndGlyphs">113°E</text>
<text x="548" y="622.7" font-size="14.1" text-anchor="middle" textLength="40.6" lengthAdjust="spacingAndGlyphs">113°E</text>
<text x="604.8" y="385.7" font-size="14.1" text-anchor="middle" textLength="53.9" lengthAdjust="spacingAndGlyphs">113.5°E</text>
<text x="610" y="622.7" font-size="14.1" text-anchor="middle" textLength="53.9" lengthAdjust="spacingAndGlyphs">113.5°E</text>
<text x="667.5" y="385.7" font-size="14.1" text-anchor="middle" textLength="40.6" lengthAdjust="spacingAndGlyphs">114°E</text>
<text x="671.1" y="622.7" font-size="14.1" text-anchor="middle" textLength="40.6" lengthAdjust="spacingAndGlyphs">114°E</text>
<text x="470.5" y="419.9" font-size="14.1" text-anchor="end" textLength="45.8" lengthAdjust="spacingAndGlyphs">21.6°S</text>
<text x="470.64" y="446.72" font-size="14.1" text-anchor="end" textLength="45.8" lengthAdjust="spacingAndGlyphs">21.8°S</text>
<text x="470.79" y="473.54" font-size="14.1" text-anchor="end" textLength="32.5" lengthAdjust="spacingAndGlyphs">22°S</text>
<text x="470.93" y="500.36" font-size="14.1" text-anchor="end" textLength="45.8" lengthAdjust="spacingAndGlyphs">22.2°S</text>
<text x="471.07" y="527.18" font-size="14.1" text-anchor="end" textLength="45.8" lengthAdjust="spacingAndGlyphs">22.4°S</text>
<text x="471.21" y="554" font-size="14.1" text-anchor="end" textLength="45.8" lengthAdjust="spacingAndGlyphs">22.6°S</text>
<text x="471.36" y="580.82" font-size="14.1" text-anchor="end" textLength="45.8" lengthAdjust="spacingAndGlyphs">22.8°S</text>
<text x="471.5" y="606.8" font-size="14.1" text-anchor="end" textLength="32.5" lengthAdjust="spacingAndGlyphs">23°S</text>
<text x="808.1" y="385.7" font-size="14.1" text-anchor="middle" textLength="53.9" lengthAdjust="spacingAndGlyphs">112.5°E</text>
<text x="813.9" y="622.7" font-size="14.1" text-anchor="middle" textLength="53.9" lengthAdjust="spacingAndGlyphs">112.5°E</text>
<text x="870.45" y="385.7" font-size="14.1" text-anchor="middle" textLength="40.6" lengthAdjust="spacingAndGlyphs">113°E</text>
<text x="876.3" y="622.7" font-size="14.1" text-anchor="middle" textLength="40.6" lengthAdjust="spacingAndGlyphs">113°E</text>
<text x="933.1" y="385.7" font-size="14.1" text-anchor="middle" textLength="53.9" lengthAdjust="spacingAndGlyphs">113.5°E</text>
<text x="938.3" y="622.7" font-size="14.1" text-anchor="middle" textLength="53.9" lengthAdjust="spacingAndGlyphs">113.5°E</text>
<text x="995.8" y="385.7" font-size="14.1" text-anchor="middle" textLength="40.6" lengthAdjust="spacingAndGlyphs">114°E</text>
<text x="999.4" y="622.7" font-size="14.1" text-anchor="middle" textLength="40.6" lengthAdjust="spacingAndGlyphs">114°E</text>
<text x="798.8" y="419.9" font-size="14.1" text-anchor="end" textLength="45.8" lengthAdjust="spacingAndGlyphs">21.6°S</text>
<text x="798.94" y="446.72" font-size="14.1" text-anchor="end" textLength="45.8" lengthAdjust="spacingAndGlyphs">21.8°S</text>
<text x="799.09" y="473.54" font-size="14.1" text-anchor="end" textLength="32.5" lengthAdjust="spacingAndGlyphs">22°S</text>
<text x="799.23" y="500.36" font-size="14.1" text-anchor="end" textLength="45.8" lengthAdjust="spacingAndGlyphs">22.2°S</text>
<text x="799.37" y="527.18" font-size="14.1" text-anchor="end" textLength="45.8" lengthAdjust="spacingAndGlyphs">22.4°S</text>
<text x="799.51" y="554" font-size="14.1" text-anchor="end" textLength="45.8" lengthAdjust="spacingAndGlyphs">22.6°S</text>
<text x="799.66" y="580.82" font-size="14.1" text-anchor="end" textLength="45.8" lengthAdjust="spacingAndGlyphs">22.8°S</text>
<text x="799.8" y="606.8" font-size="14.1" text-anchor="end" textLength="32.5" lengthAdjust="spacingAndGlyphs">23°S</text>
<linearGradient id="cb0" x1="0" y1="1" x2="0" y2="0"><stop offset="0" stop-color="#112040"/><stop offset="0.1" stop-color="#1c4392"/><stop offset="0.2" stop-color="#2373a0"/><stop offset="0.3" stop-color="#4aa1aa"/><stop offset="0.4" stop-color="#98ccbb"/><stop offset="0.48" stop-color="#ecf3dc"/><stop offset="0.5" stop-color="#fffdcd"/><stop offset="0.55" stop-color="#f6e89e"/><stop offset="0.6" stop-color="#e2cb5c"/><stop offset="0.7" stop-color="#98aa28"/><stop offset="0.8" stop-color="#3e8a37"/><stop offset="0.9" stop-color="#0d6041"/><stop offset="1" stop-color="#172313"/></linearGradient><rect x="383.4" y="182.8" width="2.2" height="48.4" fill="url(#cb0)" stroke="#000" stroke-width="1.1"/><path d="M385.6 182.8h4.9" stroke="#000" stroke-width="1.1"/><text x="396.6" y="187.8" font-size="14.1" text-anchor="start" textLength="8.14" lengthAdjust="spacingAndGlyphs">1</text><path d="M385.6 207.4h4.9" stroke="#000" stroke-width="1.1"/><text x="396.6" y="212.4" font-size="14.1" text-anchor="start" textLength="8.14" lengthAdjust="spacingAndGlyphs">0</text><path d="M385.6 231.2h4.9" stroke="#000" stroke-width="1.1"/><text x="396.3" y="236.2" font-size="14.1" text-anchor="start" textLength="18.8" lengthAdjust="spacingAndGlyphs">−1</text>
<linearGradient id="cb1" x1="0" y1="1" x2="0" y2="0"><stop offset="0" stop-color="#112040"/><stop offset="0.1" stop-color="#1c4392"/><stop offset="0.2" stop-color="#2373a0"/><stop offset="0.3" stop-color="#4aa1aa"/><stop offset="0.4" stop-color="#98ccbb"/><stop offset="0.48" stop-color="#ecf3dc"/><stop offset="0.5" stop-color="#fffdcd"/><stop offset="0.55" stop-color="#f6e89e"/><stop offset="0.6" stop-color="#e2cb5c"/><stop offset="0.7" stop-color="#98aa28"/><stop offset="0.8" stop-color="#3e8a37"/><stop offset="0.9" stop-color="#0d6041"/><stop offset="1" stop-color="#172313"/></linearGradient><rect x="711.4" y="182.8" width="2.2" height="48.4" fill="url(#cb1)" stroke="#000" stroke-width="1.1"/><path d="M713.6 182.8h4.9" stroke="#000" stroke-width="1.1"/><text x="724.6" y="187.8" font-size="14.1" text-anchor="start" textLength="8.14" lengthAdjust="spacingAndGlyphs">1</text><path d="M713.6 207.4h4.9" stroke="#000" stroke-width="1.1"/><text x="724.6" y="212.4" font-size="14.1" text-anchor="start" textLength="8.14" lengthAdjust="spacingAndGlyphs">0</text><path d="M713.6 231.2h4.9" stroke="#000" stroke-width="1.1"/><text x="724.3" y="236.2" font-size="14.1" text-anchor="start" textLength="18.8" lengthAdjust="spacingAndGlyphs">−1</text>
<linearGradient id="cb2" x1="0" y1="1" x2="0" y2="0"><stop offset="0" stop-color="#053061"/><stop offset="0.1" stop-color="#2166ac"/><stop offset="0.2" stop-color="#4393c3"/><stop offset="0.3" stop-color="#92c5de"/><stop offset="0.4" stop-color="#d1e5f0"/><stop offset="0.5" stop-color="#f7f7f7"/><stop offset="0.6" stop-color="#fddbc7"/><stop offset="0.7" stop-color="#f4a582"/><stop offset="0.8" stop-color="#d6604d"/><stop offset="0.9" stop-color="#b2182b"/><stop offset="1" stop-color="#67001f"/></linearGradient><rect x="1039.4" y="182.6" width="2.2" height="48.8" fill="url(#cb2)" stroke="#000" stroke-width="1.1"/><path d="M1041.6 191.4h4.9" stroke="#000" stroke-width="1.1"/><text x="1052.3" y="196.4" font-size="14.1" text-anchor="start" textLength="29.2" lengthAdjust="spacingAndGlyphs">0.25</text><path d="M1041.6 207.4h4.9" stroke="#000" stroke-width="1.1"/><text x="1052.3" y="212.4" font-size="14.1" text-anchor="start" textLength="29.2" lengthAdjust="spacingAndGlyphs">0.00</text><path d="M1041.6 222.6h4.9" stroke="#000" stroke-width="1.1"/><text x="1052.3" y="227.6" font-size="14.1" text-anchor="start" textLength="40.9" lengthAdjust="spacingAndGlyphs">−0.25</text>
<linearGradient id="cb3" x1="0" y1="1" x2="0" y2="0"><stop offset="0" stop-color="#e9f6ab"/><stop offset="0.15" stop-color="#dac86e"/><stop offset="0.3" stop-color="#cba050"/><stop offset="0.45" stop-color="#b27c3e"/><stop offset="0.6" stop-color="#915f34"/><stop offset="0.75" stop-color="#694a32"/><stop offset="0.9" stop-color="#3e3229"/><stop offset="1" stop-color="#221f1b"/></linearGradient><rect x="383.4" y="476.9" width="2.2" height="48.5" fill="url(#cb3)" stroke="#000" stroke-width="1.1"/><path d="M385.6 476.9h4.9" stroke="#000" stroke-width="1.1"/><text x="396.3" y="481.9" font-size="14.1" text-anchor="start" textLength="20.4" lengthAdjust="spacingAndGlyphs">0.5</text><path d="M385.6 525.4h4.9" stroke="#000" stroke-width="1.1"/><text x="396.3" y="530.4" font-size="14.1" text-anchor="start" textLength="20.4" lengthAdjust="spacingAndGlyphs">0.0</text>
<linearGradient id="cb4" x1="0" y1="1" x2="0" y2="0"><stop offset="0" stop-color="#e9f6ab"/><stop offset="0.15" stop-color="#dac86e"/><stop offset="0.3" stop-color="#cba050"/><stop offset="0.45" stop-color="#b27c3e"/><stop offset="0.6" stop-color="#915f34"/><stop offset="0.75" stop-color="#694a32"/><stop offset="0.9" stop-color="#3e3229"/><stop offset="1" stop-color="#221f1b"/></linearGradient><rect x="711.4" y="476.9" width="2.2" height="48.5" fill="url(#cb4)" stroke="#000" stroke-width="1.1"/><path d="M713.6 476.9h4.9" stroke="#000" stroke-width="1.1"/><text x="724.3" y="481.9" font-size="14.1" text-anchor="start" textLength="20.4" lengthAdjust="spacingAndGlyphs">0.5</text><path d="M713.6 525.4h4.9" stroke="#000" stroke-width="1.1"/><text x="724.3" y="530.4" font-size="14.1" text-anchor="start" textLength="20.4" lengthAdjust="spacingAndGlyphs">0.0</text>
<linearGradient id="cb5" x1="0" y1="1" x2="0" y2="0"><stop offset="0" stop-color="#fff6f4"/><stop offset="0.1" stop-color="#eae8dd"/><stop offset="0.2" stop-color="#ced7c3"/><stop offset="0.3" stop-color="#b2cbb0"/><stop offset="0.45" stop-color="#76bc9b"/><stop offset="0.6" stop-color="#2b9f8d"/><stop offset="0.75" stop-color="#127880"/><stop offset="0.9" stop-color="#1c4d6c"/><stop offset="1" stop-color="#151d44"/></linearGradient><rect x="1039.4" y="476.9" width="2.2" height="48.5" fill="url(#cb5)" stroke="#000" stroke-width="1.1"/><path d="M1041.6 476.9h4.9" stroke="#000" stroke-width="1.1"/><text x="1052.3" y="481.9" font-size="14.1" text-anchor="start" textLength="20.4" lengthAdjust="spacingAndGlyphs">0.1</text><path d="M1041.6 525.4h4.9" stroke="#000" stroke-width="1.1"/><text x="1052.3" y="530.4" font-size="14.1" text-anchor="start" textLength="20.4" lengthAdjust="spacingAndGlyphs">0.0</text>
</svg>
</body></html>
